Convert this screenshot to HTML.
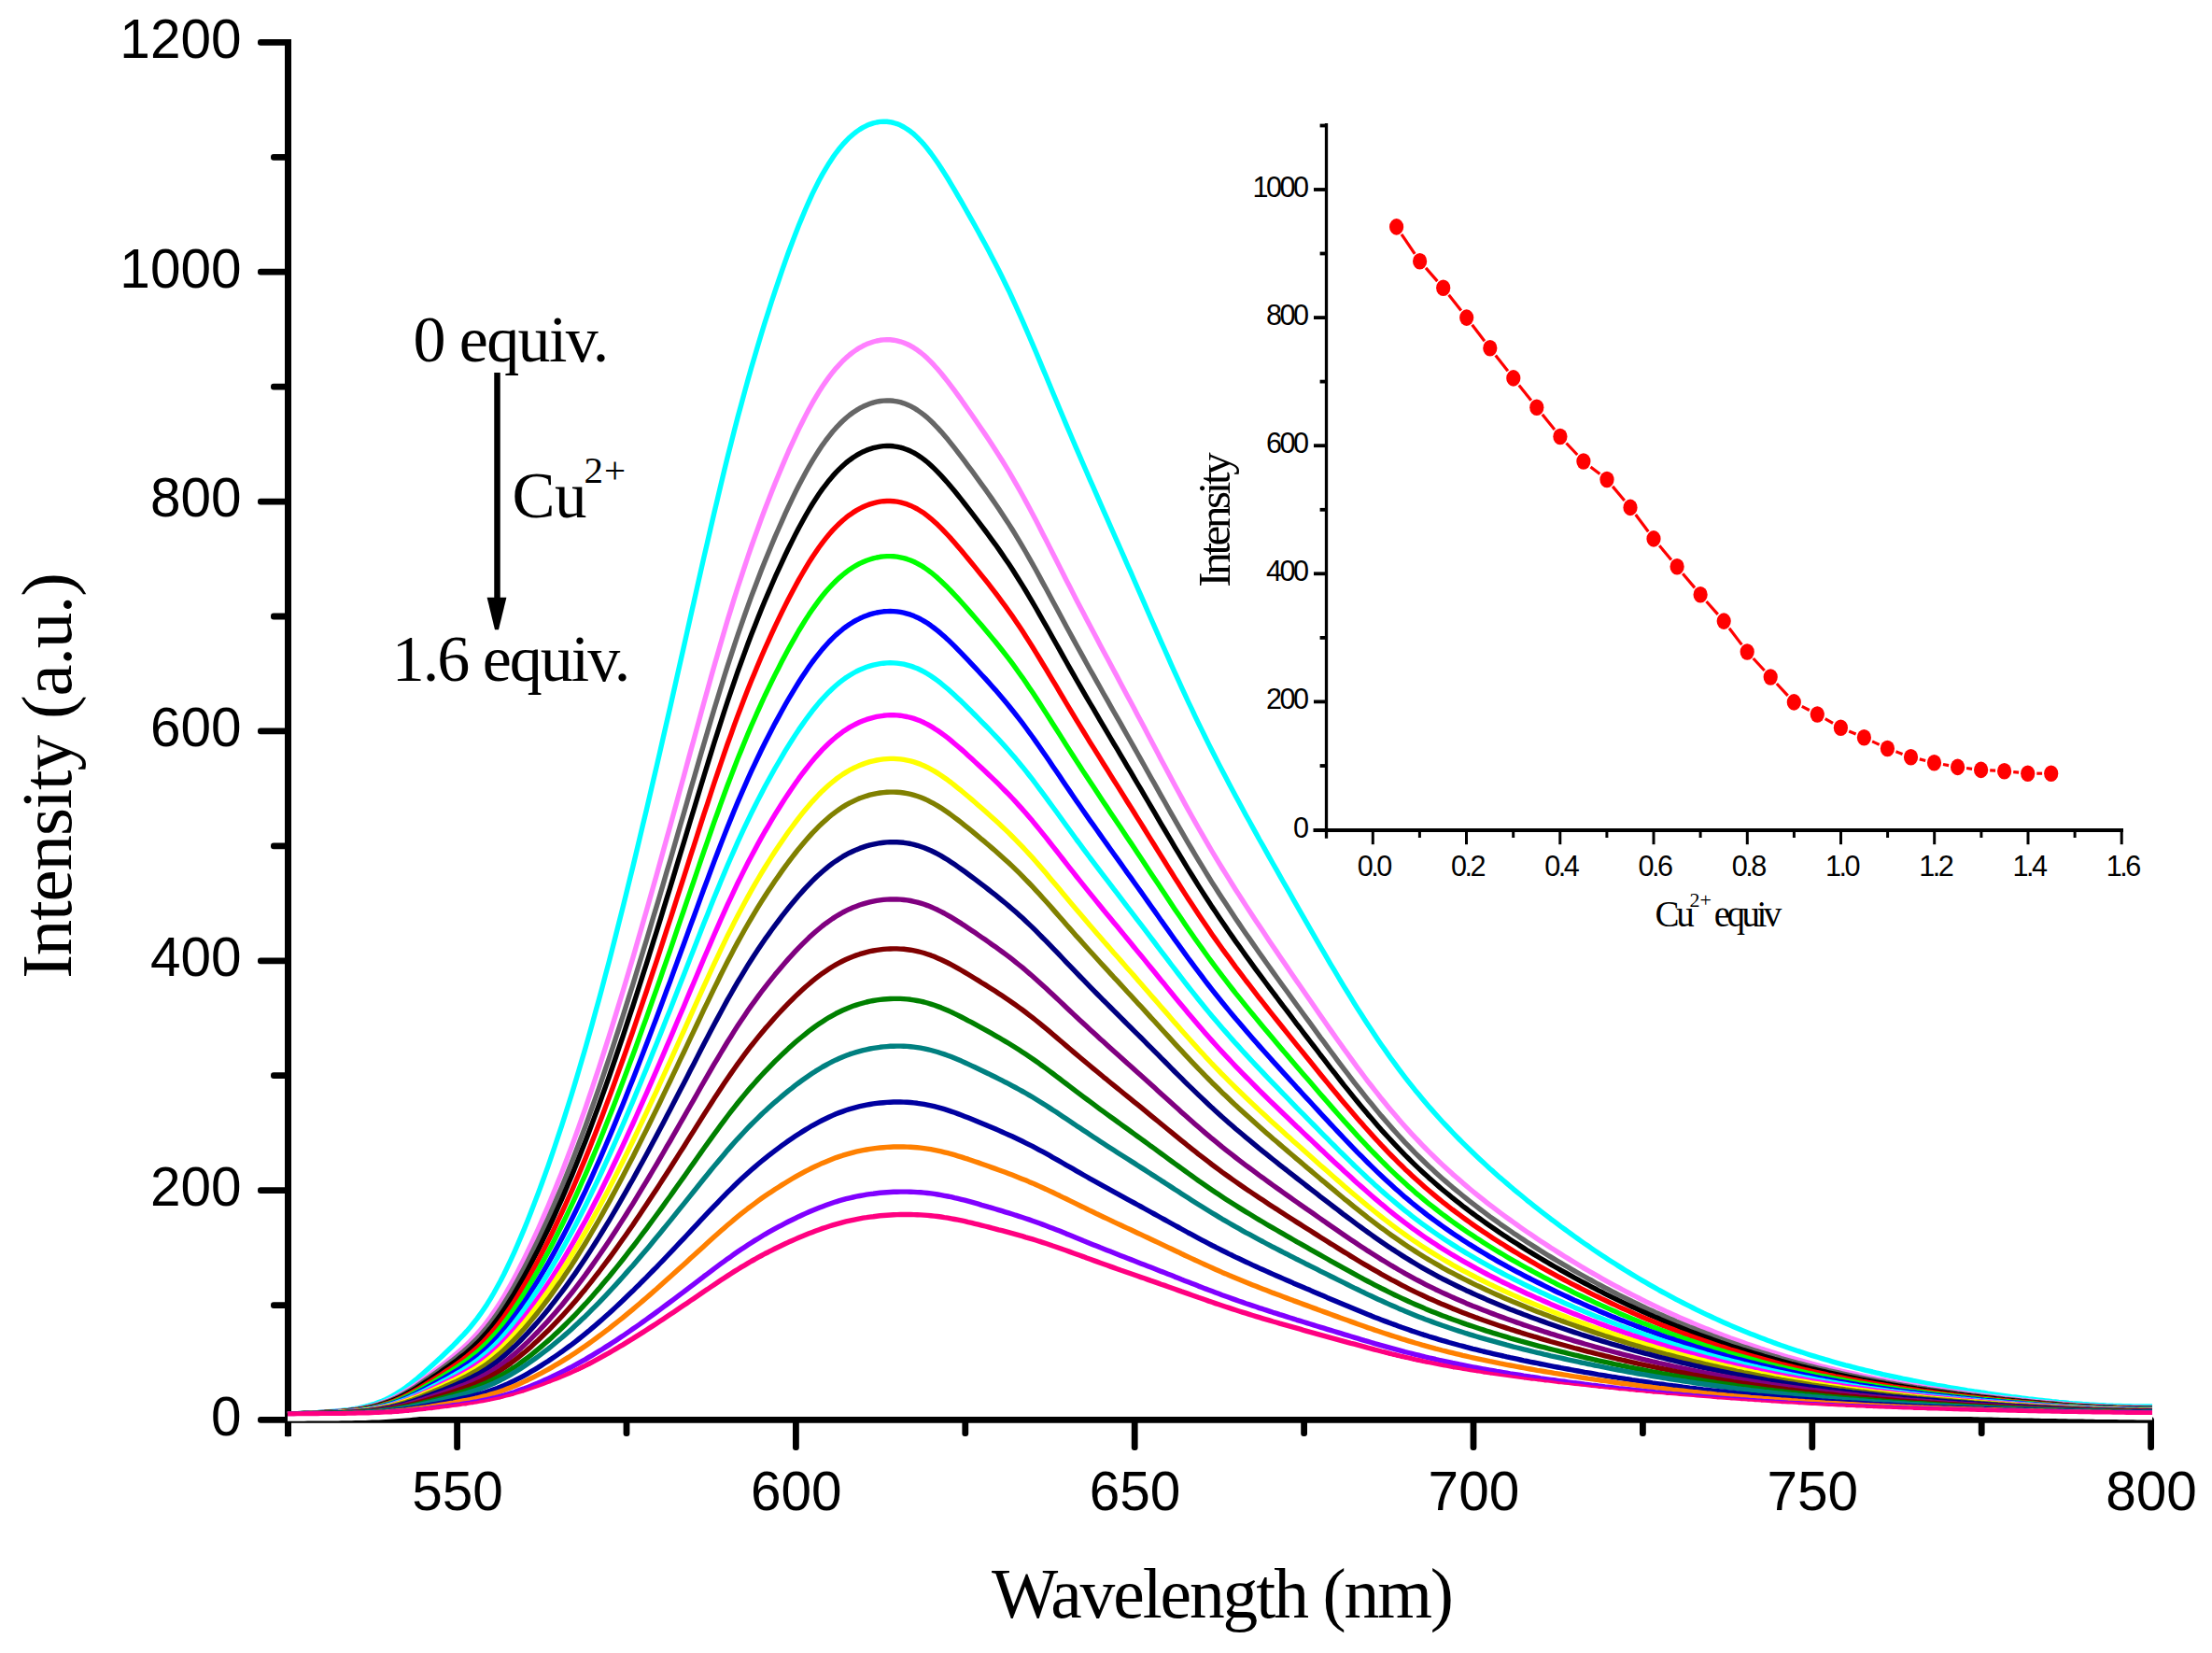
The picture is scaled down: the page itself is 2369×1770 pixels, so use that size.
<!DOCTYPE html>
<html><head><meta charset="utf-8"><title>Fluorescence titration</title>
<style>html,body{margin:0;padding:0;background:#fff}svg{display:block}</style></head>
<body><svg width="2369" height="1770" viewBox="0 0 2369 1770">
<rect width="2369" height="1770" fill="#fff"/>
<g stroke="#000" stroke-width="7" stroke-linecap="butt" fill="none">
<line x1="308.5" y1="42" x2="308.5" y2="1538"/>
<rect x="276" y="1516.9" width="2030.6" height="6.8" rx="3" fill="#000" stroke="none"/>
<rect x="305" y="1500" width="6.9" height="38.2" rx="2" fill="#000" stroke="none"/>
<rect x="290" y="1394.2" width="18" height="6.8" rx="3" fill="#000" stroke="none"/>
<rect x="276" y="1271.2" width="32" height="6.8" rx="3" fill="#000" stroke="none"/>
<rect x="290" y="1148.3" width="18" height="6.8" rx="3" fill="#000" stroke="none"/>
<rect x="276" y="1025.4" width="32" height="6.8" rx="3" fill="#000" stroke="none"/>
<rect x="290" y="902.5" width="18" height="6.8" rx="3" fill="#000" stroke="none"/>
<rect x="276" y="779.5" width="32" height="6.8" rx="3" fill="#000" stroke="none"/>
<rect x="290" y="656.6" width="18" height="6.8" rx="3" fill="#000" stroke="none"/>
<rect x="276" y="533.7" width="32" height="6.8" rx="3" fill="#000" stroke="none"/>
<rect x="290" y="410.7" width="18" height="6.8" rx="3" fill="#000" stroke="none"/>
<rect x="276" y="287.8" width="32" height="6.8" rx="3" fill="#000" stroke="none"/>
<rect x="290" y="164.9" width="18" height="6.8" rx="3" fill="#000" stroke="none"/>
<rect x="276" y="41.9" width="32" height="6.8" rx="3" fill="#000" stroke="none"/>
<rect x="486.2" y="1518" width="6.8" height="35" rx="3" fill="#000" stroke="none"/>
<rect x="667.6" y="1518" width="6.8" height="20" rx="3" fill="#000" stroke="none"/>
<rect x="849.0" y="1518" width="6.8" height="35" rx="3" fill="#000" stroke="none"/>
<rect x="1030.4" y="1518" width="6.8" height="20" rx="3" fill="#000" stroke="none"/>
<rect x="1211.8" y="1518" width="6.8" height="35" rx="3" fill="#000" stroke="none"/>
<rect x="1393.2" y="1518" width="6.8" height="20" rx="3" fill="#000" stroke="none"/>
<rect x="1574.6" y="1518" width="6.8" height="35" rx="3" fill="#000" stroke="none"/>
<rect x="1756.0" y="1518" width="6.8" height="20" rx="3" fill="#000" stroke="none"/>
<rect x="1937.4" y="1518" width="6.8" height="35" rx="3" fill="#000" stroke="none"/>
<rect x="2118.8" y="1518" width="6.8" height="20" rx="3" fill="#000" stroke="none"/>
<rect x="2300.2" y="1518" width="6.8" height="35" rx="3" fill="#000" stroke="none"/>
</g>
<g fill="none" stroke-width="5.4" stroke-linejoin="round" stroke-linecap="butt">
<polyline stroke="#00FFFF" points="308,1514.3 311.2,1514.1 314.9,1513.9 318.5,1513.6 322.1,1513.4 325.7,1513.2 329.4,1513.0 333.0,1512.8 336.6,1512.6 340.3,1512.4 343.9,1512.1 347.5,1511.9 351.1,1511.7 354.8,1511.4 358.4,1511.1 362.0,1510.8 365.6,1510.4 369.3,1510.0 372.9,1509.6 376.5,1509.1 380.2,1508.5 383.8,1507.8 387.4,1507.0 391.0,1506.2 394.7,1505.2 398.3,1504.1 401.9,1503.0 405.6,1501.6 409.2,1500.2 412.8,1498.6 416.4,1496.8 420.1,1494.9 423.7,1492.9 427.3,1490.6 431.0,1488.2 434.6,1485.7 438.2,1483.0 441.8,1480.1 445.5,1477.2 449.1,1474.1 452.7,1471.0 456.3,1467.8 460.0,1464.5 463.6,1461.2 467.2,1457.9 470.9,1454.6 474.5,1451.2 478.1,1447.7 481.7,1444.2 485.4,1440.7 489.0,1437.0 492.6,1433.2 496.3,1429.4 499.9,1425.4 503.5,1421.2 507.1,1416.8 510.8,1412.1 514.4,1407.2 518.0,1402.0 521.7,1396.4 525.3,1390.6 528.9,1384.5 532.5,1378.0 536.2,1371.2 539.8,1364.2 543.4,1356.8 547.0,1349.1 550.7,1341.1 554.3,1332.9 557.9,1324.4 561.6,1315.6 565.2,1306.7 568.8,1297.5 572.4,1288.1 576.1,1278.6 579.7,1268.8 583.3,1258.8 587.0,1248.6 590.6,1238.1 594.2,1227.5 597.8,1216.7 601.5,1205.7 605.1,1194.4 608.7,1183.0 612.4,1171.3 616.0,1159.4 619.6,1147.3 623.2,1135.0 626.9,1122.5 630.5,1109.8 634.1,1096.9 637.7,1083.8 641.4,1070.5 645.0,1057.1 648.6,1043.4 652.3,1029.6 655.9,1015.6 659.5,1001.5 663.1,987.2 666.8,972.7 670.4,958.1 674.0,943.4 677.7,928.5 681.3,913.5 684.9,898.4 688.5,883.2 692.2,867.8 695.8,852.4 699.4,836.8 703.1,821.2 706.7,805.5 710.3,789.7 713.9,773.8 717.6,757.9 721.2,741.9 724.8,725.8 728.4,709.8 732.1,693.6 735.7,677.5 739.3,661.3 743.0,645.1 746.6,629.0 750.2,613.0 753.8,597.0 757.5,581.1 761.1,565.4 764.7,549.8 768.4,534.3 772.0,519.1 775.6,504.1 779.2,489.4 782.9,474.9 786.5,460.7 790.1,446.8 793.8,433.2 797.4,419.9 801.0,406.8 804.6,394.0 808.3,381.5 811.9,369.3 815.5,357.3 819.1,345.5 822.8,334.1 826.4,322.8 830.0,311.8 833.7,301.0 837.3,290.4 840.9,280.1 844.5,270.0 848.2,260.2 851.8,250.7 855.4,241.5 859.1,232.6 862.7,224.0 866.3,215.8 869.9,207.9 873.6,200.4 877.2,193.3 880.8,186.6 884.5,180.3 888.1,174.4 891.7,168.9 895.3,163.8 899.0,159.0 902.6,154.7 906.2,150.8 909.8,147.2 913.5,144.0 917.1,141.1 920.7,138.6 924.4,136.4 928.0,134.6 931.6,133.1 935.2,131.9 938.9,131.0 942.5,130.4 946.1,130.2 949.8,130.3 953.4,130.7 957.0,131.5 960.6,132.6 964.3,134.1 967.9,136.0 971.5,138.2 975.2,140.8 978.8,143.7 982.4,147.1 986.0,150.8 989.7,154.9 993.3,159.3 996.9,164.0 1000.5,169.0 1004.2,174.3 1007.8,179.7 1011.4,185.4 1015.1,191.3 1018.7,197.3 1022.3,203.4 1025.9,209.6 1029.6,215.9 1033.2,222.3 1036.8,228.6 1040.5,235.1 1044.1,241.5 1047.7,248.0 1051.3,254.6 1055.0,261.3 1058.6,268.1 1062.2,274.9 1065.9,281.9 1069.5,289.0 1073.1,296.3 1076.7,303.7 1080.4,311.2 1084.0,319.0 1087.6,326.8 1091.2,334.9 1094.9,343.1 1098.5,351.3 1102.1,359.8 1105.8,368.3 1109.4,376.8 1113.0,385.4 1116.6,394.1 1120.3,402.8 1123.9,411.5 1127.5,420.3 1131.2,429.0 1134.8,437.7 1138.4,446.3 1142.0,454.9 1145.7,463.5 1149.3,472.0 1152.9,480.4 1156.6,488.8 1160.2,497.2 1163.8,505.5 1167.4,513.9 1171.1,522.1 1174.7,530.4 1178.3,538.6 1181.9,546.9 1185.6,555.1 1189.2,563.3 1192.8,571.5 1196.5,579.8 1200.1,588.0 1203.7,596.2 1207.3,604.5 1211.0,612.7 1214.6,621.0 1218.2,629.3 1221.9,637.6 1225.5,645.9 1229.1,654.2 1232.7,662.5 1236.4,670.8 1240.0,679.1 1243.6,687.3 1247.3,695.5 1250.9,703.6 1254.5,711.8 1258.1,719.8 1261.8,727.8 1265.4,735.8 1269.0,743.6 1272.6,751.5 1276.3,759.2 1279.9,766.8 1283.5,774.4 1287.2,781.9 1290.8,789.3 1294.4,796.6 1298.0,803.8 1301.7,811.0 1305.3,818.1 1308.9,825.1 1312.6,832.1 1316.2,839.0 1319.8,845.8 1323.4,852.6 1327.1,859.3 1330.7,866.0 1334.3,872.7 1338.0,879.3 1341.6,885.9 1345.2,892.4 1348.8,899.0 1352.5,905.4 1356.1,911.9 1359.7,918.4 1363.3,924.8 1367.0,931.2 1370.6,937.6 1374.2,944.0 1377.9,950.4 1381.5,956.7 1385.1,963.1 1388.7,969.4 1392.4,975.8 1396.0,982.1 1399.6,988.4 1403.3,994.8 1406.9,1001.1 1410.5,1007.4 1414.1,1013.6 1417.8,1019.9 1421.4,1026.1 1425.0,1032.3 1428.7,1038.4 1432.3,1044.5 1435.9,1050.6 1439.5,1056.6 1443.2,1062.5 1446.8,1068.4 1450.4,1074.3 1454.0,1080.1 1457.7,1085.8 1461.3,1091.5 1464.9,1097.0 1468.6,1102.6 1472.2,1108.0 1475.8,1113.4 1479.4,1118.7 1483.1,1123.9 1486.7,1129.1 1490.3,1134.2 1494.0,1139.1 1497.6,1144.1 1501.2,1148.9 1504.8,1153.6 1508.5,1158.3 1512.1,1162.9 1515.7,1167.4 1519.4,1171.8 1523.0,1176.2 1526.6,1180.5 1530.2,1184.7 1533.9,1188.9 1537.5,1193.0 1541.1,1197.0 1544.7,1201.0 1548.4,1204.9 1552.0,1208.7 1555.6,1212.5 1559.3,1216.3 1562.9,1220.0 1566.5,1223.6 1570.1,1227.2 1573.8,1230.8 1577.4,1234.3 1581.0,1237.7 1584.7,1241.2 1588.3,1244.5 1591.9,1247.9 1595.5,1251.2 1599.2,1254.4 1602.8,1257.7 1606.4,1260.9 1610.1,1264.0 1613.7,1267.1 1617.3,1270.2 1620.9,1273.3 1624.6,1276.3 1628.2,1279.3 1631.8,1282.3 1635.4,1285.3 1639.1,1288.2 1642.7,1291.1 1646.3,1293.9 1650.0,1296.8 1653.6,1299.6 1657.2,1302.4 1660.8,1305.2 1664.5,1307.9 1668.1,1310.7 1671.7,1313.4 1675.4,1316.0 1679.0,1318.7 1682.6,1321.3 1686.2,1323.9 1689.9,1326.5 1693.5,1329.1 1697.1,1331.6 1700.8,1334.1 1704.4,1336.6 1708.0,1339.1 1711.6,1341.5 1715.3,1343.9 1718.9,1346.3 1722.5,1348.7 1726.1,1351.0 1729.8,1353.3 1733.4,1355.6 1737.0,1357.9 1740.7,1360.2 1744.3,1362.4 1747.9,1364.6 1751.5,1366.8 1755.2,1369.0 1758.8,1371.1 1762.4,1373.2 1766.1,1375.3 1769.7,1377.4 1773.3,1379.4 1776.9,1381.5 1780.6,1383.5 1784.2,1385.4 1787.8,1387.4 1791.5,1389.4 1795.1,1391.3 1798.7,1393.2 1802.3,1395.0 1806.0,1396.9 1809.6,1398.7 1813.2,1400.5 1816.8,1402.3 1820.5,1404.1 1824.1,1405.9 1827.7,1407.6 1831.4,1409.3 1835.0,1411.0 1838.6,1412.6 1842.2,1414.3 1845.9,1415.9 1849.5,1417.5 1853.1,1419.1 1856.8,1420.7 1860.4,1422.2 1864.0,1423.7 1867.6,1425.2 1871.3,1426.7 1874.9,1428.2 1878.5,1429.6 1882.2,1431.0 1885.8,1432.4 1889.4,1433.8 1893.0,1435.2 1896.7,1436.5 1900.3,1437.9 1903.9,1439.2 1907.5,1440.5 1911.2,1441.7 1914.8,1443.0 1918.4,1444.2 1922.1,1445.5 1925.7,1446.7 1929.3,1447.8 1932.9,1449.0 1936.6,1450.2 1940.2,1451.3 1943.8,1452.4 1947.5,1453.5 1951.1,1454.6 1954.7,1455.7 1958.3,1456.7 1962.0,1457.8 1965.6,1458.8 1969.2,1459.8 1972.9,1460.8 1976.5,1461.8 1980.1,1462.7 1983.7,1463.7 1987.4,1464.6 1991.0,1465.5 1994.6,1466.4 1998.2,1467.3 2001.9,1468.2 2005.5,1469.0 2009.1,1469.9 2012.8,1470.7 2016.4,1471.6 2020.0,1472.4 2023.6,1473.2 2027.3,1474.0 2030.9,1474.7 2034.5,1475.5 2038.2,1476.3 2041.8,1477.0 2045.4,1477.7 2049.0,1478.5 2052.7,1479.2 2056.3,1479.9 2059.9,1480.6 2063.6,1481.3 2067.2,1481.9 2070.8,1482.6 2074.4,1483.3 2078.1,1483.9 2081.7,1484.5 2085.3,1485.2 2088.9,1485.8 2092.6,1486.4 2096.2,1487.0 2099.8,1487.6 2103.5,1488.2 2107.1,1488.8 2110.7,1489.3 2114.3,1489.9 2118.0,1490.4 2121.6,1491.0 2125.2,1491.5 2128.9,1492.1 2132.5,1492.6 2136.1,1493.1 2139.7,1493.6 2143.4,1494.1 2147.0,1494.6 2150.6,1495.1 2154.3,1495.6 2157.9,1496.0 2161.5,1496.5 2165.1,1497.0 2168.8,1497.4 2172.4,1497.9 2176.0,1498.3 2179.6,1498.7 2183.3,1499.1 2186.9,1499.5 2190.5,1499.9 2194.2,1500.3 2197.8,1500.7 2201.4,1501.0 2205.0,1501.4 2208.7,1501.7 2212.3,1502.0 2215.9,1502.4 2219.6,1502.7 2223.2,1502.9 2226.8,1503.2 2230.4,1503.5 2234.1,1503.7 2237.7,1504.0 2241.3,1504.2 2245.0,1504.4 2248.6,1504.6 2252.2,1504.8 2255.8,1505.0 2259.5,1505.1 2263.1,1505.3 2266.7,1505.4 2270.3,1505.5 2274.0,1505.6 2277.6,1505.7 2281.2,1505.8 2284.9,1505.9 2288.5,1505.9 2292.1,1506.0 2295.7,1506.0 2299.4,1506.0 2303.0,1506.0 2305,1506.0"/>
<polyline stroke="#FF80FF" points="308,1514.2 311.2,1514.0 314.9,1513.8 318.5,1513.6 322.1,1513.5 325.7,1513.3 329.4,1513.1 333.0,1512.9 336.6,1512.8 340.3,1512.6 343.9,1512.4 347.5,1512.2 351.1,1512.0 354.8,1511.8 358.4,1511.5 362.0,1511.2 365.6,1510.9 369.3,1510.6 372.9,1510.2 376.5,1509.8 380.2,1509.3 383.8,1508.7 387.4,1508.0 391.0,1507.3 394.7,1506.4 398.3,1505.5 401.9,1504.5 405.6,1503.4 409.2,1502.1 412.8,1500.7 416.4,1499.3 420.1,1497.6 423.7,1495.9 427.3,1494.0 431.0,1492.0 434.6,1489.8 438.2,1487.6 441.8,1485.2 445.5,1482.7 449.1,1480.1 452.7,1477.5 456.3,1474.9 460.0,1472.2 463.6,1469.5 467.2,1466.7 470.9,1463.9 474.5,1461.1 478.1,1458.3 481.7,1455.3 485.4,1452.4 489.0,1449.3 492.6,1446.2 496.3,1443.0 499.9,1439.6 503.5,1436.1 507.1,1432.4 510.8,1428.4 514.4,1424.3 518.0,1419.9 521.7,1415.2 525.3,1410.3 528.9,1405.1 532.5,1399.7 536.2,1394.0 539.8,1388.1 543.4,1381.9 547.0,1375.5 550.7,1368.8 554.3,1361.9 557.9,1354.8 561.6,1347.5 565.2,1340.0 568.8,1332.4 572.4,1324.6 576.1,1316.6 579.7,1308.4 583.3,1300.1 587.0,1291.6 590.6,1282.9 594.2,1274.1 597.8,1265.1 601.5,1255.9 605.1,1246.5 608.7,1237.0 612.4,1227.3 616.0,1217.4 619.6,1207.4 623.2,1197.2 626.9,1186.8 630.5,1176.2 634.1,1165.5 637.7,1154.6 641.4,1143.6 645.0,1132.4 648.6,1121.1 652.3,1109.7 655.9,1098.1 659.5,1086.4 663.1,1074.5 666.8,1062.5 670.4,1050.5 674.0,1038.3 677.7,1026.0 681.3,1013.6 684.9,1001.1 688.5,988.5 692.2,975.8 695.8,963.0 699.4,950.2 703.1,937.3 706.7,924.3 710.3,911.3 713.9,898.2 717.6,885.1 721.2,871.9 724.8,858.7 728.4,845.4 732.1,832.1 735.7,818.8 739.3,805.5 743.0,792.2 746.6,778.9 750.2,765.7 753.8,752.6 757.5,739.5 761.1,726.5 764.7,713.7 768.4,701.0 772.0,688.5 775.6,676.2 779.2,664.0 782.9,652.1 786.5,640.4 790.1,629.0 793.8,617.8 797.4,606.8 801.0,596.0 804.6,585.5 808.3,575.2 811.9,565.1 815.5,555.2 819.1,545.5 822.8,536.1 826.4,526.8 830.0,517.7 833.7,508.8 837.3,500.1 840.9,491.6 844.5,483.2 848.2,475.1 851.8,467.3 855.4,459.6 859.1,452.2 862.7,445.1 866.3,438.2 869.9,431.7 873.6,425.4 877.2,419.4 880.8,413.7 884.5,408.4 888.1,403.4 891.7,398.7 895.3,394.3 899.0,390.3 902.6,386.5 906.2,383.1 909.8,380.0 913.5,377.1 917.1,374.6 920.7,372.3 924.4,370.3 928.0,368.6 931.6,367.2 935.2,366.0 938.9,365.0 942.5,364.3 946.1,363.9 949.8,363.7 953.4,363.8 957.0,364.2 960.6,364.9 964.3,365.8 967.9,367.0 971.5,368.5 975.2,370.3 978.8,372.4 982.4,374.8 986.0,377.5 989.7,380.5 993.3,383.8 996.9,387.4 1000.5,391.2 1004.2,395.3 1007.8,399.5 1011.4,404.0 1015.1,408.6 1018.7,413.3 1022.3,418.2 1025.9,423.2 1029.6,428.2 1033.2,433.4 1036.8,438.5 1040.5,443.7 1044.1,449.0 1047.7,454.2 1051.3,459.5 1055.0,464.9 1058.6,470.3 1062.2,475.8 1065.9,481.4 1069.5,487.1 1073.1,492.8 1076.7,498.7 1080.4,504.7 1084.0,510.8 1087.6,517.1 1091.2,523.4 1094.9,530.0 1098.5,536.6 1102.1,543.3 1105.8,550.2 1109.4,557.1 1113.0,564.1 1116.6,571.2 1120.3,578.3 1123.9,585.4 1127.5,592.5 1131.2,599.7 1134.8,606.9 1138.4,614.0 1142.0,621.2 1145.7,628.3 1149.3,635.4 1152.9,642.4 1156.6,649.4 1160.2,656.3 1163.8,663.2 1167.4,670.1 1171.1,677.0 1174.7,683.8 1178.3,690.7 1181.9,697.5 1185.6,704.3 1189.2,711.0 1192.8,717.8 1196.5,724.6 1200.1,731.4 1203.7,738.2 1207.3,745.0 1211.0,751.8 1214.6,758.6 1218.2,765.4 1221.9,772.2 1225.5,779.1 1229.1,785.9 1232.7,792.8 1236.4,799.7 1240.0,806.5 1243.6,813.4 1247.3,820.2 1250.9,827.0 1254.5,833.8 1258.1,840.6 1261.8,847.3 1265.4,853.9 1269.0,860.6 1272.6,867.1 1276.3,873.7 1279.9,880.1 1283.5,886.5 1287.2,892.9 1290.8,899.2 1294.4,905.4 1298.0,911.5 1301.7,917.6 1305.3,923.6 1308.9,929.5 1312.6,935.4 1316.2,941.2 1319.8,947.0 1323.4,952.7 1327.1,958.4 1330.7,964.0 1334.3,969.6 1338.0,975.2 1341.6,980.7 1345.2,986.2 1348.8,991.6 1352.5,997.1 1356.1,1002.5 1359.7,1007.9 1363.3,1013.3 1367.0,1018.6 1370.6,1023.9 1374.2,1029.3 1377.9,1034.6 1381.5,1039.9 1385.1,1045.2 1388.7,1050.5 1392.4,1055.7 1396.0,1061.0 1399.6,1066.3 1403.3,1071.5 1406.9,1076.8 1410.5,1082.0 1414.1,1087.3 1417.8,1092.5 1421.4,1097.7 1425.0,1102.9 1428.7,1108.1 1432.3,1113.2 1435.9,1118.3 1439.5,1123.4 1443.2,1128.4 1446.8,1133.4 1450.4,1138.4 1454.0,1143.3 1457.7,1148.2 1461.3,1153.0 1464.9,1157.8 1468.6,1162.5 1472.2,1167.1 1475.8,1171.7 1479.4,1176.3 1483.1,1180.8 1486.7,1185.2 1490.3,1189.5 1494.0,1193.8 1497.6,1198.1 1501.2,1202.2 1504.8,1206.3 1508.5,1210.4 1512.1,1214.3 1515.7,1218.2 1519.4,1222.0 1523.0,1225.8 1526.6,1229.5 1530.2,1233.1 1533.9,1236.7 1537.5,1240.2 1541.1,1243.7 1544.7,1247.1 1548.4,1250.5 1552.0,1253.8 1555.6,1257.1 1559.3,1260.3 1562.9,1263.4 1566.5,1266.6 1570.1,1269.6 1573.8,1272.7 1577.4,1275.7 1581.0,1278.6 1584.7,1281.6 1588.3,1284.4 1591.9,1287.3 1595.5,1290.1 1599.2,1292.9 1602.8,1295.6 1606.4,1298.4 1610.1,1301.1 1613.7,1303.7 1617.3,1306.3 1620.9,1308.9 1624.6,1311.5 1628.2,1314.1 1631.8,1316.6 1635.4,1319.1 1639.1,1321.6 1642.7,1324.0 1646.3,1326.5 1650.0,1328.9 1653.6,1331.3 1657.2,1333.6 1660.8,1336.0 1664.5,1338.3 1668.1,1340.6 1671.7,1342.9 1675.4,1345.2 1679.0,1347.4 1682.6,1349.6 1686.2,1351.8 1689.9,1354.0 1693.5,1356.2 1697.1,1358.4 1700.8,1360.5 1704.4,1362.6 1708.0,1364.7 1711.6,1366.7 1715.3,1368.8 1718.9,1370.8 1722.5,1372.8 1726.1,1374.8 1729.8,1376.8 1733.4,1378.7 1737.0,1380.7 1740.7,1382.6 1744.3,1384.5 1747.9,1386.4 1751.5,1388.2 1755.2,1390.0 1758.8,1391.9 1762.4,1393.7 1766.1,1395.4 1769.7,1397.2 1773.3,1398.9 1776.9,1400.7 1780.6,1402.4 1784.2,1404.1 1787.8,1405.7 1791.5,1407.4 1795.1,1409.0 1798.7,1410.6 1802.3,1412.2 1806.0,1413.8 1809.6,1415.3 1813.2,1416.9 1816.8,1418.4 1820.5,1419.9 1824.1,1421.4 1827.7,1422.9 1831.4,1424.3 1835.0,1425.8 1838.6,1427.2 1842.2,1428.6 1845.9,1430.0 1849.5,1431.3 1853.1,1432.7 1856.8,1434.0 1860.4,1435.3 1864.0,1436.6 1867.6,1437.9 1871.3,1439.2 1874.9,1440.4 1878.5,1441.6 1882.2,1442.9 1885.8,1444.1 1889.4,1445.2 1893.0,1446.4 1896.7,1447.6 1900.3,1448.7 1903.9,1449.8 1907.5,1450.9 1911.2,1452.0 1914.8,1453.1 1918.4,1454.1 1922.1,1455.2 1925.7,1456.2 1929.3,1457.2 1932.9,1458.2 1936.6,1459.2 1940.2,1460.2 1943.8,1461.1 1947.5,1462.1 1951.1,1463.0 1954.7,1463.9 1958.3,1464.8 1962.0,1465.7 1965.6,1466.6 1969.2,1467.4 1972.9,1468.3 1976.5,1469.1 1980.1,1469.9 1983.7,1470.7 1987.4,1471.5 1991.0,1472.3 1994.6,1473.1 1998.2,1473.8 2001.9,1474.6 2005.5,1475.3 2009.1,1476.1 2012.8,1476.8 2016.4,1477.5 2020.0,1478.2 2023.6,1478.9 2027.3,1479.5 2030.9,1480.2 2034.5,1480.9 2038.2,1481.5 2041.8,1482.1 2045.4,1482.8 2049.0,1483.4 2052.7,1484.0 2056.3,1484.6 2059.9,1485.2 2063.6,1485.8 2067.2,1486.3 2070.8,1486.9 2074.4,1487.5 2078.1,1488.0 2081.7,1488.5 2085.3,1489.1 2088.9,1489.6 2092.6,1490.1 2096.2,1490.6 2099.8,1491.1 2103.5,1491.6 2107.1,1492.1 2110.7,1492.6 2114.3,1493.1 2118.0,1493.6 2121.6,1494.0 2125.2,1494.5 2128.9,1494.9 2132.5,1495.4 2136.1,1495.8 2139.7,1496.3 2143.4,1496.7 2147.0,1497.1 2150.6,1497.5 2154.3,1497.9 2157.9,1498.3 2161.5,1498.7 2165.1,1499.1 2168.8,1499.5 2172.4,1499.9 2176.0,1500.3 2179.6,1500.6 2183.3,1501.0 2186.9,1501.3 2190.5,1501.7 2194.2,1502.0 2197.8,1502.3 2201.4,1502.7 2205.0,1503.0 2208.7,1503.3 2212.3,1503.6 2215.9,1503.8 2219.6,1504.1 2223.2,1504.4 2226.8,1504.6 2230.4,1504.9 2234.1,1505.1 2237.7,1505.3 2241.3,1505.5 2245.0,1505.7 2248.6,1505.9 2252.2,1506.1 2255.8,1506.2 2259.5,1506.4 2263.1,1506.5 2266.7,1506.7 2270.3,1506.8 2274.0,1506.9 2277.6,1507.0 2281.2,1507.1 2284.9,1507.2 2288.5,1507.3 2292.1,1507.3 2295.7,1507.4 2299.4,1507.4 2303.0,1507.4 2305,1507.4"/>
<polyline stroke="#666666" points="308,1514.2 311.2,1514.0 314.9,1513.8 318.5,1513.7 322.1,1513.5 325.7,1513.3 329.4,1513.2 333.0,1513.0 336.6,1512.9 340.3,1512.7 343.9,1512.5 347.5,1512.3 351.1,1512.1 354.8,1511.9 358.4,1511.7 362.0,1511.4 365.6,1511.1 369.3,1510.8 372.9,1510.5 376.5,1510.0 380.2,1509.6 383.8,1509.0 387.4,1508.4 391.0,1507.7 394.7,1506.9 398.3,1506.1 401.9,1505.1 405.6,1504.1 409.2,1502.9 412.8,1501.6 416.4,1500.2 420.1,1498.7 423.7,1497.1 427.3,1495.3 431.0,1493.4 434.6,1491.4 438.2,1489.2 441.8,1487.0 445.5,1484.7 449.1,1482.3 452.7,1479.8 456.3,1477.3 460.0,1474.8 463.6,1472.2 467.2,1469.6 470.9,1467.0 474.5,1464.4 478.1,1461.7 481.7,1459.0 485.4,1456.2 489.0,1453.3 492.6,1450.4 496.3,1447.3 499.9,1444.1 503.5,1440.8 507.1,1437.3 510.8,1433.7 514.4,1429.8 518.0,1425.6 521.7,1421.2 525.3,1416.6 528.9,1411.8 532.5,1406.7 536.2,1401.3 539.8,1395.7 543.4,1389.9 547.0,1383.9 550.7,1377.6 554.3,1371.1 557.9,1364.4 561.6,1357.5 565.2,1350.5 568.8,1343.3 572.4,1335.9 576.1,1328.4 579.7,1320.7 583.3,1312.9 587.0,1304.9 590.6,1296.7 594.2,1288.4 597.8,1279.9 601.5,1271.2 605.1,1262.4 608.7,1253.4 612.4,1244.3 616.0,1235.0 619.6,1225.5 623.2,1215.9 626.9,1206.1 630.5,1196.1 634.1,1186.0 637.7,1175.8 641.4,1165.4 645.0,1154.9 648.6,1144.2 652.3,1133.4 655.9,1122.5 659.5,1111.4 663.1,1100.3 666.8,1089.0 670.4,1077.6 674.0,1066.1 677.7,1054.5 681.3,1042.8 684.9,1031.0 688.5,1019.2 692.2,1007.2 695.8,995.2 699.4,983.1 703.1,970.9 706.7,958.7 710.3,946.4 713.9,934.0 717.6,921.7 721.2,909.2 724.8,896.7 728.4,884.2 732.1,871.7 735.7,859.2 739.3,846.6 743.0,834.1 746.6,821.5 750.2,809.1 753.8,796.7 757.5,784.3 761.1,772.1 764.7,760.0 768.4,748.0 772.0,736.2 775.6,724.5 779.2,713.1 782.9,701.8 786.5,690.8 790.1,680.0 793.8,669.4 797.4,659.0 801.0,648.9 804.6,638.9 808.3,629.2 811.9,619.7 815.5,610.3 819.1,601.2 822.8,592.3 826.4,583.5 830.0,574.9 833.7,566.5 837.3,558.3 840.9,550.2 844.5,542.4 848.2,534.7 851.8,527.2 855.4,520.0 859.1,513.0 862.7,506.3 866.3,499.8 869.9,493.6 873.6,487.6 877.2,482.0 880.8,476.6 884.5,471.5 888.1,466.8 891.7,462.3 895.3,458.2 899.0,454.3 902.6,450.8 906.2,447.5 909.8,444.5 913.5,441.8 917.1,439.4 920.7,437.2 924.4,435.3 928.0,433.7 931.6,432.3 935.2,431.1 938.9,430.2 942.5,429.5 946.1,429.1 949.8,428.9 953.4,429.0 957.0,429.3 960.6,429.9 964.3,430.7 967.9,431.8 971.5,433.2 975.2,434.9 978.8,436.8 982.4,439.1 986.0,441.6 989.7,444.4 993.3,447.4 996.9,450.8 1000.5,454.3 1004.2,458.1 1007.8,462.1 1011.4,466.3 1015.1,470.6 1018.7,475.1 1022.3,479.6 1025.9,484.3 1029.6,489.1 1033.2,493.9 1036.8,498.8 1040.5,503.7 1044.1,508.6 1047.7,513.6 1051.3,518.6 1055.0,523.6 1058.6,528.7 1062.2,533.9 1065.9,539.2 1069.5,544.5 1073.1,549.9 1076.7,555.4 1080.4,561.1 1084.0,566.8 1087.6,572.7 1091.2,578.7 1094.9,584.8 1098.5,591.0 1102.1,597.4 1105.8,603.8 1109.4,610.3 1113.0,616.9 1116.6,623.6 1120.3,630.3 1123.9,637.0 1127.5,643.7 1131.2,650.5 1134.8,657.3 1138.4,664.0 1142.0,670.7 1145.7,677.5 1149.3,684.1 1152.9,690.8 1156.6,697.4 1160.2,703.9 1163.8,710.5 1167.4,717.0 1171.1,723.4 1174.7,729.9 1178.3,736.3 1181.9,742.7 1185.6,749.2 1189.2,755.6 1192.8,762.0 1196.5,768.4 1200.1,774.7 1203.7,781.1 1207.3,787.5 1211.0,794.0 1214.6,800.4 1218.2,806.8 1221.9,813.3 1225.5,819.7 1229.1,826.2 1232.7,832.7 1236.4,839.1 1240.0,845.6 1243.6,852.1 1247.3,858.5 1250.9,865.0 1254.5,871.4 1258.1,877.7 1261.8,884.1 1265.4,890.4 1269.0,896.6 1272.6,902.8 1276.3,909.0 1279.9,915.1 1283.5,921.2 1287.2,927.2 1290.8,933.1 1294.4,939.0 1298.0,944.8 1301.7,950.5 1305.3,956.2 1308.9,961.8 1312.6,967.3 1316.2,972.8 1319.8,978.3 1323.4,983.7 1327.1,989.1 1330.7,994.4 1334.3,999.7 1338.0,1004.9 1341.6,1010.1 1345.2,1015.3 1348.8,1020.5 1352.5,1025.6 1356.1,1030.7 1359.7,1035.8 1363.3,1040.9 1367.0,1046.0 1370.6,1051.0 1374.2,1056.0 1377.9,1061.0 1381.5,1066.0 1385.1,1071.0 1388.7,1076.0 1392.4,1081.0 1396.0,1086.0 1399.6,1090.9 1403.3,1095.9 1406.9,1100.9 1410.5,1105.8 1414.1,1110.8 1417.8,1115.7 1421.4,1120.6 1425.0,1125.5 1428.7,1130.4 1432.3,1135.3 1435.9,1140.1 1439.5,1144.9 1443.2,1149.7 1446.8,1154.4 1450.4,1159.1 1454.0,1163.7 1457.7,1168.3 1461.3,1172.9 1464.9,1177.4 1468.6,1181.8 1472.2,1186.2 1475.8,1190.6 1479.4,1194.9 1483.1,1199.1 1486.7,1203.3 1490.3,1207.4 1494.0,1211.5 1497.6,1215.5 1501.2,1219.4 1504.8,1223.3 1508.5,1227.1 1512.1,1230.9 1515.7,1234.6 1519.4,1238.2 1523.0,1241.7 1526.6,1245.2 1530.2,1248.7 1533.9,1252.1 1537.5,1255.4 1541.1,1258.7 1544.7,1261.9 1548.4,1265.1 1552.0,1268.2 1555.6,1271.3 1559.3,1274.3 1562.9,1277.3 1566.5,1280.3 1570.1,1283.2 1573.8,1286.1 1577.4,1288.9 1581.0,1291.7 1584.7,1294.5 1588.3,1297.2 1591.9,1299.9 1595.5,1302.6 1599.2,1305.2 1602.8,1307.8 1606.4,1310.4 1610.1,1312.9 1613.7,1315.4 1617.3,1317.9 1620.9,1320.4 1624.6,1322.8 1628.2,1325.2 1631.8,1327.6 1635.4,1330.0 1639.1,1332.3 1642.7,1334.6 1646.3,1336.9 1650.0,1339.2 1653.6,1341.5 1657.2,1343.7 1660.8,1345.9 1664.5,1348.1 1668.1,1350.3 1671.7,1352.4 1675.4,1354.6 1679.0,1356.7 1682.6,1358.8 1686.2,1360.9 1689.9,1363.0 1693.5,1365.0 1697.1,1367.0 1700.8,1369.1 1704.4,1371.0 1708.0,1373.0 1711.6,1375.0 1715.3,1376.9 1718.9,1378.8 1722.5,1380.7 1726.1,1382.6 1729.8,1384.5 1733.4,1386.3 1737.0,1388.1 1740.7,1389.9 1744.3,1391.7 1747.9,1393.5 1751.5,1395.2 1755.2,1397.0 1758.8,1398.7 1762.4,1400.4 1766.1,1402.1 1769.7,1403.7 1773.3,1405.4 1776.9,1407.0 1780.6,1408.6 1784.2,1410.2 1787.8,1411.8 1791.5,1413.3 1795.1,1414.9 1798.7,1416.4 1802.3,1417.9 1806.0,1419.4 1809.6,1420.9 1813.2,1422.3 1816.8,1423.8 1820.5,1425.2 1824.1,1426.6 1827.7,1428.0 1831.4,1429.4 1835.0,1430.7 1838.6,1432.0 1842.2,1433.4 1845.9,1434.7 1849.5,1436.0 1853.1,1437.2 1856.8,1438.5 1860.4,1439.7 1864.0,1441.0 1867.6,1442.2 1871.3,1443.4 1874.9,1444.5 1878.5,1445.7 1882.2,1446.9 1885.8,1448.0 1889.4,1449.1 1893.0,1450.2 1896.7,1451.3 1900.3,1452.4 1903.9,1453.4 1907.5,1454.5 1911.2,1455.5 1914.8,1456.5 1918.4,1457.5 1922.1,1458.5 1925.7,1459.5 1929.3,1460.4 1932.9,1461.3 1936.6,1462.3 1940.2,1463.2 1943.8,1464.1 1947.5,1465.0 1951.1,1465.9 1954.7,1466.7 1958.3,1467.6 1962.0,1468.4 1965.6,1469.2 1969.2,1470.0 1972.9,1470.8 1976.5,1471.6 1980.1,1472.4 1983.7,1473.2 1987.4,1473.9 1991.0,1474.7 1994.6,1475.4 1998.2,1476.1 2001.9,1476.8 2005.5,1477.5 2009.1,1478.2 2012.8,1478.9 2016.4,1479.5 2020.0,1480.2 2023.6,1480.8 2027.3,1481.5 2030.9,1482.1 2034.5,1482.7 2038.2,1483.3 2041.8,1483.9 2045.4,1484.5 2049.0,1485.1 2052.7,1485.7 2056.3,1486.2 2059.9,1486.8 2063.6,1487.3 2067.2,1487.9 2070.8,1488.4 2074.4,1488.9 2078.1,1489.5 2081.7,1490.0 2085.3,1490.5 2088.9,1491.0 2092.6,1491.5 2096.2,1492.0 2099.8,1492.4 2103.5,1492.9 2107.1,1493.4 2110.7,1493.8 2114.3,1494.3 2118.0,1494.7 2121.6,1495.2 2125.2,1495.6 2128.9,1496.0 2132.5,1496.4 2136.1,1496.8 2139.7,1497.3 2143.4,1497.7 2147.0,1498.1 2150.6,1498.4 2154.3,1498.8 2157.9,1499.2 2161.5,1499.6 2165.1,1500.0 2168.8,1500.3 2172.4,1500.7 2176.0,1501.0 2179.6,1501.4 2183.3,1501.7 2186.9,1502.0 2190.5,1502.4 2194.2,1502.7 2197.8,1503.0 2201.4,1503.3 2205.0,1503.6 2208.7,1503.9 2212.3,1504.1 2215.9,1504.4 2219.6,1504.7 2223.2,1504.9 2226.8,1505.1 2230.4,1505.4 2234.1,1505.6 2237.7,1505.8 2241.3,1506.0 2245.0,1506.2 2248.6,1506.4 2252.2,1506.5 2255.8,1506.7 2259.5,1506.8 2263.1,1507.0 2266.7,1507.1 2270.3,1507.2 2274.0,1507.3 2277.6,1507.4 2281.2,1507.5 2284.9,1507.6 2288.5,1507.7 2292.1,1507.7 2295.7,1507.8 2299.4,1507.8 2303.0,1507.8 2305,1507.8"/>
<polyline stroke="#000000" points="308,1514.3 311.2,1514.1 314.9,1513.9 318.5,1513.7 322.1,1513.6 325.7,1513.4 329.4,1513.3 333.0,1513.1 336.6,1513.0 340.3,1512.8 343.9,1512.6 347.5,1512.5 351.1,1512.3 354.8,1512.1 358.4,1511.9 362.0,1511.6 365.6,1511.4 369.3,1511.1 372.9,1510.7 376.5,1510.3 380.2,1509.9 383.8,1509.4 387.4,1508.8 391.0,1508.2 394.7,1507.5 398.3,1506.7 401.9,1505.8 405.6,1504.8 409.2,1503.7 412.8,1502.5 416.4,1501.2 420.1,1499.8 423.7,1498.3 427.3,1496.6 431.0,1494.8 434.6,1492.9 438.2,1490.9 441.8,1488.8 445.5,1486.6 449.1,1484.3 452.7,1482.0 456.3,1479.6 460.0,1477.2 463.6,1474.8 467.2,1472.4 470.9,1469.9 474.5,1467.3 478.1,1464.8 481.7,1462.2 485.4,1459.5 489.0,1456.8 492.6,1454.0 496.3,1451.2 499.9,1448.2 503.5,1445.0 507.1,1441.8 510.8,1438.3 514.4,1434.6 518.0,1430.7 521.7,1426.6 525.3,1422.3 528.9,1417.7 532.5,1412.9 536.2,1407.8 539.8,1402.5 543.4,1397.0 547.0,1391.3 550.7,1385.4 554.3,1379.2 557.9,1372.9 561.6,1366.3 565.2,1359.7 568.8,1352.8 572.4,1345.8 576.1,1338.7 579.7,1331.4 583.3,1323.9 587.0,1316.3 590.6,1308.5 594.2,1300.6 597.8,1292.5 601.5,1284.3 605.1,1275.9 608.7,1267.3 612.4,1258.6 616.0,1249.8 619.6,1240.7 623.2,1231.6 626.9,1222.2 630.5,1212.8 634.1,1203.1 637.7,1193.4 641.4,1183.5 645.0,1173.4 648.6,1163.3 652.3,1153.0 655.9,1142.5 659.5,1132.0 663.1,1121.4 666.8,1110.6 670.4,1099.7 674.0,1088.7 677.7,1077.7 681.3,1066.5 684.9,1055.2 688.5,1043.9 692.2,1032.5 695.8,1021.0 699.4,1009.4 703.1,997.8 706.7,986.1 710.3,974.4 713.9,962.6 717.6,950.7 721.2,938.9 724.8,926.9 728.4,915.0 732.1,903.0 735.7,891.0 739.3,879.0 743.0,867.0 746.6,855.0 750.2,843.0 753.8,831.2 757.5,819.3 761.1,807.6 764.7,796.0 768.4,784.5 772.0,773.2 775.6,762.0 779.2,751.0 782.9,740.2 786.5,729.6 790.1,719.2 793.8,709.0 797.4,699.1 801.0,689.3 804.6,679.7 808.3,670.4 811.9,661.2 815.5,652.3 819.1,643.5 822.8,634.9 826.4,626.5 830.0,618.2 833.7,610.2 837.3,602.3 840.9,594.5 844.5,587.0 848.2,579.6 851.8,572.4 855.4,565.5 859.1,558.8 862.7,552.3 866.3,546.0 869.9,540.0 873.6,534.3 877.2,528.8 880.8,523.6 884.5,518.8 888.1,514.2 891.7,509.9 895.3,505.9 899.0,502.1 902.6,498.7 906.2,495.5 909.8,492.7 913.5,490.0 917.1,487.7 920.7,485.6 924.4,483.7 928.0,482.1 931.6,480.8 935.2,479.7 938.9,478.8 942.5,478.1 946.1,477.6 949.8,477.5 953.4,477.5 957.0,477.8 960.6,478.3 964.3,479.1 967.9,480.2 971.5,481.5 975.2,483.1 978.8,484.9 982.4,487.0 986.0,489.4 989.7,492.1 993.3,495.0 996.9,498.2 1000.5,501.6 1004.2,505.3 1007.8,509.1 1011.4,513.1 1015.1,517.2 1018.7,521.5 1022.3,525.8 1025.9,530.3 1029.6,534.9 1033.2,539.5 1036.8,544.2 1040.5,548.9 1044.1,553.6 1047.7,558.3 1051.3,563.1 1055.0,568.0 1058.6,572.9 1062.2,577.8 1065.9,582.8 1069.5,587.9 1073.1,593.1 1076.7,598.4 1080.4,603.8 1084.0,609.3 1087.6,615.0 1091.2,620.7 1094.9,626.6 1098.5,632.5 1102.1,638.6 1105.8,644.8 1109.4,651.0 1113.0,657.3 1116.6,663.7 1120.3,670.1 1123.9,676.5 1127.5,683.0 1131.2,689.5 1134.8,695.9 1138.4,702.4 1142.0,708.8 1145.7,715.3 1149.3,721.6 1152.9,728.0 1156.6,734.3 1160.2,740.6 1163.8,746.8 1167.4,753.0 1171.1,759.2 1174.7,765.4 1178.3,771.6 1181.9,777.7 1185.6,783.8 1189.2,790.0 1192.8,796.1 1196.5,802.2 1200.1,808.3 1203.7,814.4 1207.3,820.6 1211.0,826.7 1214.6,832.8 1218.2,839.0 1221.9,845.2 1225.5,851.3 1229.1,857.5 1232.7,863.7 1236.4,869.9 1240.0,876.1 1243.6,882.3 1247.3,888.5 1250.9,894.6 1254.5,900.7 1258.1,906.8 1261.8,912.9 1265.4,918.9 1269.0,924.9 1272.6,930.8 1276.3,936.7 1279.9,942.5 1283.5,948.3 1287.2,954.1 1290.8,959.7 1294.4,965.3 1298.0,970.9 1301.7,976.3 1305.3,981.8 1308.9,987.1 1312.6,992.4 1316.2,997.7 1319.8,1002.9 1323.4,1008.1 1327.1,1013.2 1330.7,1018.3 1334.3,1023.3 1338.0,1028.3 1341.6,1033.3 1345.2,1038.3 1348.8,1043.2 1352.5,1048.1 1356.1,1053.0 1359.7,1057.9 1363.3,1062.7 1367.0,1067.5 1370.6,1072.4 1374.2,1077.2 1377.9,1081.9 1381.5,1086.7 1385.1,1091.5 1388.7,1096.3 1392.4,1101.0 1396.0,1105.8 1399.6,1110.5 1403.3,1115.3 1406.9,1120.0 1410.5,1124.7 1414.1,1129.5 1417.8,1134.2 1421.4,1138.9 1425.0,1143.6 1428.7,1148.2 1432.3,1152.9 1435.9,1157.5 1439.5,1162.1 1443.2,1166.6 1446.8,1171.1 1450.4,1175.6 1454.0,1180.0 1457.7,1184.4 1461.3,1188.8 1464.9,1193.1 1468.6,1197.3 1472.2,1201.5 1475.8,1205.7 1479.4,1209.8 1483.1,1213.8 1486.7,1217.8 1490.3,1221.7 1494.0,1225.6 1497.6,1229.4 1501.2,1233.2 1504.8,1236.9 1508.5,1240.5 1512.1,1244.1 1515.7,1247.6 1519.4,1251.1 1523.0,1254.5 1526.6,1257.8 1530.2,1261.1 1533.9,1264.3 1537.5,1267.5 1541.1,1270.6 1544.7,1273.7 1548.4,1276.8 1552.0,1279.7 1555.6,1282.7 1559.3,1285.6 1562.9,1288.4 1566.5,1291.3 1570.1,1294.0 1573.8,1296.8 1577.4,1299.5 1581.0,1302.2 1584.7,1304.8 1588.3,1307.4 1591.9,1310.0 1595.5,1312.5 1599.2,1315.0 1602.8,1317.5 1606.4,1320.0 1610.1,1322.4 1613.7,1324.8 1617.3,1327.2 1620.9,1329.5 1624.6,1331.8 1628.2,1334.1 1631.8,1336.4 1635.4,1338.7 1639.1,1340.9 1642.7,1343.1 1646.3,1345.3 1650.0,1347.5 1653.6,1349.6 1657.2,1351.8 1660.8,1353.9 1664.5,1356.0 1668.1,1358.0 1671.7,1360.1 1675.4,1362.1 1679.0,1364.2 1682.6,1366.2 1686.2,1368.2 1689.9,1370.1 1693.5,1372.1 1697.1,1374.0 1700.8,1375.9 1704.4,1377.8 1708.0,1379.7 1711.6,1381.6 1715.3,1383.4 1718.9,1385.3 1722.5,1387.1 1726.1,1388.9 1729.8,1390.6 1733.4,1392.4 1737.0,1394.1 1740.7,1395.9 1744.3,1397.6 1747.9,1399.3 1751.5,1400.9 1755.2,1402.6 1758.8,1404.2 1762.4,1405.8 1766.1,1407.4 1769.7,1409.0 1773.3,1410.6 1776.9,1412.1 1780.6,1413.7 1784.2,1415.2 1787.8,1416.7 1791.5,1418.2 1795.1,1419.7 1798.7,1421.1 1802.3,1422.5 1806.0,1424.0 1809.6,1425.4 1813.2,1426.8 1816.8,1428.1 1820.5,1429.5 1824.1,1430.8 1827.7,1432.1 1831.4,1433.4 1835.0,1434.7 1838.6,1436.0 1842.2,1437.3 1845.9,1438.5 1849.5,1439.7 1853.1,1441.0 1856.8,1442.2 1860.4,1443.3 1864.0,1444.5 1867.6,1445.7 1871.3,1446.8 1874.9,1447.9 1878.5,1449.0 1882.2,1450.1 1885.8,1451.2 1889.4,1452.3 1893.0,1453.3 1896.7,1454.3 1900.3,1455.4 1903.9,1456.4 1907.5,1457.4 1911.2,1458.3 1914.8,1459.3 1918.4,1460.3 1922.1,1461.2 1925.7,1462.1 1929.3,1463.0 1932.9,1463.9 1936.6,1464.8 1940.2,1465.7 1943.8,1466.5 1947.5,1467.4 1951.1,1468.2 1954.7,1469.0 1958.3,1469.8 1962.0,1470.6 1965.6,1471.4 1969.2,1472.2 1972.9,1473.0 1976.5,1473.7 1980.1,1474.5 1983.7,1475.2 1987.4,1475.9 1991.0,1476.6 1994.6,1477.3 1998.2,1478.0 2001.9,1478.6 2005.5,1479.3 2009.1,1480.0 2012.8,1480.6 2016.4,1481.2 2020.0,1481.9 2023.6,1482.5 2027.3,1483.1 2030.9,1483.7 2034.5,1484.3 2038.2,1484.8 2041.8,1485.4 2045.4,1486.0 2049.0,1486.5 2052.7,1487.1 2056.3,1487.6 2059.9,1488.1 2063.6,1488.7 2067.2,1489.2 2070.8,1489.7 2074.4,1490.2 2078.1,1490.7 2081.7,1491.2 2085.3,1491.7 2088.9,1492.1 2092.6,1492.6 2096.2,1493.1 2099.8,1493.5 2103.5,1494.0 2107.1,1494.4 2110.7,1494.8 2114.3,1495.3 2118.0,1495.7 2121.6,1496.1 2125.2,1496.5 2128.9,1496.9 2132.5,1497.3 2136.1,1497.7 2139.7,1498.1 2143.4,1498.5 2147.0,1498.9 2150.6,1499.2 2154.3,1499.6 2157.9,1500.0 2161.5,1500.3 2165.1,1500.7 2168.8,1501.0 2172.4,1501.3 2176.0,1501.7 2179.6,1502.0 2183.3,1502.3 2186.9,1502.6 2190.5,1503.0 2194.2,1503.3 2197.8,1503.5 2201.4,1503.8 2205.0,1504.1 2208.7,1504.4 2212.3,1504.6 2215.9,1504.9 2219.6,1505.1 2223.2,1505.4 2226.8,1505.6 2230.4,1505.8 2234.1,1506.0 2237.7,1506.2 2241.3,1506.4 2245.0,1506.6 2248.6,1506.7 2252.2,1506.9 2255.8,1507.1 2259.5,1507.2 2263.1,1507.3 2266.7,1507.5 2270.3,1507.6 2274.0,1507.7 2277.6,1507.8 2281.2,1507.8 2284.9,1507.9 2288.5,1508.0 2292.1,1508.0 2295.7,1508.1 2299.4,1508.1 2303.0,1508.1 2305,1508.1"/>
<polyline stroke="#FF0000" points="308,1514.3 311.2,1514.1 314.9,1513.9 318.5,1513.8 322.1,1513.6 325.7,1513.5 329.4,1513.3 333.0,1513.2 336.6,1513.0 340.3,1512.9 343.9,1512.7 347.5,1512.6 351.1,1512.4 354.8,1512.2 358.4,1512.0 362.0,1511.8 365.6,1511.6 369.3,1511.3 372.9,1511.0 376.5,1510.6 380.2,1510.2 383.8,1509.8 387.4,1509.2 391.0,1508.7 394.7,1508.0 398.3,1507.3 401.9,1506.4 405.6,1505.5 409.2,1504.5 412.8,1503.4 416.4,1502.2 420.1,1500.9 423.7,1499.5 427.3,1497.9 431.0,1496.3 434.6,1494.5 438.2,1492.6 441.8,1490.7 445.5,1488.6 449.1,1486.5 452.7,1484.3 456.3,1482.1 460.0,1479.8 463.6,1477.5 467.2,1475.2 470.9,1472.9 474.5,1470.5 478.1,1468.1 481.7,1465.7 485.4,1463.2 489.0,1460.7 492.6,1458.1 496.3,1455.4 499.9,1452.6 503.5,1449.6 507.1,1446.6 510.8,1443.4 514.4,1439.9 518.0,1436.3 521.7,1432.4 525.3,1428.4 528.9,1424.1 532.5,1419.6 536.2,1414.9 539.8,1410.0 543.4,1404.8 547.0,1399.4 550.7,1393.9 554.3,1388.1 557.9,1382.2 561.6,1376.0 565.2,1369.8 568.8,1363.3 572.4,1356.8 576.1,1350.0 579.7,1343.2 583.3,1336.2 587.0,1329.0 590.6,1321.7 594.2,1314.3 597.8,1306.7 601.5,1298.9 605.1,1291.0 608.7,1283.0 612.4,1274.8 616.0,1266.5 619.6,1258.0 623.2,1249.4 626.9,1240.6 630.5,1231.7 634.1,1222.6 637.7,1213.5 641.4,1204.1 645.0,1194.7 648.6,1185.1 652.3,1175.4 655.9,1165.6 659.5,1155.7 663.1,1145.7 666.8,1135.5 670.4,1125.3 674.0,1115.0 677.7,1104.6 681.3,1094.0 684.9,1083.4 688.5,1072.8 692.2,1062.0 695.8,1051.2 699.4,1040.3 703.1,1029.3 706.7,1018.3 710.3,1007.3 713.9,996.1 717.6,985.0 721.2,973.8 724.8,962.5 728.4,951.3 732.1,940.0 735.7,928.7 739.3,917.3 743.0,906.0 746.6,894.7 750.2,883.4 753.8,872.2 757.5,861.1 761.1,850.0 764.7,839.0 768.4,828.2 772.0,817.5 775.6,806.9 779.2,796.5 782.9,786.3 786.5,776.2 790.1,766.4 793.8,756.8 797.4,747.3 801.0,738.1 804.6,729.1 808.3,720.2 811.9,711.5 815.5,703.0 819.1,694.7 822.8,686.6 826.4,678.7 830.0,670.9 833.7,663.2 837.3,655.7 840.9,648.4 844.5,641.2 848.2,634.2 851.8,627.5 855.4,620.9 859.1,614.5 862.7,608.3 866.3,602.4 869.9,596.7 873.6,591.2 877.2,586.0 880.8,581.1 884.5,576.4 888.1,572.0 891.7,567.9 895.3,564.1 899.0,560.5 902.6,557.2 906.2,554.2 909.8,551.4 913.5,548.9 917.1,546.6 920.7,544.6 924.4,542.8 928.0,541.2 931.6,539.9 935.2,538.8 938.9,537.9 942.5,537.2 946.1,536.7 949.8,536.5 953.4,536.5 957.0,536.7 960.6,537.1 964.3,537.8 967.9,538.8 971.5,539.9 975.2,541.4 978.8,543.1 982.4,545.0 986.0,547.2 989.7,549.6 993.3,552.4 996.9,555.3 1000.5,558.5 1004.2,561.8 1007.8,565.4 1011.4,569.1 1015.1,573.0 1018.7,576.9 1022.3,581.1 1025.9,585.3 1029.6,589.5 1033.2,593.9 1036.8,598.3 1040.5,602.7 1044.1,607.1 1047.7,611.6 1051.3,616.1 1055.0,620.6 1058.6,625.2 1062.2,629.9 1065.9,634.6 1069.5,639.4 1073.1,644.3 1076.7,649.2 1080.4,654.3 1084.0,659.4 1087.6,664.7 1091.2,670.1 1094.9,675.6 1098.5,681.2 1102.1,686.9 1105.8,692.7 1109.4,698.6 1113.0,704.5 1116.6,710.5 1120.3,716.5 1123.9,722.6 1127.5,728.6 1131.2,734.7 1134.8,740.8 1138.4,746.9 1142.0,753.0 1145.7,759.1 1149.3,765.1 1152.9,771.1 1156.6,777.1 1160.2,783.0 1163.8,788.9 1167.4,794.8 1171.1,800.6 1174.7,806.4 1178.3,812.2 1181.9,818.0 1185.6,823.8 1189.2,829.6 1192.8,835.4 1196.5,841.1 1200.1,846.9 1203.7,852.7 1207.3,858.5 1211.0,864.2 1214.6,870.0 1218.2,875.8 1221.9,881.6 1225.5,887.5 1229.1,893.3 1232.7,899.1 1236.4,905.0 1240.0,910.8 1243.6,916.7 1247.3,922.5 1250.9,928.3 1254.5,934.0 1258.1,939.8 1261.8,945.5 1265.4,951.2 1269.0,956.9 1272.6,962.5 1276.3,968.1 1279.9,973.6 1283.5,979.0 1287.2,984.5 1290.8,989.8 1294.4,995.1 1298.0,1000.4 1301.7,1005.6 1305.3,1010.7 1308.9,1015.8 1312.6,1020.8 1316.2,1025.7 1319.8,1030.7 1323.4,1035.6 1327.1,1040.4 1330.7,1045.2 1334.3,1050.0 1338.0,1054.7 1341.6,1059.4 1345.2,1064.1 1348.8,1068.8 1352.5,1073.4 1356.1,1078.0 1359.7,1082.6 1363.3,1087.2 1367.0,1091.8 1370.6,1096.3 1374.2,1100.8 1377.9,1105.4 1381.5,1109.9 1385.1,1114.4 1388.7,1118.9 1392.4,1123.4 1396.0,1127.8 1399.6,1132.3 1403.3,1136.8 1406.9,1141.3 1410.5,1145.7 1414.1,1150.2 1417.8,1154.7 1421.4,1159.1 1425.0,1163.5 1428.7,1167.9 1432.3,1172.3 1435.9,1176.7 1439.5,1181.0 1443.2,1185.3 1446.8,1189.6 1450.4,1193.8 1454.0,1198.0 1457.7,1202.1 1461.3,1206.3 1464.9,1210.3 1468.6,1214.4 1472.2,1218.3 1475.8,1222.3 1479.4,1226.2 1483.1,1230.0 1486.7,1233.8 1490.3,1237.5 1494.0,1241.2 1497.6,1244.8 1501.2,1248.3 1504.8,1251.9 1508.5,1255.3 1512.1,1258.7 1515.7,1262.0 1519.4,1265.3 1523.0,1268.5 1526.6,1271.7 1530.2,1274.8 1533.9,1277.9 1537.5,1280.9 1541.1,1283.8 1544.7,1286.8 1548.4,1289.6 1552.0,1292.5 1555.6,1295.3 1559.3,1298.0 1562.9,1300.7 1566.5,1303.4 1570.1,1306.0 1573.8,1308.6 1577.4,1311.2 1581.0,1313.7 1584.7,1316.2 1588.3,1318.7 1591.9,1321.1 1595.5,1323.5 1599.2,1325.9 1602.8,1328.2 1606.4,1330.6 1610.1,1332.8 1613.7,1335.1 1617.3,1337.4 1620.9,1339.6 1624.6,1341.8 1628.2,1344.0 1631.8,1346.1 1635.4,1348.2 1639.1,1350.4 1642.7,1352.4 1646.3,1354.5 1650.0,1356.6 1653.6,1358.6 1657.2,1360.6 1660.8,1362.6 1664.5,1364.6 1668.1,1366.6 1671.7,1368.5 1675.4,1370.5 1679.0,1372.4 1682.6,1374.3 1686.2,1376.1 1689.9,1378.0 1693.5,1379.9 1697.1,1381.7 1700.8,1383.5 1704.4,1385.3 1708.0,1387.1 1711.6,1388.8 1715.3,1390.6 1718.9,1392.3 1722.5,1394.0 1726.1,1395.7 1729.8,1397.4 1733.4,1399.1 1737.0,1400.7 1740.7,1402.3 1744.3,1403.9 1747.9,1405.5 1751.5,1407.1 1755.2,1408.7 1758.8,1410.2 1762.4,1411.8 1766.1,1413.3 1769.7,1414.8 1773.3,1416.2 1776.9,1417.7 1780.6,1419.2 1784.2,1420.6 1787.8,1422.0 1791.5,1423.4 1795.1,1424.8 1798.7,1426.2 1802.3,1427.5 1806.0,1428.9 1809.6,1430.2 1813.2,1431.5 1816.8,1432.8 1820.5,1434.1 1824.1,1435.4 1827.7,1436.6 1831.4,1437.9 1835.0,1439.1 1838.6,1440.3 1842.2,1441.5 1845.9,1442.6 1849.5,1443.8 1853.1,1445.0 1856.8,1446.1 1860.4,1447.2 1864.0,1448.3 1867.6,1449.4 1871.3,1450.5 1874.9,1451.5 1878.5,1452.6 1882.2,1453.6 1885.8,1454.6 1889.4,1455.6 1893.0,1456.6 1896.7,1457.6 1900.3,1458.6 1903.9,1459.5 1907.5,1460.5 1911.2,1461.4 1914.8,1462.3 1918.4,1463.2 1922.1,1464.1 1925.7,1465.0 1929.3,1465.8 1932.9,1466.7 1936.6,1467.5 1940.2,1468.3 1943.8,1469.1 1947.5,1469.9 1951.1,1470.7 1954.7,1471.5 1958.3,1472.3 1962.0,1473.0 1965.6,1473.8 1969.2,1474.5 1972.9,1475.2 1976.5,1475.9 1980.1,1476.6 1983.7,1477.3 1987.4,1478.0 1991.0,1478.6 1994.6,1479.3 1998.2,1479.9 2001.9,1480.6 2005.5,1481.2 2009.1,1481.8 2012.8,1482.4 2016.4,1483.0 2020.0,1483.6 2023.6,1484.2 2027.3,1484.8 2030.9,1485.3 2034.5,1485.9 2038.2,1486.4 2041.8,1487.0 2045.4,1487.5 2049.0,1488.0 2052.7,1488.5 2056.3,1489.1 2059.9,1489.6 2063.6,1490.0 2067.2,1490.5 2070.8,1491.0 2074.4,1491.5 2078.1,1492.0 2081.7,1492.4 2085.3,1492.9 2088.9,1493.3 2092.6,1493.8 2096.2,1494.2 2099.8,1494.6 2103.5,1495.0 2107.1,1495.5 2110.7,1495.9 2114.3,1496.3 2118.0,1496.7 2121.6,1497.1 2125.2,1497.5 2128.9,1497.8 2132.5,1498.2 2136.1,1498.6 2139.7,1498.9 2143.4,1499.3 2147.0,1499.7 2150.6,1500.0 2154.3,1500.4 2157.9,1500.7 2161.5,1501.0 2165.1,1501.4 2168.8,1501.7 2172.4,1502.0 2176.0,1502.3 2179.6,1502.6 2183.3,1503.0 2186.9,1503.2 2190.5,1503.5 2194.2,1503.8 2197.8,1504.1 2201.4,1504.4 2205.0,1504.6 2208.7,1504.9 2212.3,1505.1 2215.9,1505.4 2219.6,1505.6 2223.2,1505.8 2226.8,1506.0 2230.4,1506.2 2234.1,1506.4 2237.7,1506.6 2241.3,1506.8 2245.0,1507.0 2248.6,1507.1 2252.2,1507.3 2255.8,1507.4 2259.5,1507.6 2263.1,1507.7 2266.7,1507.8 2270.3,1507.9 2274.0,1508.0 2277.6,1508.1 2281.2,1508.2 2284.9,1508.3 2288.5,1508.3 2292.1,1508.4 2295.7,1508.4 2299.4,1508.5 2303.0,1508.5 2305,1508.5"/>
<polyline stroke="#00FF00" points="308,1514.3 311.2,1514.1 314.9,1514.0 318.5,1513.8 322.1,1513.7 325.7,1513.5 329.4,1513.4 333.0,1513.3 336.6,1513.1 340.3,1513.0 343.9,1512.8 347.5,1512.7 351.1,1512.5 354.8,1512.4 358.4,1512.2 362.0,1512.0 365.6,1511.7 369.3,1511.5 372.9,1511.2 376.5,1510.9 380.2,1510.5 383.8,1510.1 387.4,1509.6 391.0,1509.0 394.7,1508.4 398.3,1507.7 401.9,1506.9 405.6,1506.1 409.2,1505.2 412.8,1504.1 416.4,1503.0 420.1,1501.8 423.7,1500.4 427.3,1499.0 431.0,1497.5 434.6,1495.8 438.2,1494.1 441.8,1492.2 445.5,1490.3 449.1,1488.3 452.7,1486.3 456.3,1484.2 460.0,1482.1 463.6,1480.0 467.2,1477.8 470.9,1475.6 474.5,1473.4 478.1,1471.1 481.7,1468.9 485.4,1466.5 489.0,1464.2 492.6,1461.7 496.3,1459.2 499.9,1456.6 503.5,1453.8 507.1,1451.0 510.8,1447.9 514.4,1444.7 518.0,1441.3 521.7,1437.7 525.3,1433.9 528.9,1429.9 532.5,1425.7 536.2,1421.3 539.8,1416.7 543.4,1411.8 547.0,1406.8 550.7,1401.6 554.3,1396.2 557.9,1390.6 561.6,1384.9 565.2,1379.0 568.8,1373.0 572.4,1366.8 576.1,1360.5 579.7,1354.1 583.3,1347.5 587.0,1340.8 590.6,1333.9 594.2,1326.9 597.8,1319.8 601.5,1312.5 605.1,1305.1 608.7,1297.6 612.4,1289.9 616.0,1282.1 619.6,1274.1 623.2,1266.0 626.9,1257.8 630.5,1249.4 634.1,1240.9 637.7,1232.3 641.4,1223.6 645.0,1214.7 648.6,1205.7 652.3,1196.6 655.9,1187.4 659.5,1178.1 663.1,1168.7 666.8,1159.1 670.4,1149.5 674.0,1139.8 677.7,1130.0 681.3,1120.2 684.9,1110.2 688.5,1100.2 692.2,1090.1 695.8,1079.9 699.4,1069.7 703.1,1059.4 706.7,1049.1 710.3,1038.7 713.9,1028.3 717.6,1017.8 721.2,1007.3 724.8,996.7 728.4,986.1 732.1,975.5 735.7,964.9 739.3,954.3 743.0,943.6 746.6,933.0 750.2,922.4 753.8,911.9 757.5,901.4 761.1,891.0 764.7,880.7 768.4,870.5 772.0,860.4 775.6,850.5 779.2,840.7 782.9,831.1 786.5,821.7 790.1,812.4 793.8,803.4 797.4,794.5 801.0,785.8 804.6,777.3 808.3,769.0 811.9,760.8 815.5,752.9 819.1,745.0 822.8,737.4 826.4,729.9 830.0,722.6 833.7,715.4 837.3,708.3 840.9,701.4 844.5,694.7 848.2,688.1 851.8,681.8 855.4,675.5 859.1,669.5 862.7,663.7 866.3,658.1 869.9,652.8 873.6,647.6 877.2,642.7 880.8,638.0 884.5,633.6 888.1,629.5 891.7,625.6 895.3,622.0 899.0,618.6 902.6,615.5 906.2,612.6 909.8,609.9 913.5,607.5 917.1,605.4 920.7,603.4 924.4,601.7 928.0,600.2 931.6,599.0 935.2,597.9 938.9,597.0 942.5,596.3 946.1,595.9 949.8,595.6 953.4,595.6 957.0,595.8 960.6,596.1 964.3,596.8 967.9,597.6 971.5,598.7 975.2,600.0 978.8,601.5 982.4,603.3 986.0,605.3 989.7,607.6 993.3,610.1 996.9,612.8 1000.5,615.8 1004.2,618.9 1007.8,622.2 1011.4,625.7 1015.1,629.3 1018.7,633.0 1022.3,636.8 1025.9,640.7 1029.6,644.8 1033.2,648.8 1036.8,652.9 1040.5,657.1 1044.1,661.2 1047.7,665.4 1051.3,669.6 1055.0,673.9 1058.6,678.2 1062.2,682.6 1065.9,687.0 1069.5,691.5 1073.1,696.0 1076.7,700.7 1080.4,705.4 1084.0,710.2 1087.6,715.1 1091.2,720.2 1094.9,725.3 1098.5,730.5 1102.1,735.9 1105.8,741.3 1109.4,746.8 1113.0,752.3 1116.6,757.9 1120.3,763.6 1123.9,769.3 1127.5,775.0 1131.2,780.7 1134.8,786.4 1138.4,792.2 1142.0,797.9 1145.7,803.6 1149.3,809.2 1152.9,814.9 1156.6,820.5 1160.2,826.1 1163.8,831.6 1167.4,837.1 1171.1,842.6 1174.7,848.1 1178.3,853.6 1181.9,859.0 1185.6,864.4 1189.2,869.9 1192.8,875.3 1196.5,880.7 1200.1,886.1 1203.7,891.5 1207.3,897.0 1211.0,902.4 1214.6,907.8 1218.2,913.3 1221.9,918.7 1225.5,924.2 1229.1,929.7 1232.7,935.2 1236.4,940.7 1240.0,946.1 1243.6,951.6 1247.3,957.1 1250.9,962.5 1254.5,968.0 1258.1,973.4 1261.8,978.8 1265.4,984.1 1269.0,989.4 1272.6,994.7 1276.3,1000.0 1279.9,1005.2 1283.5,1010.3 1287.2,1015.4 1290.8,1020.5 1294.4,1025.5 1298.0,1030.4 1301.7,1035.3 1305.3,1040.1 1308.9,1044.9 1312.6,1049.6 1316.2,1054.3 1319.8,1059.0 1323.4,1063.6 1327.1,1068.1 1330.7,1072.6 1334.3,1077.1 1338.0,1081.6 1341.6,1086.0 1345.2,1090.4 1348.8,1094.8 1352.5,1099.2 1356.1,1103.5 1359.7,1107.8 1363.3,1112.1 1367.0,1116.4 1370.6,1120.7 1374.2,1125.0 1377.9,1129.2 1381.5,1133.5 1385.1,1137.7 1388.7,1141.9 1392.4,1146.2 1396.0,1150.4 1399.6,1154.6 1403.3,1158.8 1406.9,1163.0 1410.5,1167.2 1414.1,1171.4 1417.8,1175.6 1421.4,1179.8 1425.0,1183.9 1428.7,1188.1 1432.3,1192.2 1435.9,1196.3 1439.5,1200.4 1443.2,1204.4 1446.8,1208.4 1450.4,1212.4 1454.0,1216.4 1457.7,1220.3 1461.3,1224.1 1464.9,1228.0 1468.6,1231.8 1472.2,1235.5 1475.8,1239.2 1479.4,1242.9 1483.1,1246.5 1486.7,1250.1 1490.3,1253.6 1494.0,1257.1 1497.6,1260.5 1501.2,1263.8 1504.8,1267.1 1508.5,1270.4 1512.1,1273.6 1515.7,1276.8 1519.4,1279.8 1523.0,1282.9 1526.6,1285.9 1530.2,1288.8 1533.9,1291.7 1537.5,1294.5 1541.1,1297.3 1544.7,1300.1 1548.4,1302.8 1552.0,1305.5 1555.6,1308.1 1559.3,1310.7 1562.9,1313.2 1566.5,1315.8 1570.1,1318.2 1573.8,1320.7 1577.4,1323.1 1581.0,1325.5 1584.7,1327.8 1588.3,1330.2 1591.9,1332.5 1595.5,1334.7 1599.2,1337.0 1602.8,1339.2 1606.4,1341.4 1610.1,1343.5 1613.7,1345.7 1617.3,1347.8 1620.9,1349.9 1624.6,1351.9 1628.2,1354.0 1631.8,1356.0 1635.4,1358.0 1639.1,1360.0 1642.7,1362.0 1646.3,1363.9 1650.0,1365.9 1653.6,1367.8 1657.2,1369.7 1660.8,1371.6 1664.5,1373.4 1668.1,1375.3 1671.7,1377.1 1675.4,1378.9 1679.0,1380.7 1682.6,1382.5 1686.2,1384.3 1689.9,1386.1 1693.5,1387.8 1697.1,1389.5 1700.8,1391.2 1704.4,1392.9 1708.0,1394.6 1711.6,1396.2 1715.3,1397.9 1718.9,1399.5 1722.5,1401.1 1726.1,1402.7 1729.8,1404.3 1733.4,1405.9 1737.0,1407.4 1740.7,1408.9 1744.3,1410.5 1747.9,1412.0 1751.5,1413.4 1755.2,1414.9 1758.8,1416.4 1762.4,1417.8 1766.1,1419.2 1769.7,1420.7 1773.3,1422.0 1776.9,1423.4 1780.6,1424.8 1784.2,1426.1 1787.8,1427.5 1791.5,1428.8 1795.1,1430.1 1798.7,1431.4 1802.3,1432.7 1806.0,1433.9 1809.6,1435.2 1813.2,1436.4 1816.8,1437.6 1820.5,1438.8 1824.1,1440.0 1827.7,1441.2 1831.4,1442.4 1835.0,1443.5 1838.6,1444.7 1842.2,1445.8 1845.9,1446.9 1849.5,1448.0 1853.1,1449.1 1856.8,1450.1 1860.4,1451.2 1864.0,1452.2 1867.6,1453.2 1871.3,1454.2 1874.9,1455.2 1878.5,1456.2 1882.2,1457.2 1885.8,1458.2 1889.4,1459.1 1893.0,1460.0 1896.7,1461.0 1900.3,1461.9 1903.9,1462.8 1907.5,1463.6 1911.2,1464.5 1914.8,1465.4 1918.4,1466.2 1922.1,1467.1 1925.7,1467.9 1929.3,1468.7 1932.9,1469.5 1936.6,1470.3 1940.2,1471.0 1943.8,1471.8 1947.5,1472.6 1951.1,1473.3 1954.7,1474.0 1958.3,1474.7 1962.0,1475.5 1965.6,1476.2 1969.2,1476.8 1972.9,1477.5 1976.5,1478.2 1980.1,1478.8 1983.7,1479.5 1987.4,1480.1 1991.0,1480.8 1994.6,1481.4 1998.2,1482.0 2001.9,1482.6 2005.5,1483.2 2009.1,1483.7 2012.8,1484.3 2016.4,1484.9 2020.0,1485.4 2023.6,1486.0 2027.3,1486.5 2030.9,1487.0 2034.5,1487.6 2038.2,1488.1 2041.8,1488.6 2045.4,1489.1 2049.0,1489.6 2052.7,1490.1 2056.3,1490.5 2059.9,1491.0 2063.6,1491.5 2067.2,1491.9 2070.8,1492.4 2074.4,1492.8 2078.1,1493.3 2081.7,1493.7 2085.3,1494.1 2088.9,1494.5 2092.6,1495.0 2096.2,1495.4 2099.8,1495.8 2103.5,1496.2 2107.1,1496.6 2110.7,1496.9 2114.3,1497.3 2118.0,1497.7 2121.6,1498.1 2125.2,1498.4 2128.9,1498.8 2132.5,1499.1 2136.1,1499.5 2139.7,1499.8 2143.4,1500.2 2147.0,1500.5 2150.6,1500.8 2154.3,1501.2 2157.9,1501.5 2161.5,1501.8 2165.1,1502.1 2168.8,1502.4 2172.4,1502.7 2176.0,1503.0 2179.6,1503.3 2183.3,1503.6 2186.9,1503.9 2190.5,1504.2 2194.2,1504.4 2197.8,1504.7 2201.4,1504.9 2205.0,1505.2 2208.7,1505.4 2212.3,1505.7 2215.9,1505.9 2219.6,1506.1 2223.2,1506.3 2226.8,1506.5 2230.4,1506.7 2234.1,1506.9 2237.7,1507.1 2241.3,1507.2 2245.0,1507.4 2248.6,1507.6 2252.2,1507.7 2255.8,1507.8 2259.5,1508.0 2263.1,1508.1 2266.7,1508.2 2270.3,1508.3 2274.0,1508.4 2277.6,1508.5 2281.2,1508.6 2284.9,1508.6 2288.5,1508.7 2292.1,1508.8 2295.7,1508.8 2299.4,1508.8 2303.0,1508.9 2305,1508.9"/>
<polyline stroke="#0000FF" points="308,1514.2 311.2,1514.1 314.9,1514.0 318.5,1513.8 322.1,1513.7 325.7,1513.6 329.4,1513.4 333.0,1513.3 336.6,1513.2 340.3,1513.1 343.9,1512.9 347.5,1512.8 351.1,1512.7 354.8,1512.5 358.4,1512.3 362.0,1512.1 365.6,1511.9 369.3,1511.7 372.9,1511.4 376.5,1511.1 380.2,1510.8 383.8,1510.4 387.4,1509.9 391.0,1509.4 394.7,1508.8 398.3,1508.2 401.9,1507.5 405.6,1506.7 409.2,1505.9 412.8,1504.9 416.4,1503.9 420.1,1502.7 423.7,1501.5 427.3,1500.2 431.0,1498.7 434.6,1497.2 438.2,1495.6 441.8,1493.9 445.5,1492.1 449.1,1490.2 452.7,1488.3 456.3,1486.4 460.0,1484.4 463.6,1482.4 467.2,1480.4 470.9,1478.4 474.5,1476.3 478.1,1474.2 481.7,1472.1 485.4,1469.9 489.0,1467.7 492.6,1465.5 496.3,1463.1 499.9,1460.7 503.5,1458.1 507.1,1455.5 510.8,1452.7 514.4,1449.7 518.0,1446.5 521.7,1443.2 525.3,1439.6 528.9,1435.9 532.5,1432.0 536.2,1427.9 539.8,1423.6 543.4,1419.1 547.0,1414.4 550.7,1409.5 554.3,1404.5 557.9,1399.3 561.6,1394.0 565.2,1388.5 568.8,1382.8 572.4,1377.1 576.1,1371.2 579.7,1365.2 583.3,1359.1 587.0,1352.8 590.6,1346.4 594.2,1339.9 597.8,1333.2 601.5,1326.4 605.1,1319.5 608.7,1312.5 612.4,1305.3 616.0,1298.0 619.6,1290.6 623.2,1283.0 626.9,1275.3 630.5,1267.5 634.1,1259.6 637.7,1251.5 641.4,1243.3 645.0,1235.1 648.6,1226.7 652.3,1218.2 655.9,1209.6 659.5,1200.9 663.1,1192.1 666.8,1183.2 670.4,1174.2 674.0,1165.1 677.7,1156.0 681.3,1146.7 684.9,1137.4 688.5,1128.1 692.2,1118.6 695.8,1109.1 699.4,1099.6 703.1,1090.0 706.7,1080.3 710.3,1070.6 713.9,1060.8 717.6,1051.1 721.2,1041.2 724.8,1031.4 728.4,1021.5 732.1,1011.5 735.7,1001.6 739.3,991.7 743.0,981.7 746.6,971.8 750.2,961.9 753.8,952.0 757.5,942.2 761.1,932.5 764.7,922.9 768.4,913.3 772.0,903.9 775.6,894.6 779.2,885.4 782.9,876.4 786.5,867.5 790.1,858.9 793.8,850.4 797.4,842.1 801.0,833.9 804.6,825.9 808.3,818.1 811.9,810.5 815.5,803.0 819.1,795.7 822.8,788.5 826.4,781.5 830.0,774.6 833.7,767.9 837.3,761.3 840.9,754.8 844.5,748.5 848.2,742.3 851.8,736.3 855.4,730.5 859.1,724.8 862.7,719.4 866.3,714.1 869.9,709.0 873.6,704.2 877.2,699.6 880.8,695.1 884.5,691.0 888.1,687.0 891.7,683.4 895.3,679.9 899.0,676.7 902.6,673.7 906.2,671.0 909.8,668.5 913.5,666.2 917.1,664.1 920.7,662.3 924.4,660.6 928.0,659.2 931.6,657.9 935.2,656.9 938.9,656.0 942.5,655.3 946.1,654.8 949.8,654.6 953.4,654.5 957.0,654.6 960.6,654.9 964.3,655.4 967.9,656.1 971.5,657.1 975.2,658.2 978.8,659.6 982.4,661.2 986.0,663.0 989.7,665.1 993.3,667.3 996.9,669.8 1000.5,672.5 1004.2,675.4 1007.8,678.4 1011.4,681.6 1015.1,684.9 1018.7,688.4 1022.3,691.9 1025.9,695.6 1029.6,699.3 1033.2,703.1 1036.8,706.9 1040.5,710.8 1044.1,714.6 1047.7,718.5 1051.3,722.5 1055.0,726.4 1058.6,730.4 1062.2,734.5 1065.9,738.6 1069.5,742.8 1073.1,747.0 1076.7,751.3 1080.4,755.7 1084.0,760.2 1087.6,764.7 1091.2,769.4 1094.9,774.2 1098.5,779.0 1102.1,784.0 1105.8,789.0 1109.4,794.1 1113.0,799.3 1116.6,804.5 1120.3,809.8 1123.9,815.1 1127.5,820.4 1131.2,825.7 1134.8,831.1 1138.4,836.5 1142.0,841.8 1145.7,847.1 1149.3,852.4 1152.9,857.7 1156.6,863.0 1160.2,868.2 1163.8,873.4 1167.4,878.6 1171.1,883.7 1174.7,888.8 1178.3,893.9 1181.9,899.0 1185.6,904.1 1189.2,909.2 1192.8,914.3 1196.5,919.4 1200.1,924.4 1203.7,929.5 1207.3,934.6 1211.0,939.6 1214.6,944.7 1218.2,949.8 1221.9,954.9 1225.5,960.0 1229.1,965.1 1232.7,970.3 1236.4,975.4 1240.0,980.5 1243.6,985.7 1247.3,990.8 1250.9,995.9 1254.5,1001.0 1258.1,1006.1 1261.8,1011.1 1265.4,1016.1 1269.0,1021.1 1272.6,1026.1 1276.3,1031.0 1279.9,1035.9 1283.5,1040.7 1287.2,1045.5 1290.8,1050.3 1294.4,1055.0 1298.0,1059.6 1301.7,1064.2 1305.3,1068.7 1308.9,1073.2 1312.6,1077.7 1316.2,1082.1 1319.8,1086.4 1323.4,1090.8 1327.1,1095.0 1330.7,1099.3 1334.3,1103.5 1338.0,1107.7 1341.6,1111.9 1345.2,1116.0 1348.8,1120.1 1352.5,1124.2 1356.1,1128.3 1359.7,1132.3 1363.3,1136.4 1367.0,1140.4 1370.6,1144.4 1374.2,1148.4 1377.9,1152.4 1381.5,1156.3 1385.1,1160.3 1388.7,1164.3 1392.4,1168.2 1396.0,1172.2 1399.6,1176.1 1403.3,1180.0 1406.9,1184.0 1410.5,1187.9 1414.1,1191.9 1417.8,1195.8 1421.4,1199.7 1425.0,1203.6 1428.7,1207.5 1432.3,1211.4 1435.9,1215.2 1439.5,1219.0 1443.2,1222.8 1446.8,1226.6 1450.4,1230.3 1454.0,1234.1 1457.7,1237.7 1461.3,1241.4 1464.9,1245.0 1468.6,1248.6 1472.2,1252.1 1475.8,1255.6 1479.4,1259.0 1483.1,1262.4 1486.7,1265.8 1490.3,1269.1 1494.0,1272.4 1497.6,1275.6 1501.2,1278.7 1504.8,1281.9 1508.5,1284.9 1512.1,1288.0 1515.7,1290.9 1519.4,1293.8 1523.0,1296.7 1526.6,1299.5 1530.2,1302.3 1533.9,1305.0 1537.5,1307.7 1541.1,1310.3 1544.7,1312.9 1548.4,1315.5 1552.0,1318.0 1555.6,1320.5 1559.3,1322.9 1562.9,1325.3 1566.5,1327.7 1570.1,1330.0 1573.8,1332.4 1577.4,1334.6 1581.0,1336.9 1584.7,1339.1 1588.3,1341.3 1591.9,1343.4 1595.5,1345.6 1599.2,1347.7 1602.8,1349.8 1606.4,1351.8 1610.1,1353.8 1613.7,1355.9 1617.3,1357.8 1620.9,1359.8 1624.6,1361.8 1628.2,1363.7 1631.8,1365.6 1635.4,1367.5 1639.1,1369.3 1642.7,1371.2 1646.3,1373.0 1650.0,1374.8 1653.6,1376.6 1657.2,1378.4 1660.8,1380.2 1664.5,1382.0 1668.1,1383.7 1671.7,1385.4 1675.4,1387.1 1679.0,1388.8 1682.6,1390.5 1686.2,1392.2 1689.9,1393.8 1693.5,1395.4 1697.1,1397.1 1700.8,1398.7 1704.4,1400.2 1708.0,1401.8 1711.6,1403.4 1715.3,1404.9 1718.9,1406.4 1722.5,1408.0 1726.1,1409.5 1729.8,1410.9 1733.4,1412.4 1737.0,1413.9 1740.7,1415.3 1744.3,1416.7 1747.9,1418.1 1751.5,1419.5 1755.2,1420.9 1758.8,1422.3 1762.4,1423.6 1766.1,1425.0 1769.7,1426.3 1773.3,1427.6 1776.9,1428.9 1780.6,1430.2 1784.2,1431.5 1787.8,1432.7 1791.5,1433.9 1795.1,1435.2 1798.7,1436.4 1802.3,1437.6 1806.0,1438.8 1809.6,1439.9 1813.2,1441.1 1816.8,1442.3 1820.5,1443.4 1824.1,1444.5 1827.7,1445.6 1831.4,1446.7 1835.0,1447.8 1838.6,1448.8 1842.2,1449.9 1845.9,1450.9 1849.5,1452.0 1853.1,1453.0 1856.8,1454.0 1860.4,1455.0 1864.0,1455.9 1867.6,1456.9 1871.3,1457.9 1874.9,1458.8 1878.5,1459.7 1882.2,1460.6 1885.8,1461.5 1889.4,1462.4 1893.0,1463.3 1896.7,1464.2 1900.3,1465.0 1903.9,1465.9 1907.5,1466.7 1911.2,1467.5 1914.8,1468.3 1918.4,1469.1 1922.1,1469.9 1925.7,1470.7 1929.3,1471.4 1932.9,1472.2 1936.6,1472.9 1940.2,1473.6 1943.8,1474.4 1947.5,1475.1 1951.1,1475.8 1954.7,1476.4 1958.3,1477.1 1962.0,1477.8 1965.6,1478.4 1969.2,1479.1 1972.9,1479.7 1976.5,1480.3 1980.1,1481.0 1983.7,1481.6 1987.4,1482.2 1991.0,1482.8 1994.6,1483.3 1998.2,1483.9 2001.9,1484.5 2005.5,1485.0 2009.1,1485.6 2012.8,1486.1 2016.4,1486.6 2020.0,1487.1 2023.6,1487.7 2027.3,1488.2 2030.9,1488.7 2034.5,1489.2 2038.2,1489.6 2041.8,1490.1 2045.4,1490.6 2049.0,1491.0 2052.7,1491.5 2056.3,1491.9 2059.9,1492.4 2063.6,1492.8 2067.2,1493.3 2070.8,1493.7 2074.4,1494.1 2078.1,1494.5 2081.7,1494.9 2085.3,1495.3 2088.9,1495.7 2092.6,1496.1 2096.2,1496.5 2099.8,1496.9 2103.5,1497.2 2107.1,1497.6 2110.7,1498.0 2114.3,1498.3 2118.0,1498.7 2121.6,1499.0 2125.2,1499.4 2128.9,1499.7 2132.5,1500.0 2136.1,1500.3 2139.7,1500.7 2143.4,1501.0 2147.0,1501.3 2150.6,1501.6 2154.3,1501.9 2157.9,1502.2 2161.5,1502.5 2165.1,1502.8 2168.8,1503.1 2172.4,1503.4 2176.0,1503.7 2179.6,1503.9 2183.3,1504.2 2186.9,1504.5 2190.5,1504.7 2194.2,1505.0 2197.8,1505.2 2201.4,1505.5 2205.0,1505.7 2208.7,1505.9 2212.3,1506.1 2215.9,1506.4 2219.6,1506.6 2223.2,1506.8 2226.8,1506.9 2230.4,1507.1 2234.1,1507.3 2237.7,1507.5 2241.3,1507.6 2245.0,1507.8 2248.6,1507.9 2252.2,1508.1 2255.8,1508.2 2259.5,1508.3 2263.1,1508.5 2266.7,1508.6 2270.3,1508.7 2274.0,1508.8 2277.6,1508.8 2281.2,1508.9 2284.9,1509.0 2288.5,1509.0 2292.1,1509.1 2295.7,1509.1 2299.4,1509.2 2303.0,1509.2 2305,1509.2"/>
<polyline stroke="#00FFFF" points="308,1514.2 311.2,1514.1 314.9,1514.0 318.5,1513.9 322.1,1513.7 325.7,1513.6 329.4,1513.5 333.0,1513.4 336.6,1513.3 340.3,1513.1 343.9,1513.0 347.5,1512.9 351.1,1512.8 354.8,1512.6 358.4,1512.4 362.0,1512.3 365.6,1512.1 369.3,1511.9 372.9,1511.6 376.5,1511.3 380.2,1511.0 383.8,1510.6 387.4,1510.2 391.0,1509.8 394.7,1509.2 398.3,1508.6 401.9,1508.0 405.6,1507.2 409.2,1506.4 412.8,1505.6 416.4,1504.6 420.1,1503.5 423.7,1502.4 427.3,1501.1 431.0,1499.8 434.6,1498.4 438.2,1496.9 441.8,1495.3 445.5,1493.6 449.1,1491.9 452.7,1490.1 456.3,1488.3 460.0,1486.5 463.6,1484.6 467.2,1482.8 470.9,1480.9 474.5,1479.0 478.1,1477.0 481.7,1475.0 485.4,1473.0 489.0,1470.9 492.6,1468.8 496.3,1466.6 499.9,1464.3 503.5,1462.0 507.1,1459.5 510.8,1456.9 514.4,1454.1 518.0,1451.1 521.7,1448.0 525.3,1444.7 528.9,1441.3 532.5,1437.6 536.2,1433.8 539.8,1429.7 543.4,1425.6 547.0,1421.2 550.7,1416.6 554.3,1411.9 557.9,1407.1 561.6,1402.1 565.2,1396.9 568.8,1391.7 572.4,1386.3 576.1,1380.8 579.7,1375.2 583.3,1369.5 587.0,1363.6 590.6,1357.6 594.2,1351.5 597.8,1345.3 601.5,1339.0 605.1,1332.5 608.7,1325.9 612.4,1319.2 616.0,1312.4 619.6,1305.4 623.2,1298.4 626.9,1291.2 630.5,1283.9 634.1,1276.4 637.7,1268.9 641.4,1261.3 645.0,1253.5 648.6,1245.7 652.3,1237.7 655.9,1229.7 659.5,1221.5 663.1,1213.3 666.8,1205.0 670.4,1196.6 674.0,1188.1 677.7,1179.6 681.3,1170.9 684.9,1162.2 688.5,1153.5 692.2,1144.6 695.8,1135.8 699.4,1126.8 703.1,1117.8 706.7,1108.8 710.3,1099.7 713.9,1090.6 717.6,1081.4 721.2,1072.2 724.8,1063.0 728.4,1053.8 732.1,1044.5 735.7,1035.2 739.3,1025.9 743.0,1016.6 746.6,1007.3 750.2,998.1 753.8,988.8 757.5,979.7 761.1,970.6 764.7,961.5 768.4,952.6 772.0,943.8 775.6,935.1 779.2,926.5 782.9,918.0 786.5,909.8 790.1,901.7 793.8,893.7 797.4,885.9 801.0,878.3 804.6,870.8 808.3,863.5 811.9,856.4 815.5,849.4 819.1,842.5 822.8,835.8 826.4,829.2 830.0,822.8 833.7,816.5 837.3,810.3 840.9,804.2 844.5,798.3 848.2,792.5 851.8,786.9 855.4,781.4 859.1,776.1 862.7,771.0 866.3,766.1 869.9,761.3 873.6,756.8 877.2,752.4 880.8,748.3 884.5,744.4 888.1,740.7 891.7,737.2 895.3,734.0 899.0,730.9 902.6,728.1 906.2,725.5 909.8,723.2 913.5,721.0 917.1,719.0 920.7,717.3 924.4,715.7 928.0,714.3 931.6,713.1 935.2,712.1 938.9,711.3 942.5,710.7 946.1,710.2 949.8,709.9 953.4,709.8 957.0,709.9 960.6,710.1 964.3,710.6 967.9,711.2 971.5,712.1 975.2,713.1 978.8,714.4 982.4,715.8 986.0,717.5 989.7,719.4 993.3,721.5 996.9,723.8 1000.5,726.3 1004.2,728.9 1007.8,731.7 1011.4,734.7 1015.1,737.8 1018.7,741.0 1022.3,744.3 1025.9,747.7 1029.6,751.1 1033.2,754.7 1036.8,758.2 1040.5,761.8 1044.1,765.5 1047.7,769.1 1051.3,772.8 1055.0,776.5 1058.6,780.2 1062.2,784.0 1065.9,787.8 1069.5,791.7 1073.1,795.6 1076.7,799.6 1080.4,803.7 1084.0,807.9 1087.6,812.1 1091.2,816.5 1094.9,820.9 1098.5,825.4 1102.1,830.0 1105.8,834.7 1109.4,839.5 1113.0,844.3 1116.6,849.2 1120.3,854.1 1123.9,859.1 1127.5,864.0 1131.2,869.0 1134.8,874.0 1138.4,879.0 1142.0,884.0 1145.7,889.0 1149.3,894.0 1152.9,899.0 1156.6,903.9 1160.2,908.8 1163.8,913.6 1167.4,918.5 1171.1,923.3 1174.7,928.1 1178.3,932.9 1181.9,937.6 1185.6,942.4 1189.2,947.1 1192.8,951.9 1196.5,956.6 1200.1,961.4 1203.7,966.1 1207.3,970.9 1211.0,975.6 1214.6,980.3 1218.2,985.1 1221.9,989.9 1225.5,994.7 1229.1,999.4 1232.7,1004.2 1236.4,1009.0 1240.0,1013.8 1243.6,1018.6 1247.3,1023.4 1250.9,1028.2 1254.5,1033.0 1258.1,1037.7 1261.8,1042.5 1265.4,1047.2 1269.0,1051.9 1272.6,1056.5 1276.3,1061.1 1279.9,1065.7 1283.5,1070.2 1287.2,1074.7 1290.8,1079.2 1294.4,1083.6 1298.0,1088.0 1301.7,1092.3 1305.3,1096.5 1308.9,1100.7 1312.6,1104.9 1316.2,1109.0 1319.8,1113.1 1323.4,1117.2 1327.1,1121.2 1330.7,1125.2 1334.3,1129.1 1338.0,1133.1 1341.6,1137.0 1345.2,1140.8 1348.8,1144.7 1352.5,1148.5 1356.1,1152.3 1359.7,1156.1 1363.3,1159.9 1367.0,1163.7 1370.6,1167.4 1374.2,1171.2 1377.9,1174.9 1381.5,1178.6 1385.1,1182.3 1388.7,1186.1 1392.4,1189.8 1396.0,1193.4 1399.6,1197.1 1403.3,1200.8 1406.9,1204.5 1410.5,1208.2 1414.1,1211.9 1417.8,1215.6 1421.4,1219.2 1425.0,1222.9 1428.7,1226.5 1432.3,1230.1 1435.9,1233.8 1439.5,1237.3 1443.2,1240.9 1446.8,1244.4 1450.4,1248.0 1454.0,1251.4 1457.7,1254.9 1461.3,1258.3 1464.9,1261.7 1468.6,1265.0 1472.2,1268.4 1475.8,1271.6 1479.4,1274.9 1483.1,1278.1 1486.7,1281.2 1490.3,1284.3 1494.0,1287.4 1497.6,1290.4 1501.2,1293.4 1504.8,1296.3 1508.5,1299.2 1512.1,1302.1 1515.7,1304.8 1519.4,1307.6 1523.0,1310.3 1526.6,1312.9 1530.2,1315.5 1533.9,1318.1 1537.5,1320.6 1541.1,1323.1 1544.7,1325.5 1548.4,1327.9 1552.0,1330.3 1555.6,1332.6 1559.3,1334.9 1562.9,1337.2 1566.5,1339.4 1570.1,1341.6 1573.8,1343.8 1577.4,1345.9 1581.0,1348.0 1584.7,1350.1 1588.3,1352.2 1591.9,1354.2 1595.5,1356.2 1599.2,1358.2 1602.8,1360.1 1606.4,1362.0 1610.1,1364.0 1613.7,1365.8 1617.3,1367.7 1620.9,1369.5 1624.6,1371.4 1628.2,1373.2 1631.8,1375.0 1635.4,1376.7 1639.1,1378.5 1642.7,1380.2 1646.3,1381.9 1650.0,1383.7 1653.6,1385.3 1657.2,1387.0 1660.8,1388.7 1664.5,1390.3 1668.1,1391.9 1671.7,1393.6 1675.4,1395.2 1679.0,1396.7 1682.6,1398.3 1686.2,1399.9 1689.9,1401.4 1693.5,1402.9 1697.1,1404.5 1700.8,1406.0 1704.4,1407.5 1708.0,1408.9 1711.6,1410.4 1715.3,1411.8 1718.9,1413.3 1722.5,1414.7 1726.1,1416.1 1729.8,1417.5 1733.4,1418.9 1737.0,1420.2 1740.7,1421.6 1744.3,1422.9 1747.9,1424.2 1751.5,1425.5 1755.2,1426.8 1758.8,1428.1 1762.4,1429.4 1766.1,1430.6 1769.7,1431.9 1773.3,1433.1 1776.9,1434.3 1780.6,1435.5 1784.2,1436.7 1787.8,1437.9 1791.5,1439.0 1795.1,1440.2 1798.7,1441.3 1802.3,1442.5 1806.0,1443.6 1809.6,1444.7 1813.2,1445.7 1816.8,1446.8 1820.5,1447.9 1824.1,1448.9 1827.7,1450.0 1831.4,1451.0 1835.0,1452.0 1838.6,1453.0 1842.2,1454.0 1845.9,1455.0 1849.5,1455.9 1853.1,1456.9 1856.8,1457.8 1860.4,1458.7 1864.0,1459.7 1867.6,1460.6 1871.3,1461.4 1874.9,1462.3 1878.5,1463.2 1882.2,1464.0 1885.8,1464.9 1889.4,1465.7 1893.0,1466.5 1896.7,1467.3 1900.3,1468.1 1903.9,1468.9 1907.5,1469.7 1911.2,1470.5 1914.8,1471.2 1918.4,1472.0 1922.1,1472.7 1925.7,1473.4 1929.3,1474.1 1932.9,1474.8 1936.6,1475.5 1940.2,1476.2 1943.8,1476.9 1947.5,1477.6 1951.1,1478.2 1954.7,1478.9 1958.3,1479.5 1962.0,1480.1 1965.6,1480.7 1969.2,1481.3 1972.9,1481.9 1976.5,1482.5 1980.1,1483.1 1983.7,1483.7 1987.4,1484.2 1991.0,1484.8 1994.6,1485.3 1998.2,1485.8 2001.9,1486.4 2005.5,1486.9 2009.1,1487.4 2012.8,1487.9 2016.4,1488.4 2020.0,1488.9 2023.6,1489.4 2027.3,1489.8 2030.9,1490.3 2034.5,1490.8 2038.2,1491.2 2041.8,1491.6 2045.4,1492.1 2049.0,1492.5 2052.7,1492.9 2056.3,1493.4 2059.9,1493.8 2063.6,1494.2 2067.2,1494.6 2070.8,1495.0 2074.4,1495.4 2078.1,1495.8 2081.7,1496.1 2085.3,1496.5 2088.9,1496.9 2092.6,1497.2 2096.2,1497.6 2099.8,1498.0 2103.5,1498.3 2107.1,1498.6 2110.7,1499.0 2114.3,1499.3 2118.0,1499.6 2121.6,1500.0 2125.2,1500.3 2128.9,1500.6 2132.5,1500.9 2136.1,1501.2 2139.7,1501.5 2143.4,1501.8 2147.0,1502.1 2150.6,1502.4 2154.3,1502.7 2157.9,1503.0 2161.5,1503.2 2165.1,1503.5 2168.8,1503.8 2172.4,1504.0 2176.0,1504.3 2179.6,1504.6 2183.3,1504.8 2186.9,1505.1 2190.5,1505.3 2194.2,1505.5 2197.8,1505.8 2201.4,1506.0 2205.0,1506.2 2208.7,1506.4 2212.3,1506.6 2215.9,1506.8 2219.6,1507.0 2223.2,1507.2 2226.8,1507.4 2230.4,1507.6 2234.1,1507.7 2237.7,1507.9 2241.3,1508.0 2245.0,1508.2 2248.6,1508.3 2252.2,1508.5 2255.8,1508.6 2259.5,1508.7 2263.1,1508.8 2266.7,1508.9 2270.3,1509.0 2274.0,1509.1 2277.6,1509.2 2281.2,1509.3 2284.9,1509.3 2288.5,1509.4 2292.1,1509.4 2295.7,1509.5 2299.4,1509.5 2303.0,1509.5 2305,1509.5"/>
<polyline stroke="#FF00FF" points="308,1514.2 311.2,1514.1 314.9,1514.0 318.5,1513.9 322.1,1513.8 325.7,1513.6 329.4,1513.5 333.0,1513.4 336.6,1513.3 340.3,1513.2 343.9,1513.1 347.5,1513.0 351.1,1512.9 354.8,1512.7 358.4,1512.6 362.0,1512.4 365.6,1512.2 369.3,1512.0 372.9,1511.8 376.5,1511.5 380.2,1511.2 383.8,1510.9 387.4,1510.5 391.0,1510.1 394.7,1509.6 398.3,1509.0 401.9,1508.4 405.6,1507.7 409.2,1507.0 412.8,1506.2 416.4,1505.3 420.1,1504.3 423.7,1503.2 427.3,1502.1 431.0,1500.9 434.6,1499.5 438.2,1498.2 441.8,1496.7 445.5,1495.1 449.1,1493.5 452.7,1491.9 456.3,1490.2 460.0,1488.5 463.6,1486.8 467.2,1485.1 470.9,1483.3 474.5,1481.5 478.1,1479.7 481.7,1477.9 485.4,1476.0 489.0,1474.1 492.6,1472.1 496.3,1470.1 499.9,1468.0 503.5,1465.8 507.1,1463.5 510.8,1461.1 514.4,1458.5 518.0,1455.7 521.7,1452.8 525.3,1449.8 528.9,1446.6 532.5,1443.2 536.2,1439.6 539.8,1435.9 543.4,1432.0 547.0,1427.9 550.7,1423.7 554.3,1419.3 557.9,1414.8 561.6,1410.2 565.2,1405.4 568.8,1400.5 572.4,1395.5 576.1,1390.4 579.7,1385.2 583.3,1379.9 587.0,1374.4 590.6,1368.9 594.2,1363.2 597.8,1357.4 601.5,1351.6 605.1,1345.5 608.7,1339.4 612.4,1333.2 616.0,1326.9 619.6,1320.4 623.2,1313.8 626.9,1307.2 630.5,1300.4 634.1,1293.5 637.7,1286.5 641.4,1279.4 645.0,1272.2 648.6,1264.9 652.3,1257.5 655.9,1250.0 659.5,1242.5 663.1,1234.8 666.8,1227.1 670.4,1219.3 674.0,1211.4 677.7,1203.5 681.3,1195.5 684.9,1187.4 688.5,1179.3 692.2,1171.1 695.8,1162.9 699.4,1154.6 703.1,1146.2 706.7,1137.8 710.3,1129.4 713.9,1120.9 717.6,1112.4 721.2,1103.9 724.8,1095.3 728.4,1086.8 732.1,1078.2 735.7,1069.5 739.3,1060.9 743.0,1052.3 746.6,1043.7 750.2,1035.1 753.8,1026.5 757.5,1018.0 761.1,1009.6 764.7,1001.2 768.4,992.9 772.0,984.7 775.6,976.6 779.2,968.6 782.9,960.8 786.5,953.1 790.1,945.5 793.8,938.1 797.4,930.9 801.0,923.8 804.6,916.9 808.3,910.1 811.9,903.4 815.5,896.9 819.1,890.5 822.8,884.3 826.4,878.2 830.0,872.2 833.7,866.3 837.3,860.5 840.9,854.9 844.5,849.4 848.2,844.0 851.8,838.8 855.4,833.7 859.1,828.7 862.7,824.0 866.3,819.4 869.9,814.9 873.6,810.6 877.2,806.6 880.8,802.7 884.5,799.0 888.1,795.5 891.7,792.2 895.3,789.2 899.0,786.3 902.6,783.6 906.2,781.2 909.8,778.9 913.5,776.8 917.1,775.0 920.7,773.3 924.4,771.8 928.0,770.4 931.6,769.3 935.2,768.3 938.9,767.4 942.5,766.8 946.1,766.3 949.8,765.9 953.4,765.7 957.0,765.7 960.6,765.9 964.3,766.2 967.9,766.8 971.5,767.5 975.2,768.4 978.8,769.4 982.4,770.7 986.0,772.1 989.7,773.8 993.3,775.6 996.9,777.7 1000.5,779.9 1004.2,782.3 1007.8,784.8 1011.4,787.4 1015.1,790.2 1018.7,793.1 1022.3,796.2 1025.9,799.2 1029.6,802.4 1033.2,805.6 1036.8,808.9 1040.5,812.2 1044.1,815.6 1047.7,818.9 1051.3,822.3 1055.0,825.7 1058.6,829.2 1062.2,832.6 1065.9,836.1 1069.5,839.7 1073.1,843.3 1076.7,847.0 1080.4,850.7 1084.0,854.5 1087.6,858.4 1091.2,862.4 1094.9,866.4 1098.5,870.6 1102.1,874.8 1105.8,879.1 1109.4,883.5 1113.0,887.9 1116.6,892.4 1120.3,896.9 1123.9,901.5 1127.5,906.1 1131.2,910.7 1134.8,915.3 1138.4,920.0 1142.0,924.6 1145.7,929.3 1149.3,933.9 1152.9,938.5 1156.6,943.1 1160.2,947.6 1163.8,952.1 1167.4,956.6 1171.1,961.1 1174.7,965.6 1178.3,970.0 1181.9,974.5 1185.6,978.9 1189.2,983.3 1192.8,987.7 1196.5,992.1 1200.1,996.5 1203.7,1000.9 1207.3,1005.3 1211.0,1009.7 1214.6,1014.2 1218.2,1018.6 1221.9,1023.0 1225.5,1027.4 1229.1,1031.9 1232.7,1036.3 1236.4,1040.8 1240.0,1045.2 1243.6,1049.7 1247.3,1054.1 1250.9,1058.6 1254.5,1063.0 1258.1,1067.5 1261.8,1071.9 1265.4,1076.3 1269.0,1080.6 1272.6,1085.0 1276.3,1089.3 1279.9,1093.6 1283.5,1097.8 1287.2,1102.0 1290.8,1106.2 1294.4,1110.3 1298.0,1114.4 1301.7,1118.5 1305.3,1122.5 1308.9,1126.4 1312.6,1130.3 1316.2,1134.2 1319.8,1138.0 1323.4,1141.8 1327.1,1145.6 1330.7,1149.3 1334.3,1153.0 1338.0,1156.7 1341.6,1160.4 1345.2,1164.0 1348.8,1167.6 1352.5,1171.2 1356.1,1174.7 1359.7,1178.3 1363.3,1181.8 1367.0,1185.3 1370.6,1188.8 1374.2,1192.3 1377.9,1195.8 1381.5,1199.3 1385.1,1202.7 1388.7,1206.2 1392.4,1209.6 1396.0,1213.1 1399.6,1216.5 1403.3,1219.9 1406.9,1223.4 1410.5,1226.8 1414.1,1230.2 1417.8,1233.6 1421.4,1237.1 1425.0,1240.5 1428.7,1243.9 1432.3,1247.3 1435.9,1250.6 1439.5,1254.0 1443.2,1257.3 1446.8,1260.6 1450.4,1263.9 1454.0,1267.2 1457.7,1270.4 1461.3,1273.6 1464.9,1276.8 1468.6,1280.0 1472.2,1283.1 1475.8,1286.1 1479.4,1289.2 1483.1,1292.2 1486.7,1295.2 1490.3,1298.1 1494.0,1301.0 1497.6,1303.8 1501.2,1306.6 1504.8,1309.4 1508.5,1312.1 1512.1,1314.8 1515.7,1317.4 1519.4,1320.0 1523.0,1322.6 1526.6,1325.1 1530.2,1327.5 1533.9,1330.0 1537.5,1332.3 1541.1,1334.7 1544.7,1337.0 1548.4,1339.3 1552.0,1341.5 1555.6,1343.7 1559.3,1345.8 1562.9,1348.0 1566.5,1350.1 1570.1,1352.1 1573.8,1354.2 1577.4,1356.2 1581.0,1358.2 1584.7,1360.1 1588.3,1362.1 1591.9,1364.0 1595.5,1365.9 1599.2,1367.7 1602.8,1369.5 1606.4,1371.4 1610.1,1373.2 1613.7,1374.9 1617.3,1376.7 1620.9,1378.4 1624.6,1380.1 1628.2,1381.8 1631.8,1383.5 1635.4,1385.2 1639.1,1386.8 1642.7,1388.4 1646.3,1390.1 1650.0,1391.6 1653.6,1393.2 1657.2,1394.8 1660.8,1396.4 1664.5,1397.9 1668.1,1399.4 1671.7,1400.9 1675.4,1402.4 1679.0,1403.9 1682.6,1405.4 1686.2,1406.9 1689.9,1408.3 1693.5,1409.7 1697.1,1411.2 1700.8,1412.6 1704.4,1414.0 1708.0,1415.3 1711.6,1416.7 1715.3,1418.1 1718.9,1419.4 1722.5,1420.7 1726.1,1422.1 1729.8,1423.4 1733.4,1424.6 1737.0,1425.9 1740.7,1427.2 1744.3,1428.4 1747.9,1429.7 1751.5,1430.9 1755.2,1432.1 1758.8,1433.3 1762.4,1434.5 1766.1,1435.7 1769.7,1436.9 1773.3,1438.0 1776.9,1439.1 1780.6,1440.3 1784.2,1441.4 1787.8,1442.5 1791.5,1443.6 1795.1,1444.7 1798.7,1445.7 1802.3,1446.8 1806.0,1447.8 1809.6,1448.9 1813.2,1449.9 1816.8,1450.9 1820.5,1451.9 1824.1,1452.9 1827.7,1453.8 1831.4,1454.8 1835.0,1455.7 1838.6,1456.7 1842.2,1457.6 1845.9,1458.5 1849.5,1459.4 1853.1,1460.3 1856.8,1461.2 1860.4,1462.1 1864.0,1462.9 1867.6,1463.8 1871.3,1464.6 1874.9,1465.4 1878.5,1466.2 1882.2,1467.0 1885.8,1467.8 1889.4,1468.6 1893.0,1469.4 1896.7,1470.1 1900.3,1470.9 1903.9,1471.6 1907.5,1472.4 1911.2,1473.1 1914.8,1473.8 1918.4,1474.5 1922.1,1475.2 1925.7,1475.9 1929.3,1476.5 1932.9,1477.2 1936.6,1477.8 1940.2,1478.5 1943.8,1479.1 1947.5,1479.7 1951.1,1480.3 1954.7,1480.9 1958.3,1481.5 1962.0,1482.1 1965.6,1482.7 1969.2,1483.3 1972.9,1483.8 1976.5,1484.4 1980.1,1484.9 1983.7,1485.5 1987.4,1486.0 1991.0,1486.5 1994.6,1487.0 1998.2,1487.5 2001.9,1488.0 2005.5,1488.5 2009.1,1489.0 2012.8,1489.4 2016.4,1489.9 2020.0,1490.4 2023.6,1490.8 2027.3,1491.3 2030.9,1491.7 2034.5,1492.1 2038.2,1492.5 2041.8,1493.0 2045.4,1493.4 2049.0,1493.8 2052.7,1494.2 2056.3,1494.6 2059.9,1495.0 2063.6,1495.3 2067.2,1495.7 2070.8,1496.1 2074.4,1496.5 2078.1,1496.8 2081.7,1497.2 2085.3,1497.5 2088.9,1497.9 2092.6,1498.2 2096.2,1498.5 2099.8,1498.9 2103.5,1499.2 2107.1,1499.5 2110.7,1499.8 2114.3,1500.2 2118.0,1500.5 2121.6,1500.8 2125.2,1501.1 2128.9,1501.4 2132.5,1501.7 2136.1,1501.9 2139.7,1502.2 2143.4,1502.5 2147.0,1502.8 2150.6,1503.0 2154.3,1503.3 2157.9,1503.6 2161.5,1503.8 2165.1,1504.1 2168.8,1504.3 2172.4,1504.6 2176.0,1504.8 2179.6,1505.1 2183.3,1505.3 2186.9,1505.5 2190.5,1505.8 2194.2,1506.0 2197.8,1506.2 2201.4,1506.4 2205.0,1506.6 2208.7,1506.8 2212.3,1507.0 2215.9,1507.2 2219.6,1507.4 2223.2,1507.6 2226.8,1507.8 2230.4,1507.9 2234.1,1508.1 2237.7,1508.2 2241.3,1508.4 2245.0,1508.5 2248.6,1508.7 2252.2,1508.8 2255.8,1508.9 2259.5,1509.0 2263.1,1509.1 2266.7,1509.2 2270.3,1509.3 2274.0,1509.4 2277.6,1509.5 2281.2,1509.6 2284.9,1509.6 2288.5,1509.7 2292.1,1509.7 2295.7,1509.8 2299.4,1509.8 2303.0,1509.9 2305,1509.9"/>
<polyline stroke="#FFFF00" points="308,1514.2 311.2,1514.1 314.9,1514.0 318.5,1513.9 322.1,1513.8 325.7,1513.7 329.4,1513.6 333.0,1513.5 336.6,1513.4 340.3,1513.3 343.9,1513.1 347.5,1513.0 351.1,1512.9 354.8,1512.8 358.4,1512.6 362.0,1512.5 365.6,1512.3 369.3,1512.1 372.9,1511.9 376.5,1511.7 380.2,1511.4 383.8,1511.1 387.4,1510.7 391.0,1510.3 394.7,1509.8 398.3,1509.3 401.9,1508.7 405.6,1508.1 409.2,1507.4 412.8,1506.6 416.4,1505.7 420.1,1504.8 423.7,1503.8 427.3,1502.7 431.0,1501.6 434.6,1500.3 438.2,1499.0 441.8,1497.6 445.5,1496.2 449.1,1494.7 452.7,1493.1 456.3,1491.6 460.0,1490.0 463.6,1488.4 467.2,1486.7 470.9,1485.1 474.5,1483.4 478.1,1481.7 481.7,1480.0 485.4,1478.3 489.0,1476.5 492.6,1474.6 496.3,1472.7 499.9,1470.7 503.5,1468.6 507.1,1466.5 510.8,1464.2 514.4,1461.7 518.0,1459.2 521.7,1456.4 525.3,1453.5 528.9,1450.5 532.5,1447.3 536.2,1443.9 539.8,1440.4 543.4,1436.7 547.0,1432.9 550.7,1428.9 554.3,1424.8 557.9,1420.6 561.6,1416.2 565.2,1411.7 568.8,1407.1 572.4,1402.4 576.1,1397.6 579.7,1392.7 583.3,1387.7 587.0,1382.6 590.6,1377.4 594.2,1372.1 597.8,1366.6 601.5,1361.1 605.1,1355.4 608.7,1349.7 612.4,1343.8 616.0,1337.9 619.6,1331.8 623.2,1325.6 626.9,1319.4 630.5,1313.0 634.1,1306.5 637.7,1299.9 641.4,1293.3 645.0,1286.5 648.6,1279.7 652.3,1272.7 655.9,1265.7 659.5,1258.6 663.1,1251.4 666.8,1244.2 670.4,1236.9 674.0,1229.5 677.7,1222.0 681.3,1214.5 684.9,1206.9 688.5,1199.3 692.2,1191.6 695.8,1183.9 699.4,1176.1 703.1,1168.3 706.7,1160.4 710.3,1152.5 713.9,1144.6 717.6,1136.6 721.2,1128.6 724.8,1120.6 728.4,1112.5 732.1,1104.5 735.7,1096.4 739.3,1088.3 743.0,1080.2 746.6,1072.2 750.2,1064.1 753.8,1056.1 757.5,1048.1 761.1,1040.2 764.7,1032.4 768.4,1024.6 772.0,1016.9 775.6,1009.4 779.2,1001.9 782.9,994.6 786.5,987.4 790.1,980.4 793.8,973.5 797.4,966.7 801.0,960.1 804.6,953.6 808.3,947.2 811.9,941.0 815.5,934.9 819.1,929.0 822.8,923.1 826.4,917.4 830.0,911.8 833.7,906.3 837.3,900.9 840.9,895.7 844.5,890.5 848.2,885.5 851.8,880.6 855.4,875.9 859.1,871.2 862.7,866.8 866.3,862.5 869.9,858.3 873.6,854.3 877.2,850.5 880.8,846.9 884.5,843.5 888.1,840.2 891.7,837.2 895.3,834.3 899.0,831.6 902.6,829.1 906.2,826.9 909.8,824.7 913.5,822.8 917.1,821.1 920.7,819.5 924.4,818.1 928.0,816.8 931.6,815.7 935.2,814.8 938.9,814.0 942.5,813.4 946.1,812.9 949.8,812.6 953.4,812.4 957.0,812.4 960.6,812.6 964.3,812.9 967.9,813.4 971.5,814.1 975.2,814.9 978.8,815.9 982.4,817.1 986.0,818.4 989.7,820.0 993.3,821.7 996.9,823.6 1000.5,825.6 1004.2,827.9 1007.8,830.2 1011.4,832.7 1015.1,835.3 1018.7,838.0 1022.3,840.9 1025.9,843.8 1029.6,846.7 1033.2,849.7 1036.8,852.8 1040.5,855.9 1044.1,859.0 1047.7,862.2 1051.3,865.3 1055.0,868.5 1058.6,871.7 1062.2,875.0 1065.9,878.3 1069.5,881.6 1073.1,885.0 1076.7,888.4 1080.4,891.9 1084.0,895.5 1087.6,899.1 1091.2,902.8 1094.9,906.6 1098.5,910.5 1102.1,914.4 1105.8,918.4 1109.4,922.5 1113.0,926.6 1116.6,930.8 1120.3,935.1 1123.9,939.4 1127.5,943.7 1131.2,948.0 1134.8,952.3 1138.4,956.7 1142.0,961.0 1145.7,965.4 1149.3,969.7 1152.9,974.0 1156.6,978.3 1160.2,982.6 1163.8,986.8 1167.4,991.0 1171.1,995.2 1174.7,999.4 1178.3,1003.6 1181.9,1007.8 1185.6,1011.9 1189.2,1016.0 1192.8,1020.2 1196.5,1024.3 1200.1,1028.4 1203.7,1032.6 1207.3,1036.7 1211.0,1040.8 1214.6,1044.9 1218.2,1049.1 1221.9,1053.2 1225.5,1057.4 1229.1,1061.5 1232.7,1065.7 1236.4,1069.9 1240.0,1074.0 1243.6,1078.2 1247.3,1082.4 1250.9,1086.6 1254.5,1090.7 1258.1,1094.9 1261.8,1099.0 1265.4,1103.2 1269.0,1107.3 1272.6,1111.3 1276.3,1115.4 1279.9,1119.4 1283.5,1123.4 1287.2,1127.3 1290.8,1131.3 1294.4,1135.1 1298.0,1139.0 1301.7,1142.8 1305.3,1146.5 1308.9,1150.3 1312.6,1153.9 1316.2,1157.6 1319.8,1161.2 1323.4,1164.7 1327.1,1168.3 1330.7,1171.8 1334.3,1175.2 1338.0,1178.7 1341.6,1182.1 1345.2,1185.5 1348.8,1188.9 1352.5,1192.3 1356.1,1195.6 1359.7,1198.9 1363.3,1202.2 1367.0,1205.5 1370.6,1208.8 1374.2,1212.1 1377.9,1215.4 1381.5,1218.6 1385.1,1221.9 1388.7,1225.1 1392.4,1228.3 1396.0,1231.6 1399.6,1234.8 1403.3,1238.0 1406.9,1241.2 1410.5,1244.4 1414.1,1247.7 1417.8,1250.9 1421.4,1254.1 1425.0,1257.3 1428.7,1260.5 1432.3,1263.6 1435.9,1266.8 1439.5,1270.0 1443.2,1273.1 1446.8,1276.2 1450.4,1279.3 1454.0,1282.3 1457.7,1285.4 1461.3,1288.4 1464.9,1291.4 1468.6,1294.3 1472.2,1297.3 1475.8,1300.2 1479.4,1303.0 1483.1,1305.8 1486.7,1308.6 1490.3,1311.4 1494.0,1314.1 1497.6,1316.8 1501.2,1319.4 1504.8,1322.0 1508.5,1324.6 1512.1,1327.1 1515.7,1329.6 1519.4,1332.0 1523.0,1334.4 1526.6,1336.8 1530.2,1339.1 1533.9,1341.4 1537.5,1343.6 1541.1,1345.8 1544.7,1348.0 1548.4,1350.1 1552.0,1352.2 1555.6,1354.3 1559.3,1356.3 1562.9,1358.3 1566.5,1360.3 1570.1,1362.2 1573.8,1364.1 1577.4,1366.0 1581.0,1367.9 1584.7,1369.7 1588.3,1371.5 1591.9,1373.3 1595.5,1375.1 1599.2,1376.8 1602.8,1378.6 1606.4,1380.3 1610.1,1382.0 1613.7,1383.6 1617.3,1385.3 1620.9,1386.9 1624.6,1388.5 1628.2,1390.1 1631.8,1391.7 1635.4,1393.2 1639.1,1394.8 1642.7,1396.3 1646.3,1397.8 1650.0,1399.3 1653.6,1400.8 1657.2,1402.3 1660.8,1403.7 1664.5,1405.2 1668.1,1406.6 1671.7,1408.0 1675.4,1409.4 1679.0,1410.8 1682.6,1412.2 1686.2,1413.6 1689.9,1414.9 1693.5,1416.3 1697.1,1417.6 1700.8,1418.9 1704.4,1420.3 1708.0,1421.6 1711.6,1422.8 1715.3,1424.1 1718.9,1425.4 1722.5,1426.6 1726.1,1427.9 1729.8,1429.1 1733.4,1430.3 1737.0,1431.5 1740.7,1432.7 1744.3,1433.8 1747.9,1435.0 1751.5,1436.2 1755.2,1437.3 1758.8,1438.4 1762.4,1439.5 1766.1,1440.6 1769.7,1441.7 1773.3,1442.8 1776.9,1443.9 1780.6,1444.9 1784.2,1446.0 1787.8,1447.0 1791.5,1448.0 1795.1,1449.1 1798.7,1450.1 1802.3,1451.0 1806.0,1452.0 1809.6,1453.0 1813.2,1453.9 1816.8,1454.9 1820.5,1455.8 1824.1,1456.7 1827.7,1457.7 1831.4,1458.6 1835.0,1459.4 1838.6,1460.3 1842.2,1461.2 1845.9,1462.0 1849.5,1462.9 1853.1,1463.7 1856.8,1464.6 1860.4,1465.4 1864.0,1466.2 1867.6,1467.0 1871.3,1467.8 1874.9,1468.5 1878.5,1469.3 1882.2,1470.0 1885.8,1470.8 1889.4,1471.5 1893.0,1472.2 1896.7,1472.9 1900.3,1473.7 1903.9,1474.3 1907.5,1475.0 1911.2,1475.7 1914.8,1476.4 1918.4,1477.0 1922.1,1477.7 1925.7,1478.3 1929.3,1478.9 1932.9,1479.5 1936.6,1480.2 1940.2,1480.8 1943.8,1481.3 1947.5,1481.9 1951.1,1482.5 1954.7,1483.1 1958.3,1483.6 1962.0,1484.2 1965.6,1484.7 1969.2,1485.2 1972.9,1485.8 1976.5,1486.3 1980.1,1486.8 1983.7,1487.3 1987.4,1487.8 1991.0,1488.3 1994.6,1488.7 1998.2,1489.2 2001.9,1489.7 2005.5,1490.1 2009.1,1490.6 2012.8,1491.0 2016.4,1491.5 2020.0,1491.9 2023.6,1492.3 2027.3,1492.7 2030.9,1493.1 2034.5,1493.5 2038.2,1493.9 2041.8,1494.3 2045.4,1494.7 2049.0,1495.1 2052.7,1495.5 2056.3,1495.8 2059.9,1496.2 2063.6,1496.6 2067.2,1496.9 2070.8,1497.3 2074.4,1497.6 2078.1,1497.9 2081.7,1498.3 2085.3,1498.6 2088.9,1498.9 2092.6,1499.2 2096.2,1499.5 2099.8,1499.9 2103.5,1500.2 2107.1,1500.5 2110.7,1500.8 2114.3,1501.0 2118.0,1501.3 2121.6,1501.6 2125.2,1501.9 2128.9,1502.2 2132.5,1502.4 2136.1,1502.7 2139.7,1503.0 2143.4,1503.2 2147.0,1503.5 2150.6,1503.8 2154.3,1504.0 2157.9,1504.2 2161.5,1504.5 2165.1,1504.7 2168.8,1505.0 2172.4,1505.2 2176.0,1505.4 2179.6,1505.7 2183.3,1505.9 2186.9,1506.1 2190.5,1506.3 2194.2,1506.5 2197.8,1506.7 2201.4,1506.9 2205.0,1507.1 2208.7,1507.3 2212.3,1507.5 2215.9,1507.7 2219.6,1507.8 2223.2,1508.0 2226.8,1508.2 2230.4,1508.3 2234.1,1508.5 2237.7,1508.6 2241.3,1508.7 2245.0,1508.9 2248.6,1509.0 2252.2,1509.1 2255.8,1509.2 2259.5,1509.3 2263.1,1509.4 2266.7,1509.5 2270.3,1509.6 2274.0,1509.7 2277.6,1509.8 2281.2,1509.9 2284.9,1509.9 2288.5,1510.0 2292.1,1510.0 2295.7,1510.1 2299.4,1510.1 2303.0,1510.1 2305,1510.1"/>
<polyline stroke="#808000" points="308,1514.2 311.2,1514.1 314.9,1514.0 318.5,1513.9 322.1,1513.8 325.7,1513.7 329.4,1513.6 333.0,1513.5 336.6,1513.4 340.3,1513.3 343.9,1513.2 347.5,1513.1 351.1,1513.0 354.8,1512.9 358.4,1512.8 362.0,1512.6 365.6,1512.5 369.3,1512.3 372.9,1512.1 376.5,1511.9 380.2,1511.6 383.8,1511.3 387.4,1511.0 391.0,1510.6 394.7,1510.2 398.3,1509.7 401.9,1509.2 405.6,1508.6 409.2,1508.0 412.8,1507.2 416.4,1506.5 420.1,1505.6 423.7,1504.7 427.3,1503.7 431.0,1502.6 434.6,1501.5 438.2,1500.2 441.8,1499.0 445.5,1497.6 449.1,1496.2 452.7,1494.8 456.3,1493.3 460.0,1491.8 463.6,1490.3 467.2,1488.7 470.9,1487.2 474.5,1485.6 478.1,1484.0 481.7,1482.4 485.4,1480.7 489.0,1479.1 492.6,1477.3 496.3,1475.5 499.9,1473.7 503.5,1471.7 507.1,1469.7 510.8,1467.6 514.4,1465.3 518.0,1462.9 521.7,1460.4 525.3,1457.7 528.9,1454.8 532.5,1451.8 536.2,1448.7 539.8,1445.4 543.4,1442.0 547.0,1438.4 550.7,1434.7 554.3,1430.8 557.9,1426.8 561.6,1422.7 565.2,1418.5 568.8,1414.1 572.4,1409.7 576.1,1405.2 579.7,1400.6 583.3,1395.8 587.0,1391.0 590.6,1386.1 594.2,1381.0 597.8,1375.9 601.5,1370.7 605.1,1365.3 608.7,1359.9 612.4,1354.4 616.0,1348.7 619.6,1343.0 623.2,1337.1 626.9,1331.2 630.5,1325.2 634.1,1319.0 637.7,1312.8 641.4,1306.5 645.0,1300.1 648.6,1293.6 652.3,1287.1 655.9,1280.4 659.5,1273.7 663.1,1266.9 666.8,1260.0 670.4,1253.1 674.0,1246.0 677.7,1239.0 681.3,1231.8 684.9,1224.6 688.5,1217.4 692.2,1210.1 695.8,1202.8 699.4,1195.4 703.1,1187.9 706.7,1180.5 710.3,1172.9 713.9,1165.4 717.6,1157.8 721.2,1150.2 724.8,1142.6 728.4,1134.9 732.1,1127.3 735.7,1119.6 739.3,1111.9 743.0,1104.2 746.6,1096.5 750.2,1088.8 753.8,1081.2 757.5,1073.6 761.1,1066.1 764.7,1058.6 768.4,1051.2 772.0,1043.8 775.6,1036.6 779.2,1029.5 782.9,1022.5 786.5,1015.6 790.1,1008.9 793.8,1002.3 797.4,995.8 801.0,989.5 804.6,983.3 808.3,977.2 811.9,971.2 815.5,965.4 819.1,959.7 822.8,954.1 826.4,948.7 830.0,943.3 833.7,938.1 837.3,932.9 840.9,927.9 844.5,923.0 848.2,918.2 851.8,913.5 855.4,908.9 859.1,904.5 862.7,900.2 866.3,896.1 869.9,892.1 873.6,888.3 877.2,884.7 880.8,881.2 884.5,877.9 888.1,874.8 891.7,871.8 895.3,869.1 899.0,866.5 902.6,864.1 906.2,861.9 909.8,859.9 913.5,858.1 917.1,856.4 920.7,854.8 924.4,853.5 928.0,852.3 931.6,851.2 935.2,850.4 938.9,849.6 942.5,849.0 946.1,848.6 949.8,848.3 953.4,848.1 957.0,848.1 960.6,848.2 964.3,848.5 967.9,849.0 971.5,849.6 975.2,850.4 978.8,851.4 982.4,852.5 986.0,853.8 989.7,855.3 993.3,856.9 996.9,858.8 1000.5,860.7 1004.2,862.9 1007.8,865.1 1011.4,867.5 1015.1,870.0 1018.7,872.6 1022.3,875.3 1025.9,878.0 1029.6,880.9 1033.2,883.8 1036.8,886.7 1040.5,889.6 1044.1,892.6 1047.7,895.6 1051.3,898.7 1055.0,901.7 1058.6,904.8 1062.2,907.9 1065.9,911.0 1069.5,914.2 1073.1,917.4 1076.7,920.7 1080.4,924.0 1084.0,927.4 1087.6,930.9 1091.2,934.4 1094.9,938.1 1098.5,941.8 1102.1,945.5 1105.8,949.4 1109.4,953.3 1113.0,957.2 1116.6,961.2 1120.3,965.3 1123.9,969.3 1127.5,973.4 1131.2,977.6 1134.8,981.7 1138.4,985.8 1142.0,990.0 1145.7,994.1 1149.3,998.2 1152.9,1002.4 1156.6,1006.4 1160.2,1010.5 1163.8,1014.5 1167.4,1018.5 1171.1,1022.5 1174.7,1026.5 1178.3,1030.5 1181.9,1034.4 1185.6,1038.4 1189.2,1042.3 1192.8,1046.3 1196.5,1050.2 1200.1,1054.1 1203.7,1058.0 1207.3,1062.0 1211.0,1065.9 1214.6,1069.8 1218.2,1073.8 1221.9,1077.7 1225.5,1081.6 1229.1,1085.6 1232.7,1089.6 1236.4,1093.5 1240.0,1097.5 1243.6,1101.5 1247.3,1105.5 1250.9,1109.4 1254.5,1113.4 1258.1,1117.3 1261.8,1121.3 1265.4,1125.2 1269.0,1129.1 1272.6,1132.9 1276.3,1136.8 1279.9,1140.6 1283.5,1144.4 1287.2,1148.1 1290.8,1151.9 1294.4,1155.5 1298.0,1159.2 1301.7,1162.8 1305.3,1166.3 1308.9,1169.9 1312.6,1173.3 1316.2,1176.8 1319.8,1180.2 1323.4,1183.6 1327.1,1186.9 1330.7,1190.2 1334.3,1193.5 1338.0,1196.8 1341.6,1200.1 1345.2,1203.3 1348.8,1206.5 1352.5,1209.7 1356.1,1212.9 1359.7,1216.0 1363.3,1219.2 1367.0,1222.3 1370.6,1225.4 1374.2,1228.5 1377.9,1231.6 1381.5,1234.7 1385.1,1237.8 1388.7,1240.9 1392.4,1243.9 1396.0,1247.0 1399.6,1250.1 1403.3,1253.1 1406.9,1256.2 1410.5,1259.2 1414.1,1262.3 1417.8,1265.3 1421.4,1268.4 1425.0,1271.4 1428.7,1274.4 1432.3,1277.5 1435.9,1280.5 1439.5,1283.5 1443.2,1286.4 1446.8,1289.4 1450.4,1292.3 1454.0,1295.2 1457.7,1298.1 1461.3,1300.9 1464.9,1303.8 1468.6,1306.6 1472.2,1309.3 1475.8,1312.1 1479.4,1314.8 1483.1,1317.4 1486.7,1320.1 1490.3,1322.7 1494.0,1325.3 1497.6,1327.8 1501.2,1330.3 1504.8,1332.8 1508.5,1335.2 1512.1,1337.6 1515.7,1339.9 1519.4,1342.2 1523.0,1344.5 1526.6,1346.7 1530.2,1348.9 1533.9,1351.0 1537.5,1353.1 1541.1,1355.2 1544.7,1357.3 1548.4,1359.3 1552.0,1361.3 1555.6,1363.2 1559.3,1365.1 1562.9,1367.0 1566.5,1368.9 1570.1,1370.7 1573.8,1372.5 1577.4,1374.3 1581.0,1376.1 1584.7,1377.8 1588.3,1379.5 1591.9,1381.2 1595.5,1382.9 1599.2,1384.6 1602.8,1386.2 1606.4,1387.8 1610.1,1389.4 1613.7,1391.0 1617.3,1392.5 1620.9,1394.1 1624.6,1395.6 1628.2,1397.1 1631.8,1398.6 1635.4,1400.1 1639.1,1401.5 1642.7,1403.0 1646.3,1404.4 1650.0,1405.8 1653.6,1407.2 1657.2,1408.6 1660.8,1410.0 1664.5,1411.4 1668.1,1412.7 1671.7,1414.1 1675.4,1415.4 1679.0,1416.7 1682.6,1418.0 1686.2,1419.3 1689.9,1420.6 1693.5,1421.9 1697.1,1423.1 1700.8,1424.4 1704.4,1425.6 1708.0,1426.9 1711.6,1428.1 1715.3,1429.3 1718.9,1430.5 1722.5,1431.6 1726.1,1432.8 1729.8,1434.0 1733.4,1435.1 1737.0,1436.2 1740.7,1437.4 1744.3,1438.5 1747.9,1439.6 1751.5,1440.7 1755.2,1441.7 1758.8,1442.8 1762.4,1443.9 1766.1,1444.9 1769.7,1445.9 1773.3,1447.0 1776.9,1448.0 1780.6,1449.0 1784.2,1450.0 1787.8,1450.9 1791.5,1451.9 1795.1,1452.9 1798.7,1453.8 1802.3,1454.7 1806.0,1455.7 1809.6,1456.6 1813.2,1457.5 1816.8,1458.4 1820.5,1459.2 1824.1,1460.1 1827.7,1461.0 1831.4,1461.8 1835.0,1462.7 1838.6,1463.5 1842.2,1464.3 1845.9,1465.1 1849.5,1465.9 1853.1,1466.7 1856.8,1467.5 1860.4,1468.3 1864.0,1469.0 1867.6,1469.8 1871.3,1470.5 1874.9,1471.2 1878.5,1471.9 1882.2,1472.7 1885.8,1473.4 1889.4,1474.0 1893.0,1474.7 1896.7,1475.4 1900.3,1476.1 1903.9,1476.7 1907.5,1477.4 1911.2,1478.0 1914.8,1478.6 1918.4,1479.2 1922.1,1479.8 1925.7,1480.4 1929.3,1481.0 1932.9,1481.6 1936.6,1482.2 1940.2,1482.8 1943.8,1483.3 1947.5,1483.9 1951.1,1484.4 1954.7,1484.9 1958.3,1485.5 1962.0,1486.0 1965.6,1486.5 1969.2,1487.0 1972.9,1487.5 1976.5,1488.0 1980.1,1488.4 1983.7,1488.9 1987.4,1489.4 1991.0,1489.8 1994.6,1490.3 1998.2,1490.7 2001.9,1491.2 2005.5,1491.6 2009.1,1492.0 2012.8,1492.4 2016.4,1492.8 2020.0,1493.2 2023.6,1493.6 2027.3,1494.0 2030.9,1494.4 2034.5,1494.8 2038.2,1495.2 2041.8,1495.5 2045.4,1495.9 2049.0,1496.2 2052.7,1496.6 2056.3,1496.9 2059.9,1497.3 2063.6,1497.6 2067.2,1498.0 2070.8,1498.3 2074.4,1498.6 2078.1,1498.9 2081.7,1499.2 2085.3,1499.5 2088.9,1499.8 2092.6,1500.1 2096.2,1500.4 2099.8,1500.7 2103.5,1501.0 2107.1,1501.3 2110.7,1501.6 2114.3,1501.9 2118.0,1502.1 2121.6,1502.4 2125.2,1502.7 2128.9,1502.9 2132.5,1503.2 2136.1,1503.4 2139.7,1503.7 2143.4,1503.9 2147.0,1504.2 2150.6,1504.4 2154.3,1504.6 2157.9,1504.9 2161.5,1505.1 2165.1,1505.3 2168.8,1505.5 2172.4,1505.8 2176.0,1506.0 2179.6,1506.2 2183.3,1506.4 2186.9,1506.6 2190.5,1506.8 2194.2,1507.0 2197.8,1507.2 2201.4,1507.4 2205.0,1507.6 2208.7,1507.7 2212.3,1507.9 2215.9,1508.1 2219.6,1508.2 2223.2,1508.4 2226.8,1508.5 2230.4,1508.7 2234.1,1508.8 2237.7,1509.0 2241.3,1509.1 2245.0,1509.2 2248.6,1509.3 2252.2,1509.4 2255.8,1509.5 2259.5,1509.6 2263.1,1509.7 2266.7,1509.8 2270.3,1509.9 2274.0,1510.0 2277.6,1510.1 2281.2,1510.1 2284.9,1510.2 2288.5,1510.2 2292.1,1510.3 2295.7,1510.3 2299.4,1510.3 2303.0,1510.4 2305,1510.4"/>
<polyline stroke="#000080" points="308,1514.2 311.2,1514.1 314.9,1514.0 318.5,1514.0 322.1,1513.9 325.7,1513.8 329.4,1513.7 333.0,1513.6 336.6,1513.5 340.3,1513.4 343.9,1513.3 347.5,1513.2 351.1,1513.1 354.8,1513.0 358.4,1512.9 362.0,1512.8 365.6,1512.6 369.3,1512.5 372.9,1512.3 376.5,1512.1 380.2,1511.9 383.8,1511.6 387.4,1511.3 391.0,1511.0 394.7,1510.6 398.3,1510.2 401.9,1509.7 405.6,1509.2 409.2,1508.6 412.8,1508.0 416.4,1507.3 420.1,1506.5 423.7,1505.7 427.3,1504.8 431.0,1503.8 434.6,1502.8 438.2,1501.7 441.8,1500.5 445.5,1499.3 449.1,1498.0 452.7,1496.7 456.3,1495.4 460.0,1494.0 463.6,1492.6 467.2,1491.2 470.9,1489.8 474.5,1488.4 478.1,1486.9 481.7,1485.5 485.4,1484.0 489.0,1482.4 492.6,1480.8 496.3,1479.2 499.9,1477.5 503.5,1475.8 507.1,1473.9 510.8,1472.0 514.4,1470.0 518.0,1467.8 521.7,1465.5 525.3,1463.0 528.9,1460.5 532.5,1457.8 536.2,1454.9 539.8,1451.9 543.4,1448.8 547.0,1445.5 550.7,1442.1 554.3,1438.6 557.9,1435.0 561.6,1431.2 565.2,1427.4 568.8,1423.4 572.4,1419.4 576.1,1415.2 579.7,1411.0 583.3,1406.7 587.0,1402.3 590.6,1397.7 594.2,1393.1 597.8,1388.4 601.5,1383.7 605.1,1378.8 608.7,1373.8 612.4,1368.7 616.0,1363.6 619.6,1358.3 623.2,1353.0 626.9,1347.5 630.5,1342.0 634.1,1336.4 637.7,1330.7 641.4,1324.9 645.0,1319.0 648.6,1313.1 652.3,1307.1 655.9,1301.0 659.5,1294.8 663.1,1288.6 666.8,1282.2 670.4,1275.9 674.0,1269.4 677.7,1263.0 681.3,1256.4 684.9,1249.8 688.5,1243.2 692.2,1236.5 695.8,1229.7 699.4,1222.9 703.1,1216.1 706.7,1209.3 710.3,1202.4 713.9,1195.4 717.6,1188.5 721.2,1181.5 724.8,1174.5 728.4,1167.5 732.1,1160.4 735.7,1153.4 739.3,1146.3 743.0,1139.2 746.6,1132.1 750.2,1125.1 753.8,1118.1 757.5,1111.1 761.1,1104.1 764.7,1097.2 768.4,1090.4 772.0,1083.7 775.6,1077.0 779.2,1070.4 782.9,1064.0 786.5,1057.6 790.1,1051.4 793.8,1045.3 797.4,1039.3 801.0,1033.4 804.6,1027.7 808.3,1022.1 811.9,1016.6 815.5,1011.2 819.1,1005.9 822.8,1000.8 826.4,995.7 830.0,990.8 833.7,986.0 837.3,981.2 840.9,976.6 844.5,972.0 848.2,967.6 851.8,963.2 855.4,959.0 859.1,954.9 862.7,950.9 866.3,947.1 869.9,943.4 873.6,939.8 877.2,936.4 880.8,933.2 884.5,930.1 888.1,927.2 891.7,924.4 895.3,921.9 899.0,919.5 902.6,917.2 906.2,915.1 909.8,913.2 913.5,911.5 917.1,909.9 920.7,908.4 924.4,907.1 928.0,905.9 931.6,904.9 935.2,904.1 938.9,903.3 942.5,902.7 946.1,902.3 949.8,901.9 953.4,901.7 957.0,901.7 960.6,901.8 964.3,902.0 967.9,902.3 971.5,902.9 975.2,903.5 978.8,904.4 982.4,905.3 986.0,906.5 989.7,907.7 993.3,909.2 996.9,910.8 1000.5,912.5 1004.2,914.4 1007.8,916.4 1011.4,918.6 1015.1,920.8 1018.7,923.2 1022.3,925.6 1025.9,928.1 1029.6,930.7 1033.2,933.3 1036.8,936.0 1040.5,938.7 1044.1,941.4 1047.7,944.2 1051.3,946.9 1055.0,949.7 1058.6,952.5 1062.2,955.3 1065.9,958.2 1069.5,961.1 1073.1,964.1 1076.7,967.0 1080.4,970.1 1084.0,973.2 1087.6,976.3 1091.2,979.6 1094.9,982.8 1098.5,986.2 1102.1,989.6 1105.8,993.1 1109.4,996.7 1113.0,1000.3 1116.6,1004.0 1120.3,1007.6 1123.9,1011.4 1127.5,1015.1 1131.2,1018.9 1134.8,1022.7 1138.4,1026.5 1142.0,1030.3 1145.7,1034.1 1149.3,1037.9 1152.9,1041.7 1156.6,1045.5 1160.2,1049.2 1163.8,1052.9 1167.4,1056.6 1171.1,1060.3 1174.7,1064.0 1178.3,1067.6 1181.9,1071.3 1185.6,1074.9 1189.2,1078.5 1192.8,1082.1 1196.5,1085.7 1200.1,1089.3 1203.7,1093.0 1207.3,1096.6 1211.0,1100.2 1214.6,1103.8 1218.2,1107.4 1221.9,1111.0 1225.5,1114.6 1229.1,1118.3 1232.7,1121.9 1236.4,1125.6 1240.0,1129.2 1243.6,1132.9 1247.3,1136.5 1250.9,1140.2 1254.5,1143.8 1258.1,1147.5 1261.8,1151.1 1265.4,1154.7 1269.0,1158.3 1272.6,1161.9 1276.3,1165.4 1279.9,1168.9 1283.5,1172.4 1287.2,1175.9 1290.8,1179.3 1294.4,1182.7 1298.0,1186.1 1301.7,1189.4 1305.3,1192.7 1308.9,1196.0 1312.6,1199.2 1316.2,1202.4 1319.8,1205.5 1323.4,1208.7 1327.1,1211.8 1330.7,1214.8 1334.3,1217.9 1338.0,1220.9 1341.6,1223.9 1345.2,1226.9 1348.8,1229.8 1352.5,1232.8 1356.1,1235.7 1359.7,1238.6 1363.3,1241.5 1367.0,1244.4 1370.6,1247.3 1374.2,1250.2 1377.9,1253.0 1381.5,1255.9 1385.1,1258.7 1388.7,1261.5 1392.4,1264.4 1396.0,1267.2 1399.6,1270.0 1403.3,1272.8 1406.9,1275.6 1410.5,1278.4 1414.1,1281.3 1417.8,1284.1 1421.4,1286.9 1425.0,1289.7 1428.7,1292.5 1432.3,1295.2 1435.9,1298.0 1439.5,1300.8 1443.2,1303.5 1446.8,1306.2 1450.4,1308.9 1454.0,1311.6 1457.7,1314.3 1461.3,1316.9 1464.9,1319.5 1468.6,1322.1 1472.2,1324.7 1475.8,1327.2 1479.4,1329.7 1483.1,1332.2 1486.7,1334.7 1490.3,1337.1 1494.0,1339.4 1497.6,1341.8 1501.2,1344.1 1504.8,1346.4 1508.5,1348.6 1512.1,1350.9 1515.7,1353.0 1519.4,1355.2 1523.0,1357.3 1526.6,1359.3 1530.2,1361.4 1533.9,1363.4 1537.5,1365.3 1541.1,1367.3 1544.7,1369.2 1548.4,1371.0 1552.0,1372.9 1555.6,1374.7 1559.3,1376.5 1562.9,1378.2 1566.5,1379.9 1570.1,1381.7 1573.8,1383.3 1577.4,1385.0 1581.0,1386.6 1584.7,1388.2 1588.3,1389.8 1591.9,1391.4 1595.5,1392.9 1599.2,1394.5 1602.8,1396.0 1606.4,1397.5 1610.1,1399.0 1613.7,1400.4 1617.3,1401.9 1620.9,1403.3 1624.6,1404.7 1628.2,1406.1 1631.8,1407.5 1635.4,1408.8 1639.1,1410.2 1642.7,1411.5 1646.3,1412.8 1650.0,1414.1 1653.6,1415.4 1657.2,1416.7 1660.8,1418.0 1664.5,1419.3 1668.1,1420.5 1671.7,1421.8 1675.4,1423.0 1679.0,1424.2 1682.6,1425.4 1686.2,1426.6 1689.9,1427.8 1693.5,1429.0 1697.1,1430.1 1700.8,1431.3 1704.4,1432.4 1708.0,1433.6 1711.6,1434.7 1715.3,1435.8 1718.9,1436.9 1722.5,1438.0 1726.1,1439.1 1729.8,1440.1 1733.4,1441.2 1737.0,1442.2 1740.7,1443.3 1744.3,1444.3 1747.9,1445.3 1751.5,1446.3 1755.2,1447.3 1758.8,1448.3 1762.4,1449.3 1766.1,1450.2 1769.7,1451.2 1773.3,1452.1 1776.9,1453.1 1780.6,1454.0 1784.2,1454.9 1787.8,1455.8 1791.5,1456.7 1795.1,1457.6 1798.7,1458.5 1802.3,1459.3 1806.0,1460.2 1809.6,1461.0 1813.2,1461.8 1816.8,1462.7 1820.5,1463.5 1824.1,1464.3 1827.7,1465.1 1831.4,1465.9 1835.0,1466.6 1838.6,1467.4 1842.2,1468.2 1845.9,1468.9 1849.5,1469.6 1853.1,1470.4 1856.8,1471.1 1860.4,1471.8 1864.0,1472.5 1867.6,1473.2 1871.3,1473.9 1874.9,1474.5 1878.5,1475.2 1882.2,1475.9 1885.8,1476.5 1889.4,1477.1 1893.0,1477.8 1896.7,1478.4 1900.3,1479.0 1903.9,1479.6 1907.5,1480.2 1911.2,1480.8 1914.8,1481.4 1918.4,1481.9 1922.1,1482.5 1925.7,1483.1 1929.3,1483.6 1932.9,1484.1 1936.6,1484.7 1940.2,1485.2 1943.8,1485.7 1947.5,1486.2 1951.1,1486.7 1954.7,1487.2 1958.3,1487.7 1962.0,1488.2 1965.6,1488.6 1969.2,1489.1 1972.9,1489.5 1976.5,1490.0 1980.1,1490.4 1983.7,1490.9 1987.4,1491.3 1991.0,1491.7 1994.6,1492.1 1998.2,1492.5 2001.9,1492.9 2005.5,1493.3 2009.1,1493.7 2012.8,1494.1 2016.4,1494.5 2020.0,1494.9 2023.6,1495.2 2027.3,1495.6 2030.9,1495.9 2034.5,1496.3 2038.2,1496.6 2041.8,1497.0 2045.4,1497.3 2049.0,1497.6 2052.7,1498.0 2056.3,1498.3 2059.9,1498.6 2063.6,1498.9 2067.2,1499.2 2070.8,1499.5 2074.4,1499.8 2078.1,1500.1 2081.7,1500.4 2085.3,1500.7 2088.9,1500.9 2092.6,1501.2 2096.2,1501.5 2099.8,1501.8 2103.5,1502.0 2107.1,1502.3 2110.7,1502.5 2114.3,1502.8 2118.0,1503.0 2121.6,1503.3 2125.2,1503.5 2128.9,1503.8 2132.5,1504.0 2136.1,1504.2 2139.7,1504.5 2143.4,1504.7 2147.0,1504.9 2150.6,1505.1 2154.3,1505.4 2157.9,1505.6 2161.5,1505.8 2165.1,1506.0 2168.8,1506.2 2172.4,1506.4 2176.0,1506.6 2179.6,1506.8 2183.3,1507.0 2186.9,1507.2 2190.5,1507.3 2194.2,1507.5 2197.8,1507.7 2201.4,1507.9 2205.0,1508.0 2208.7,1508.2 2212.3,1508.4 2215.9,1508.5 2219.6,1508.7 2223.2,1508.8 2226.8,1509.0 2230.4,1509.1 2234.1,1509.2 2237.7,1509.3 2241.3,1509.5 2245.0,1509.6 2248.6,1509.7 2252.2,1509.8 2255.8,1509.9 2259.5,1510.0 2263.1,1510.1 2266.7,1510.2 2270.3,1510.2 2274.0,1510.3 2277.6,1510.4 2281.2,1510.4 2284.9,1510.5 2288.5,1510.5 2292.1,1510.6 2295.7,1510.6 2299.4,1510.7 2303.0,1510.7 2305,1510.7"/>
<polyline stroke="#800080" points="308,1514.2 311.2,1514.2 314.9,1514.1 318.5,1514.0 322.1,1513.9 325.7,1513.8 329.4,1513.7 333.0,1513.7 336.6,1513.6 340.3,1513.5 343.9,1513.4 347.5,1513.3 351.1,1513.3 354.8,1513.2 358.4,1513.1 362.0,1513.0 365.6,1512.8 369.3,1512.7 372.9,1512.5 376.5,1512.4 380.2,1512.2 383.8,1511.9 387.4,1511.7 391.0,1511.4 394.7,1511.1 398.3,1510.7 401.9,1510.3 405.6,1509.8 409.2,1509.3 412.8,1508.7 416.4,1508.1 420.1,1507.5 423.7,1506.7 427.3,1505.9 431.0,1505.1 434.6,1504.2 438.2,1503.2 441.8,1502.2 445.5,1501.1 449.1,1499.9 452.7,1498.8 456.3,1497.6 460.0,1496.4 463.6,1495.1 467.2,1493.9 470.9,1492.6 474.5,1491.4 478.1,1490.1 481.7,1488.7 485.4,1487.4 489.0,1486.0 492.6,1484.6 496.3,1483.2 499.9,1481.7 503.5,1480.1 507.1,1478.5 510.8,1476.8 514.4,1474.9 518.0,1473.0 521.7,1470.9 525.3,1468.8 528.9,1466.5 532.5,1464.1 536.2,1461.5 539.8,1458.9 543.4,1456.1 547.0,1453.1 550.7,1450.1 554.3,1447.0 557.9,1443.7 561.6,1440.3 565.2,1436.9 568.8,1433.3 572.4,1429.7 576.1,1426.0 579.7,1422.2 583.3,1418.3 587.0,1414.4 590.6,1410.3 594.2,1406.2 597.8,1402.0 601.5,1397.7 605.1,1393.3 608.7,1388.8 612.4,1384.2 616.0,1379.6 619.6,1374.9 623.2,1370.1 626.9,1365.2 630.5,1360.2 634.1,1355.2 637.7,1350.0 641.4,1344.8 645.0,1339.5 648.6,1334.2 652.3,1328.8 655.9,1323.3 659.5,1317.7 663.1,1312.1 666.8,1306.4 670.4,1300.7 674.0,1294.9 677.7,1289.1 681.3,1283.2 684.9,1277.2 688.5,1271.2 692.2,1265.2 695.8,1259.1 699.4,1253.0 703.1,1246.9 706.7,1240.7 710.3,1234.5 713.9,1228.2 717.6,1222.0 721.2,1215.7 724.8,1209.4 728.4,1203.0 732.1,1196.7 735.7,1190.3 739.3,1184.0 743.0,1177.6 746.6,1171.2 750.2,1164.8 753.8,1158.5 757.5,1152.2 761.1,1145.9 764.7,1139.7 768.4,1133.6 772.0,1127.5 775.6,1121.5 779.2,1115.5 782.9,1109.7 786.5,1103.9 790.1,1098.3 793.8,1092.8 797.4,1087.4 801.0,1082.1 804.6,1076.9 808.3,1071.9 811.9,1066.9 815.5,1062.0 819.1,1057.3 822.8,1052.6 826.4,1048.1 830.0,1043.6 833.7,1039.2 837.3,1034.9 840.9,1030.7 844.5,1026.6 848.2,1022.6 851.8,1018.7 855.4,1014.9 859.1,1011.2 862.7,1007.6 866.3,1004.1 869.9,1000.8 873.6,997.5 877.2,994.5 880.8,991.5 884.5,988.7 888.1,986.1 891.7,983.6 895.3,981.3 899.0,979.1 902.6,977.0 906.2,975.2 909.8,973.4 913.5,971.8 917.1,970.4 920.7,969.0 924.4,967.9 928.0,966.8 931.6,965.9 935.2,965.1 938.9,964.4 942.5,963.9 946.1,963.4 949.8,963.1 953.4,963.0 957.0,962.9 960.6,963.0 964.3,963.1 967.9,963.5 971.5,963.9 975.2,964.5 978.8,965.3 982.4,966.1 986.0,967.1 989.7,968.3 993.3,969.6 996.9,971.0 1000.5,972.6 1004.2,974.3 1007.8,976.1 1011.4,978.0 1015.1,980.1 1018.7,982.2 1022.3,984.4 1025.9,986.6 1029.6,988.9 1033.2,991.3 1036.8,993.7 1040.5,996.2 1044.1,998.6 1047.7,1001.1 1051.3,1003.6 1055.0,1006.1 1058.6,1008.6 1062.2,1011.2 1065.9,1013.7 1069.5,1016.4 1073.1,1019.0 1076.7,1021.7 1080.4,1024.4 1084.0,1027.2 1087.6,1030.1 1091.2,1033.0 1094.9,1035.9 1098.5,1039.0 1102.1,1042.1 1105.8,1045.2 1109.4,1048.4 1113.0,1051.7 1116.6,1055.0 1120.3,1058.3 1123.9,1061.7 1127.5,1065.0 1131.2,1068.5 1134.8,1071.9 1138.4,1075.3 1142.0,1078.7 1145.7,1082.2 1149.3,1085.6 1152.9,1089.0 1156.6,1092.4 1160.2,1095.8 1163.8,1099.1 1167.4,1102.4 1171.1,1105.8 1174.7,1109.1 1178.3,1112.4 1181.9,1115.6 1185.6,1118.9 1189.2,1122.2 1192.8,1125.4 1196.5,1128.7 1200.1,1131.9 1203.7,1135.2 1207.3,1138.5 1211.0,1141.7 1214.6,1145.0 1218.2,1148.2 1221.9,1151.5 1225.5,1154.7 1229.1,1158.0 1232.7,1161.3 1236.4,1164.6 1240.0,1167.9 1243.6,1171.2 1247.3,1174.5 1250.9,1177.8 1254.5,1181.1 1258.1,1184.3 1261.8,1187.6 1265.4,1190.9 1269.0,1194.1 1272.6,1197.3 1276.3,1200.5 1279.9,1203.7 1283.5,1206.8 1287.2,1210.0 1290.8,1213.1 1294.4,1216.1 1298.0,1219.2 1301.7,1222.2 1305.3,1225.1 1308.9,1228.1 1312.6,1231.0 1316.2,1233.8 1319.8,1236.7 1323.4,1239.5 1327.1,1242.3 1330.7,1245.1 1334.3,1247.8 1338.0,1250.5 1341.6,1253.2 1345.2,1255.9 1348.8,1258.6 1352.5,1261.2 1356.1,1263.9 1359.7,1266.5 1363.3,1269.1 1367.0,1271.7 1370.6,1274.3 1374.2,1276.9 1377.9,1279.5 1381.5,1282.0 1385.1,1284.6 1388.7,1287.1 1392.4,1289.7 1396.0,1292.2 1399.6,1294.8 1403.3,1297.3 1406.9,1299.8 1410.5,1302.4 1414.1,1304.9 1417.8,1307.4 1421.4,1310.0 1425.0,1312.5 1428.7,1315.0 1432.3,1317.5 1435.9,1320.0 1439.5,1322.5 1443.2,1325.0 1446.8,1327.4 1450.4,1329.8 1454.0,1332.3 1457.7,1334.7 1461.3,1337.0 1464.9,1339.4 1468.6,1341.7 1472.2,1344.0 1475.8,1346.3 1479.4,1348.6 1483.1,1350.8 1486.7,1353.0 1490.3,1355.2 1494.0,1357.3 1497.6,1359.5 1501.2,1361.5 1504.8,1363.6 1508.5,1365.6 1512.1,1367.6 1515.7,1369.6 1519.4,1371.5 1523.0,1373.4 1526.6,1375.3 1530.2,1377.1 1533.9,1378.9 1537.5,1380.7 1541.1,1382.4 1544.7,1384.1 1548.4,1385.8 1552.0,1387.4 1555.6,1389.1 1559.3,1390.7 1562.9,1392.3 1566.5,1393.8 1570.1,1395.4 1573.8,1396.9 1577.4,1398.4 1581.0,1399.8 1584.7,1401.3 1588.3,1402.7 1591.9,1404.1 1595.5,1405.5 1599.2,1406.9 1602.8,1408.3 1606.4,1409.6 1610.1,1410.9 1613.7,1412.2 1617.3,1413.5 1620.9,1414.8 1624.6,1416.1 1628.2,1417.3 1631.8,1418.6 1635.4,1419.8 1639.1,1421.0 1642.7,1422.2 1646.3,1423.4 1650.0,1424.6 1653.6,1425.8 1657.2,1426.9 1660.8,1428.1 1664.5,1429.2 1668.1,1430.3 1671.7,1431.4 1675.4,1432.5 1679.0,1433.6 1682.6,1434.7 1686.2,1435.8 1689.9,1436.9 1693.5,1437.9 1697.1,1439.0 1700.8,1440.0 1704.4,1441.0 1708.0,1442.1 1711.6,1443.1 1715.3,1444.1 1718.9,1445.1 1722.5,1446.0 1726.1,1447.0 1729.8,1448.0 1733.4,1448.9 1737.0,1449.9 1740.7,1450.8 1744.3,1451.7 1747.9,1452.6 1751.5,1453.5 1755.2,1454.4 1758.8,1455.3 1762.4,1456.2 1766.1,1457.0 1769.7,1457.9 1773.3,1458.7 1776.9,1459.6 1780.6,1460.4 1784.2,1461.2 1787.8,1462.0 1791.5,1462.8 1795.1,1463.6 1798.7,1464.4 1802.3,1465.2 1806.0,1465.9 1809.6,1466.7 1813.2,1467.4 1816.8,1468.2 1820.5,1468.9 1824.1,1469.6 1827.7,1470.3 1831.4,1471.0 1835.0,1471.7 1838.6,1472.4 1842.2,1473.1 1845.9,1473.8 1849.5,1474.4 1853.1,1475.1 1856.8,1475.7 1860.4,1476.4 1864.0,1477.0 1867.6,1477.6 1871.3,1478.2 1874.9,1478.8 1878.5,1479.4 1882.2,1480.0 1885.8,1480.6 1889.4,1481.1 1893.0,1481.7 1896.7,1482.3 1900.3,1482.8 1903.9,1483.3 1907.5,1483.9 1911.2,1484.4 1914.8,1484.9 1918.4,1485.4 1922.1,1485.9 1925.7,1486.4 1929.3,1486.9 1932.9,1487.4 1936.6,1487.9 1940.2,1488.3 1943.8,1488.8 1947.5,1489.2 1951.1,1489.7 1954.7,1490.1 1958.3,1490.6 1962.0,1491.0 1965.6,1491.4 1969.2,1491.8 1972.9,1492.2 1976.5,1492.6 1980.1,1493.0 1983.7,1493.4 1987.4,1493.8 1991.0,1494.2 1994.6,1494.5 1998.2,1494.9 2001.9,1495.3 2005.5,1495.6 2009.1,1496.0 2012.8,1496.3 2016.4,1496.6 2020.0,1497.0 2023.6,1497.3 2027.3,1497.6 2030.9,1497.9 2034.5,1498.2 2038.2,1498.6 2041.8,1498.9 2045.4,1499.2 2049.0,1499.4 2052.7,1499.7 2056.3,1500.0 2059.9,1500.3 2063.6,1500.6 2067.2,1500.8 2070.8,1501.1 2074.4,1501.4 2078.1,1501.6 2081.7,1501.9 2085.3,1502.2 2088.9,1502.4 2092.6,1502.6 2096.2,1502.9 2099.8,1503.1 2103.5,1503.4 2107.1,1503.6 2110.7,1503.8 2114.3,1504.0 2118.0,1504.3 2121.6,1504.5 2125.2,1504.7 2128.9,1504.9 2132.5,1505.1 2136.1,1505.3 2139.7,1505.5 2143.4,1505.7 2147.0,1505.9 2150.6,1506.1 2154.3,1506.3 2157.9,1506.5 2161.5,1506.7 2165.1,1506.9 2168.8,1507.1 2172.4,1507.2 2176.0,1507.4 2179.6,1507.6 2183.3,1507.8 2186.9,1507.9 2190.5,1508.1 2194.2,1508.3 2197.8,1508.4 2201.4,1508.6 2205.0,1508.7 2208.7,1508.9 2212.3,1509.0 2215.9,1509.1 2219.6,1509.3 2223.2,1509.4 2226.8,1509.5 2230.4,1509.6 2234.1,1509.8 2237.7,1509.9 2241.3,1510.0 2245.0,1510.1 2248.6,1510.2 2252.2,1510.3 2255.8,1510.4 2259.5,1510.4 2263.1,1510.5 2266.7,1510.6 2270.3,1510.7 2274.0,1510.7 2277.6,1510.8 2281.2,1510.8 2284.9,1510.9 2288.5,1510.9 2292.1,1511.0 2295.7,1511.0 2299.4,1511.1 2303.0,1511.1 2305,1511.1"/>
<polyline stroke="#800000" points="308,1514.2 311.2,1514.2 314.9,1514.1 318.5,1514.0 322.1,1513.9 325.7,1513.9 329.4,1513.8 333.0,1513.7 336.6,1513.6 340.3,1513.6 343.9,1513.5 347.5,1513.4 351.1,1513.4 354.8,1513.3 358.4,1513.2 362.0,1513.1 365.6,1513.0 369.3,1512.9 372.9,1512.7 376.5,1512.6 380.2,1512.4 383.8,1512.2 387.4,1512.0 391.0,1511.7 394.7,1511.4 398.3,1511.1 401.9,1510.7 405.6,1510.3 409.2,1509.9 412.8,1509.4 416.4,1508.8 420.1,1508.2 423.7,1507.6 427.3,1506.9 431.0,1506.1 434.6,1505.3 438.2,1504.5 441.8,1503.5 445.5,1502.6 449.1,1501.6 452.7,1500.5 456.3,1499.5 460.0,1498.4 463.6,1497.3 467.2,1496.2 470.9,1495.0 474.5,1493.9 478.1,1492.7 481.7,1491.5 485.4,1490.3 489.0,1489.1 492.6,1487.9 496.3,1486.6 499.9,1485.2 503.5,1483.8 507.1,1482.4 510.8,1480.8 514.4,1479.2 518.0,1477.5 521.7,1475.6 525.3,1473.7 528.9,1471.6 532.5,1469.5 536.2,1467.2 539.8,1464.8 543.4,1462.3 547.0,1459.7 550.7,1456.9 554.3,1454.1 557.9,1451.2 561.6,1448.2 565.2,1445.1 568.8,1441.9 572.4,1438.6 576.1,1435.3 579.7,1431.8 583.3,1428.3 587.0,1424.8 590.6,1421.1 594.2,1417.4 597.8,1413.6 601.5,1409.7 605.1,1405.7 608.7,1401.7 612.4,1397.6 616.0,1393.4 619.6,1389.2 623.2,1384.8 626.9,1380.4 630.5,1375.9 634.1,1371.3 637.7,1366.7 641.4,1362.0 645.0,1357.2 648.6,1352.4 652.3,1347.5 655.9,1342.6 659.5,1337.6 663.1,1332.5 666.8,1327.3 670.4,1322.2 674.0,1316.9 677.7,1311.7 681.3,1306.3 684.9,1301.0 688.5,1295.6 692.2,1290.1 695.8,1284.6 699.4,1279.1 703.1,1273.5 706.7,1267.9 710.3,1262.3 713.9,1256.7 717.6,1251.0 721.2,1245.3 724.8,1239.6 728.4,1233.9 732.1,1228.2 735.7,1222.4 739.3,1216.6 743.0,1210.9 746.6,1205.1 750.2,1199.4 753.8,1193.6 757.5,1187.9 761.1,1182.3 764.7,1176.6 768.4,1171.1 772.0,1165.5 775.6,1160.1 779.2,1154.7 782.9,1149.4 786.5,1144.2 790.1,1139.1 793.8,1134.1 797.4,1129.2 801.0,1124.4 804.6,1119.7 808.3,1115.1 811.9,1110.6 815.5,1106.2 819.1,1101.9 822.8,1097.7 826.4,1093.6 830.0,1089.5 833.7,1085.5 837.3,1081.7 840.9,1077.8 844.5,1074.1 848.2,1070.5 851.8,1066.9 855.4,1063.5 859.1,1060.1 862.7,1056.8 866.3,1053.7 869.9,1050.6 873.6,1047.7 877.2,1044.9 880.8,1042.2 884.5,1039.7 888.1,1037.3 891.7,1035.0 895.3,1032.9 899.0,1030.9 902.6,1029.0 906.2,1027.3 909.8,1025.7 913.5,1024.2 917.1,1022.9 920.7,1021.7 924.4,1020.6 928.0,1019.6 931.6,1018.7 935.2,1018.0 938.9,1017.4 942.5,1016.9 946.1,1016.4 949.8,1016.1 953.4,1016.0 957.0,1015.9 960.6,1015.9 964.3,1016.1 967.9,1016.3 971.5,1016.7 975.2,1017.2 978.8,1017.9 982.4,1018.6 986.0,1019.5 989.7,1020.5 993.3,1021.7 996.9,1022.9 1000.5,1024.3 1004.2,1025.9 1007.8,1027.5 1011.4,1029.2 1015.1,1031.0 1018.7,1032.9 1022.3,1034.9 1025.9,1036.9 1029.6,1039.0 1033.2,1041.1 1036.8,1043.3 1040.5,1045.5 1044.1,1047.7 1047.7,1049.9 1051.3,1052.2 1055.0,1054.4 1058.6,1056.7 1062.2,1059.0 1065.9,1061.3 1069.5,1063.7 1073.1,1066.1 1076.7,1068.5 1080.4,1071.0 1084.0,1073.5 1087.6,1076.0 1091.2,1078.6 1094.9,1081.3 1098.5,1084.0 1102.1,1086.8 1105.8,1089.6 1109.4,1092.5 1113.0,1095.4 1116.6,1098.4 1120.3,1101.4 1123.9,1104.4 1127.5,1107.5 1131.2,1110.6 1134.8,1113.7 1138.4,1116.8 1142.0,1119.9 1145.7,1123.0 1149.3,1126.1 1152.9,1129.1 1156.6,1132.2 1160.2,1135.3 1163.8,1138.3 1167.4,1141.3 1171.1,1144.3 1174.7,1147.3 1178.3,1150.3 1181.9,1153.3 1185.6,1156.2 1189.2,1159.2 1192.8,1162.1 1196.5,1165.1 1200.1,1168.0 1203.7,1171.0 1207.3,1173.9 1211.0,1176.9 1214.6,1179.8 1218.2,1182.7 1221.9,1185.7 1225.5,1188.6 1229.1,1191.6 1232.7,1194.6 1236.4,1197.6 1240.0,1200.5 1243.6,1203.5 1247.3,1206.5 1250.9,1209.5 1254.5,1212.4 1258.1,1215.4 1261.8,1218.4 1265.4,1221.3 1269.0,1224.2 1272.6,1227.2 1276.3,1230.1 1279.9,1232.9 1283.5,1235.8 1287.2,1238.6 1290.8,1241.4 1294.4,1244.2 1298.0,1247.0 1301.7,1249.7 1305.3,1252.4 1308.9,1255.1 1312.6,1257.7 1316.2,1260.3 1319.8,1262.9 1323.4,1265.4 1327.1,1268.0 1330.7,1270.5 1334.3,1273.0 1338.0,1275.4 1341.6,1277.9 1345.2,1280.3 1348.8,1282.7 1352.5,1285.1 1356.1,1287.5 1359.7,1289.9 1363.3,1292.3 1367.0,1294.6 1370.6,1297.0 1374.2,1299.3 1377.9,1301.7 1381.5,1304.0 1385.1,1306.3 1388.7,1308.6 1392.4,1310.9 1396.0,1313.2 1399.6,1315.5 1403.3,1317.8 1406.9,1320.1 1410.5,1322.4 1414.1,1324.7 1417.8,1327.0 1421.4,1329.3 1425.0,1331.6 1428.7,1333.8 1432.3,1336.1 1435.9,1338.4 1439.5,1340.6 1443.2,1342.8 1446.8,1345.1 1450.4,1347.3 1454.0,1349.5 1457.7,1351.7 1461.3,1353.8 1464.9,1355.9 1468.6,1358.1 1472.2,1360.2 1475.8,1362.2 1479.4,1364.3 1483.1,1366.3 1486.7,1368.3 1490.3,1370.3 1494.0,1372.2 1497.6,1374.2 1501.2,1376.1 1504.8,1377.9 1508.5,1379.8 1512.1,1381.6 1515.7,1383.4 1519.4,1385.1 1523.0,1386.8 1526.6,1388.5 1530.2,1390.2 1533.9,1391.8 1537.5,1393.4 1541.1,1395.0 1544.7,1396.6 1548.4,1398.1 1552.0,1399.6 1555.6,1401.1 1559.3,1402.5 1562.9,1404.0 1566.5,1405.4 1570.1,1406.8 1573.8,1408.2 1577.4,1409.5 1581.0,1410.9 1584.7,1412.2 1588.3,1413.5 1591.9,1414.7 1595.5,1416.0 1599.2,1417.3 1602.8,1418.5 1606.4,1419.7 1610.1,1420.9 1613.7,1422.1 1617.3,1423.3 1620.9,1424.4 1624.6,1425.6 1628.2,1426.7 1631.8,1427.9 1635.4,1429.0 1639.1,1430.1 1642.7,1431.2 1646.3,1432.2 1650.0,1433.3 1653.6,1434.4 1657.2,1435.4 1660.8,1436.5 1664.5,1437.5 1668.1,1438.5 1671.7,1439.5 1675.4,1440.5 1679.0,1441.5 1682.6,1442.5 1686.2,1443.5 1689.9,1444.4 1693.5,1445.4 1697.1,1446.3 1700.8,1447.3 1704.4,1448.2 1708.0,1449.1 1711.6,1450.0 1715.3,1450.9 1718.9,1451.8 1722.5,1452.7 1726.1,1453.6 1729.8,1454.5 1733.4,1455.3 1737.0,1456.2 1740.7,1457.0 1744.3,1457.8 1747.9,1458.7 1751.5,1459.5 1755.2,1460.3 1758.8,1461.1 1762.4,1461.9 1766.1,1462.7 1769.7,1463.4 1773.3,1464.2 1776.9,1465.0 1780.6,1465.7 1784.2,1466.4 1787.8,1467.2 1791.5,1467.9 1795.1,1468.6 1798.7,1469.3 1802.3,1470.0 1806.0,1470.7 1809.6,1471.4 1813.2,1472.1 1816.8,1472.7 1820.5,1473.4 1824.1,1474.0 1827.7,1474.7 1831.4,1475.3 1835.0,1476.0 1838.6,1476.6 1842.2,1477.2 1845.9,1477.8 1849.5,1478.4 1853.1,1479.0 1856.8,1479.6 1860.4,1480.1 1864.0,1480.7 1867.6,1481.3 1871.3,1481.8 1874.9,1482.3 1878.5,1482.9 1882.2,1483.4 1885.8,1483.9 1889.4,1484.4 1893.0,1485.0 1896.7,1485.5 1900.3,1485.9 1903.9,1486.4 1907.5,1486.9 1911.2,1487.4 1914.8,1487.9 1918.4,1488.3 1922.1,1488.8 1925.7,1489.2 1929.3,1489.7 1932.9,1490.1 1936.6,1490.5 1940.2,1490.9 1943.8,1491.3 1947.5,1491.8 1951.1,1492.2 1954.7,1492.6 1958.3,1492.9 1962.0,1493.3 1965.6,1493.7 1969.2,1494.1 1972.9,1494.4 1976.5,1494.8 1980.1,1495.2 1983.7,1495.5 1987.4,1495.8 1991.0,1496.2 1994.6,1496.5 1998.2,1496.8 2001.9,1497.2 2005.5,1497.5 2009.1,1497.8 2012.8,1498.1 2016.4,1498.4 2020.0,1498.7 2023.6,1499.0 2027.3,1499.3 2030.9,1499.6 2034.5,1499.9 2038.2,1500.1 2041.8,1500.4 2045.4,1500.7 2049.0,1500.9 2052.7,1501.2 2056.3,1501.4 2059.9,1501.7 2063.6,1501.9 2067.2,1502.2 2070.8,1502.4 2074.4,1502.7 2078.1,1502.9 2081.7,1503.1 2085.3,1503.4 2088.9,1503.6 2092.6,1503.8 2096.2,1504.0 2099.8,1504.2 2103.5,1504.5 2107.1,1504.7 2110.7,1504.9 2114.3,1505.1 2118.0,1505.3 2121.6,1505.5 2125.2,1505.7 2128.9,1505.8 2132.5,1506.0 2136.1,1506.2 2139.7,1506.4 2143.4,1506.6 2147.0,1506.8 2150.6,1506.9 2154.3,1507.1 2157.9,1507.3 2161.5,1507.4 2165.1,1507.6 2168.8,1507.8 2172.4,1507.9 2176.0,1508.1 2179.6,1508.2 2183.3,1508.4 2186.9,1508.6 2190.5,1508.7 2194.2,1508.8 2197.8,1509.0 2201.4,1509.1 2205.0,1509.3 2208.7,1509.4 2212.3,1509.5 2215.9,1509.6 2219.6,1509.8 2223.2,1509.9 2226.8,1510.0 2230.4,1510.1 2234.1,1510.2 2237.7,1510.3 2241.3,1510.4 2245.0,1510.5 2248.6,1510.6 2252.2,1510.7 2255.8,1510.7 2259.5,1510.8 2263.1,1510.9 2266.7,1511.0 2270.3,1511.0 2274.0,1511.1 2277.6,1511.1 2281.2,1511.2 2284.9,1511.2 2288.5,1511.3 2292.1,1511.3 2295.7,1511.3 2299.4,1511.4 2303.0,1511.4 2305,1511.4"/>
<polyline stroke="#008000" points="308,1514.2 311.2,1514.2 314.9,1514.1 318.5,1514.0 322.1,1514.0 325.7,1513.9 329.4,1513.8 333.0,1513.8 336.6,1513.7 340.3,1513.7 343.9,1513.6 347.5,1513.5 351.1,1513.5 354.8,1513.4 358.4,1513.3 362.0,1513.2 365.6,1513.1 369.3,1513.0 372.9,1512.9 376.5,1512.8 380.2,1512.6 383.8,1512.5 387.4,1512.3 391.0,1512.1 394.7,1511.8 398.3,1511.5 401.9,1511.2 405.6,1510.9 409.2,1510.5 412.8,1510.0 416.4,1509.6 420.1,1509.1 423.7,1508.5 427.3,1507.9 431.0,1507.2 434.6,1506.5 438.2,1505.8 441.8,1505.0 445.5,1504.2 449.1,1503.3 452.7,1502.4 456.3,1501.4 460.0,1500.5 463.6,1499.5 467.2,1498.5 470.9,1497.5 474.5,1496.5 478.1,1495.5 481.7,1494.5 485.4,1493.4 489.0,1492.3 492.6,1491.2 496.3,1490.1 499.9,1488.9 503.5,1487.7 507.1,1486.4 510.8,1485.1 514.4,1483.6 518.0,1482.1 521.7,1480.5 525.3,1478.8 528.9,1477.0 532.5,1475.1 536.2,1473.1 539.8,1471.0 543.4,1468.8 547.0,1466.5 550.7,1464.1 554.3,1461.6 557.9,1459.0 561.6,1456.3 565.2,1453.6 568.8,1450.8 572.4,1447.9 576.1,1444.9 579.7,1441.9 583.3,1438.8 587.0,1435.6 590.6,1432.4 594.2,1429.1 597.8,1425.7 601.5,1422.2 605.1,1418.7 608.7,1415.1 612.4,1411.5 616.0,1407.8 619.6,1404.0 623.2,1400.1 626.9,1396.2 630.5,1392.2 634.1,1388.2 637.7,1384.0 641.4,1379.9 645.0,1375.6 648.6,1371.3 652.3,1367.0 655.9,1362.5 659.5,1358.1 663.1,1353.6 666.8,1349.0 670.4,1344.4 674.0,1339.7 677.7,1335.0 681.3,1330.3 684.9,1325.5 688.5,1320.7 692.2,1315.8 695.8,1310.9 699.4,1306.0 703.1,1301.0 706.7,1296.1 710.3,1291.1 713.9,1286.0 717.6,1281.0 721.2,1275.9 724.8,1270.8 728.4,1265.7 732.1,1260.6 735.7,1255.5 739.3,1250.3 743.0,1245.2 746.6,1240.0 750.2,1234.9 753.8,1229.8 757.5,1224.7 761.1,1219.6 764.7,1214.6 768.4,1209.6 772.0,1204.7 775.6,1199.8 779.2,1195.0 782.9,1190.2 786.5,1185.6 790.1,1181.0 793.8,1176.5 797.4,1172.1 801.0,1167.8 804.6,1163.6 808.3,1159.5 811.9,1155.4 815.5,1151.5 819.1,1147.6 822.8,1143.8 826.4,1140.1 830.0,1136.4 833.7,1132.9 837.3,1129.4 840.9,1126.0 844.5,1122.6 848.2,1119.3 851.8,1116.1 855.4,1113.0 859.1,1110.0 862.7,1107.1 866.3,1104.2 869.9,1101.5 873.6,1098.8 877.2,1096.3 880.8,1093.9 884.5,1091.5 888.1,1089.3 891.7,1087.3 895.3,1085.3 899.0,1083.5 902.6,1081.8 906.2,1080.2 909.8,1078.7 913.5,1077.3 917.1,1076.1 920.7,1075.0 924.4,1074.0 928.0,1073.0 931.6,1072.2 935.2,1071.5 938.9,1070.9 942.5,1070.4 946.1,1070.0 949.8,1069.7 953.4,1069.5 957.0,1069.4 960.6,1069.4 964.3,1069.4 967.9,1069.6 971.5,1069.9 975.2,1070.3 978.8,1070.8 982.4,1071.5 986.0,1072.2 989.7,1073.0 993.3,1074.0 996.9,1075.1 1000.5,1076.3 1004.2,1077.6 1007.8,1078.9 1011.4,1080.4 1015.1,1082.0 1018.7,1083.6 1022.3,1085.4 1025.9,1087.1 1029.6,1089.0 1033.2,1090.8 1036.8,1092.8 1040.5,1094.7 1044.1,1096.7 1047.7,1098.6 1051.3,1100.6 1055.0,1102.6 1058.6,1104.7 1062.2,1106.7 1065.9,1108.8 1069.5,1110.8 1073.1,1113.0 1076.7,1115.1 1080.4,1117.3 1084.0,1119.5 1087.6,1121.7 1091.2,1124.0 1094.9,1126.4 1098.5,1128.8 1102.1,1131.2 1105.8,1133.7 1109.4,1136.3 1113.0,1138.8 1116.6,1141.5 1120.3,1144.1 1123.9,1146.8 1127.5,1149.5 1131.2,1152.3 1134.8,1155.0 1138.4,1157.8 1142.0,1160.5 1145.7,1163.3 1149.3,1166.1 1152.9,1168.8 1156.6,1171.6 1160.2,1174.3 1163.8,1177.0 1167.4,1179.7 1171.1,1182.4 1174.7,1185.1 1178.3,1187.8 1181.9,1190.4 1185.6,1193.1 1189.2,1195.7 1192.8,1198.3 1196.5,1201.0 1200.1,1203.6 1203.7,1206.2 1207.3,1208.8 1211.0,1211.5 1214.6,1214.1 1218.2,1216.7 1221.9,1219.4 1225.5,1222.0 1229.1,1224.6 1232.7,1227.3 1236.4,1229.9 1240.0,1232.6 1243.6,1235.2 1247.3,1237.9 1250.9,1240.6 1254.5,1243.2 1258.1,1245.9 1261.8,1248.5 1265.4,1251.2 1269.0,1253.8 1272.6,1256.4 1276.3,1259.0 1279.9,1261.6 1283.5,1264.2 1287.2,1266.7 1290.8,1269.2 1294.4,1271.7 1298.0,1274.2 1301.7,1276.7 1305.3,1279.1 1308.9,1281.5 1312.6,1283.9 1316.2,1286.2 1319.8,1288.5 1323.4,1290.8 1327.1,1293.1 1330.7,1295.4 1334.3,1297.6 1338.0,1299.8 1341.6,1302.0 1345.2,1304.2 1348.8,1306.4 1352.5,1308.5 1356.1,1310.7 1359.7,1312.8 1363.3,1314.9 1367.0,1317.0 1370.6,1319.1 1374.2,1321.2 1377.9,1323.3 1381.5,1325.4 1385.1,1327.5 1388.7,1329.6 1392.4,1331.6 1396.0,1333.7 1399.6,1335.7 1403.3,1337.8 1406.9,1339.8 1410.5,1341.9 1414.1,1343.9 1417.8,1346.0 1421.4,1348.0 1425.0,1350.1 1428.7,1352.1 1432.3,1354.2 1435.9,1356.2 1439.5,1358.2 1443.2,1360.2 1446.8,1362.2 1450.4,1364.2 1454.0,1366.2 1457.7,1368.1 1461.3,1370.1 1464.9,1372.0 1468.6,1373.9 1472.2,1375.8 1475.8,1377.6 1479.4,1379.5 1483.1,1381.3 1486.7,1383.1 1490.3,1384.9 1494.0,1386.7 1497.6,1388.4 1501.2,1390.1 1504.8,1391.8 1508.5,1393.5 1512.1,1395.1 1515.7,1396.7 1519.4,1398.3 1523.0,1399.8 1526.6,1401.4 1530.2,1402.9 1533.9,1404.4 1537.5,1405.8 1541.1,1407.2 1544.7,1408.7 1548.4,1410.0 1552.0,1411.4 1555.6,1412.7 1559.3,1414.0 1562.9,1415.3 1566.5,1416.6 1570.1,1417.9 1573.8,1419.1 1577.4,1420.3 1581.0,1421.5 1584.7,1422.7 1588.3,1423.9 1591.9,1425.1 1595.5,1426.2 1599.2,1427.3 1602.8,1428.4 1606.4,1429.5 1610.1,1430.6 1613.7,1431.7 1617.3,1432.8 1620.9,1433.8 1624.6,1434.8 1628.2,1435.9 1631.8,1436.9 1635.4,1437.9 1639.1,1438.9 1642.7,1439.8 1646.3,1440.8 1650.0,1441.8 1653.6,1442.7 1657.2,1443.7 1660.8,1444.6 1664.5,1445.5 1668.1,1446.4 1671.7,1447.3 1675.4,1448.2 1679.0,1449.1 1682.6,1450.0 1686.2,1450.9 1689.9,1451.7 1693.5,1452.6 1697.1,1453.5 1700.8,1454.3 1704.4,1455.1 1708.0,1456.0 1711.6,1456.8 1715.3,1457.6 1718.9,1458.4 1722.5,1459.2 1726.1,1460.0 1729.8,1460.8 1733.4,1461.5 1737.0,1462.3 1740.7,1463.0 1744.3,1463.8 1747.9,1464.5 1751.5,1465.3 1755.2,1466.0 1758.8,1466.7 1762.4,1467.4 1766.1,1468.1 1769.7,1468.8 1773.3,1469.5 1776.9,1470.2 1780.6,1470.8 1784.2,1471.5 1787.8,1472.2 1791.5,1472.8 1795.1,1473.4 1798.7,1474.1 1802.3,1474.7 1806.0,1475.3 1809.6,1475.9 1813.2,1476.5 1816.8,1477.1 1820.5,1477.7 1824.1,1478.3 1827.7,1478.9 1831.4,1479.5 1835.0,1480.0 1838.6,1480.6 1842.2,1481.1 1845.9,1481.7 1849.5,1482.2 1853.1,1482.7 1856.8,1483.2 1860.4,1483.8 1864.0,1484.3 1867.6,1484.8 1871.3,1485.3 1874.9,1485.7 1878.5,1486.2 1882.2,1486.7 1885.8,1487.2 1889.4,1487.6 1893.0,1488.1 1896.7,1488.5 1900.3,1489.0 1903.9,1489.4 1907.5,1489.8 1911.2,1490.3 1914.8,1490.7 1918.4,1491.1 1922.1,1491.5 1925.7,1491.9 1929.3,1492.3 1932.9,1492.7 1936.6,1493.0 1940.2,1493.4 1943.8,1493.8 1947.5,1494.2 1951.1,1494.5 1954.7,1494.9 1958.3,1495.2 1962.0,1495.6 1965.6,1495.9 1969.2,1496.2 1972.9,1496.6 1976.5,1496.9 1980.1,1497.2 1983.7,1497.5 1987.4,1497.8 1991.0,1498.1 1994.6,1498.4 1998.2,1498.7 2001.9,1499.0 2005.5,1499.3 2009.1,1499.6 2012.8,1499.8 2016.4,1500.1 2020.0,1500.4 2023.6,1500.6 2027.3,1500.9 2030.9,1501.1 2034.5,1501.4 2038.2,1501.6 2041.8,1501.9 2045.4,1502.1 2049.0,1502.4 2052.7,1502.6 2056.3,1502.8 2059.9,1503.0 2063.6,1503.3 2067.2,1503.5 2070.8,1503.7 2074.4,1503.9 2078.1,1504.1 2081.7,1504.3 2085.3,1504.5 2088.9,1504.7 2092.6,1504.9 2096.2,1505.1 2099.8,1505.3 2103.5,1505.5 2107.1,1505.7 2110.7,1505.9 2114.3,1506.0 2118.0,1506.2 2121.6,1506.4 2125.2,1506.6 2128.9,1506.7 2132.5,1506.9 2136.1,1507.1 2139.7,1507.2 2143.4,1507.4 2147.0,1507.5 2150.6,1507.7 2154.3,1507.9 2157.9,1508.0 2161.5,1508.2 2165.1,1508.3 2168.8,1508.4 2172.4,1508.6 2176.0,1508.7 2179.6,1508.9 2183.3,1509.0 2186.9,1509.1 2190.5,1509.3 2194.2,1509.4 2197.8,1509.5 2201.4,1509.6 2205.0,1509.8 2208.7,1509.9 2212.3,1510.0 2215.9,1510.1 2219.6,1510.2 2223.2,1510.3 2226.8,1510.4 2230.4,1510.5 2234.1,1510.6 2237.7,1510.7 2241.3,1510.8 2245.0,1510.9 2248.6,1511.0 2252.2,1511.0 2255.8,1511.1 2259.5,1511.2 2263.1,1511.2 2266.7,1511.3 2270.3,1511.4 2274.0,1511.4 2277.6,1511.5 2281.2,1511.5 2284.9,1511.6 2288.5,1511.6 2292.1,1511.6 2295.7,1511.7 2299.4,1511.7 2303.0,1511.7 2305,1511.7"/>
<polyline stroke="#008080" points="308,1514.2 311.2,1514.1 314.9,1514.1 318.5,1514.0 322.1,1514.0 325.7,1513.9 329.4,1513.9 333.0,1513.8 336.6,1513.8 340.3,1513.7 343.9,1513.6 347.5,1513.6 351.1,1513.5 354.8,1513.5 358.4,1513.4 362.0,1513.3 365.6,1513.2 369.3,1513.1 372.9,1513.0 376.5,1512.9 380.2,1512.8 383.8,1512.6 387.4,1512.5 391.0,1512.3 394.7,1512.0 398.3,1511.8 401.9,1511.5 405.6,1511.2 409.2,1510.8 412.8,1510.5 416.4,1510.0 420.1,1509.6 423.7,1509.1 427.3,1508.5 431.0,1508.0 434.6,1507.3 438.2,1506.7 441.8,1506.0 445.5,1505.2 449.1,1504.4 452.7,1503.6 456.3,1502.8 460.0,1502.0 463.6,1501.1 467.2,1500.3 470.9,1499.4 474.5,1498.5 478.1,1497.6 481.7,1496.7 485.4,1495.8 489.0,1494.8 492.6,1493.9 496.3,1492.8 499.9,1491.8 503.5,1490.7 507.1,1489.6 510.8,1488.4 514.4,1487.1 518.0,1485.7 521.7,1484.3 525.3,1482.8 528.9,1481.2 532.5,1479.5 536.2,1477.7 539.8,1475.8 543.4,1473.9 547.0,1471.8 550.7,1469.7 554.3,1467.5 557.9,1465.2 561.6,1462.8 565.2,1460.3 568.8,1457.8 572.4,1455.3 576.1,1452.6 579.7,1449.9 583.3,1447.2 587.0,1444.4 590.6,1441.5 594.2,1438.5 597.8,1435.5 601.5,1432.5 605.1,1429.4 608.7,1426.2 612.4,1422.9 616.0,1419.6 619.6,1416.3 623.2,1412.8 626.9,1409.4 630.5,1405.8 634.1,1402.2 637.7,1398.6 641.4,1394.9 645.0,1391.1 648.6,1387.3 652.3,1383.4 655.9,1379.5 659.5,1375.6 663.1,1371.6 666.8,1367.5 670.4,1363.4 674.0,1359.3 677.7,1355.2 681.3,1351.0 684.9,1346.7 688.5,1342.5 692.2,1338.2 695.8,1333.9 699.4,1329.5 703.1,1325.1 706.7,1320.7 710.3,1316.3 713.9,1311.9 717.6,1307.4 721.2,1302.9 724.8,1298.4 728.4,1293.9 732.1,1289.4 735.7,1284.9 739.3,1280.4 743.0,1275.8 746.6,1271.3 750.2,1266.8 753.8,1262.3 757.5,1257.8 761.1,1253.3 764.7,1248.9 768.4,1244.5 772.0,1240.2 775.6,1235.9 779.2,1231.6 782.9,1227.4 786.5,1223.3 790.1,1219.3 793.8,1215.4 797.4,1211.5 801.0,1207.7 804.6,1204.0 808.3,1200.4 811.9,1196.8 815.5,1193.3 819.1,1189.9 822.8,1186.6 826.4,1183.3 830.0,1180.1 833.7,1177.0 837.3,1173.9 840.9,1170.9 844.5,1167.9 848.2,1165.1 851.8,1162.2 855.4,1159.5 859.1,1156.8 862.7,1154.2 866.3,1151.7 869.9,1149.3 873.6,1146.9 877.2,1144.7 880.8,1142.5 884.5,1140.5 888.1,1138.5 891.7,1136.6 895.3,1134.9 899.0,1133.3 902.6,1131.7 906.2,1130.3 909.8,1128.9 913.5,1127.7 917.1,1126.6 920.7,1125.6 924.4,1124.6 928.0,1123.8 931.6,1123.0 935.2,1122.4 938.9,1121.8 942.5,1121.3 946.1,1120.9 949.8,1120.6 953.4,1120.3 957.0,1120.2 960.6,1120.1 964.3,1120.1 967.9,1120.2 971.5,1120.4 975.2,1120.7 978.8,1121.1 982.4,1121.6 986.0,1122.2 989.7,1122.8 993.3,1123.6 996.9,1124.5 1000.5,1125.5 1004.2,1126.5 1007.8,1127.7 1011.4,1128.9 1015.1,1130.2 1018.7,1131.6 1022.3,1133.1 1025.9,1134.6 1029.6,1136.1 1033.2,1137.7 1036.8,1139.4 1040.5,1141.1 1044.1,1142.8 1047.7,1144.5 1051.3,1146.2 1055.0,1148.0 1058.6,1149.7 1062.2,1151.5 1065.9,1153.3 1069.5,1155.1 1073.1,1156.9 1076.7,1158.8 1080.4,1160.6 1084.0,1162.6 1087.6,1164.5 1091.2,1166.5 1094.9,1168.5 1098.5,1170.5 1102.1,1172.6 1105.8,1174.8 1109.4,1177.0 1113.0,1179.2 1116.6,1181.5 1120.3,1183.8 1123.9,1186.1 1127.5,1188.5 1131.2,1190.8 1134.8,1193.2 1138.4,1195.7 1142.0,1198.1 1145.7,1200.5 1149.3,1202.9 1152.9,1205.4 1156.6,1207.8 1160.2,1210.2 1163.8,1212.6 1167.4,1215.0 1171.1,1217.4 1174.7,1219.8 1178.3,1222.2 1181.9,1224.5 1185.6,1226.9 1189.2,1229.2 1192.8,1231.5 1196.5,1233.9 1200.1,1236.2 1203.7,1238.5 1207.3,1240.8 1211.0,1243.1 1214.6,1245.4 1218.2,1247.8 1221.9,1250.1 1225.5,1252.4 1229.1,1254.7 1232.7,1257.1 1236.4,1259.4 1240.0,1261.7 1243.6,1264.1 1247.3,1266.4 1250.9,1268.8 1254.5,1271.1 1258.1,1273.5 1261.8,1275.8 1265.4,1278.2 1269.0,1280.5 1272.6,1282.8 1276.3,1285.2 1279.9,1287.5 1283.5,1289.7 1287.2,1292.0 1290.8,1294.3 1294.4,1296.5 1298.0,1298.7 1301.7,1300.9 1305.3,1303.1 1308.9,1305.3 1312.6,1307.4 1316.2,1309.5 1319.8,1311.6 1323.4,1313.7 1327.1,1315.7 1330.7,1317.8 1334.3,1319.8 1338.0,1321.7 1341.6,1323.7 1345.2,1325.7 1348.8,1327.6 1352.5,1329.5 1356.1,1331.5 1359.7,1333.4 1363.3,1335.3 1367.0,1337.1 1370.6,1339.0 1374.2,1340.9 1377.9,1342.7 1381.5,1344.6 1385.1,1346.4 1388.7,1348.3 1392.4,1350.1 1396.0,1351.9 1399.6,1353.8 1403.3,1355.6 1406.9,1357.4 1410.5,1359.2 1414.1,1361.1 1417.8,1362.9 1421.4,1364.7 1425.0,1366.5 1428.7,1368.3 1432.3,1370.1 1435.9,1371.9 1439.5,1373.7 1443.2,1375.5 1446.8,1377.3 1450.4,1379.1 1454.0,1380.8 1457.7,1382.6 1461.3,1384.3 1464.9,1386.1 1468.6,1387.8 1472.2,1389.5 1475.8,1391.2 1479.4,1392.8 1483.1,1394.5 1486.7,1396.1 1490.3,1397.7 1494.0,1399.3 1497.6,1400.9 1501.2,1402.4 1504.8,1404.0 1508.5,1405.5 1512.1,1406.9 1515.7,1408.4 1519.4,1409.9 1523.0,1411.3 1526.6,1412.7 1530.2,1414.0 1533.9,1415.4 1537.5,1416.7 1541.1,1418.0 1544.7,1419.3 1548.4,1420.5 1552.0,1421.8 1555.6,1423.0 1559.3,1424.2 1562.9,1425.4 1566.5,1426.5 1570.1,1427.7 1573.8,1428.8 1577.4,1429.9 1581.0,1431.0 1584.7,1432.1 1588.3,1433.1 1591.9,1434.2 1595.5,1435.2 1599.2,1436.2 1602.8,1437.2 1606.4,1438.2 1610.1,1439.2 1613.7,1440.2 1617.3,1441.1 1620.9,1442.1 1624.6,1443.0 1628.2,1443.9 1631.8,1444.8 1635.4,1445.7 1639.1,1446.6 1642.7,1447.5 1646.3,1448.4 1650.0,1449.2 1653.6,1450.1 1657.2,1450.9 1660.8,1451.8 1664.5,1452.6 1668.1,1453.4 1671.7,1454.2 1675.4,1455.0 1679.0,1455.8 1682.6,1456.6 1686.2,1457.4 1689.9,1458.2 1693.5,1459.0 1697.1,1459.7 1700.8,1460.5 1704.4,1461.2 1708.0,1462.0 1711.6,1462.7 1715.3,1463.4 1718.9,1464.1 1722.5,1464.9 1726.1,1465.6 1729.8,1466.3 1733.4,1467.0 1737.0,1467.6 1740.7,1468.3 1744.3,1469.0 1747.9,1469.6 1751.5,1470.3 1755.2,1471.0 1758.8,1471.6 1762.4,1472.2 1766.1,1472.9 1769.7,1473.5 1773.3,1474.1 1776.9,1474.7 1780.6,1475.3 1784.2,1475.9 1787.8,1476.5 1791.5,1477.1 1795.1,1477.6 1798.7,1478.2 1802.3,1478.8 1806.0,1479.3 1809.6,1479.9 1813.2,1480.4 1816.8,1481.0 1820.5,1481.5 1824.1,1482.0 1827.7,1482.5 1831.4,1483.0 1835.0,1483.5 1838.6,1484.0 1842.2,1484.5 1845.9,1485.0 1849.5,1485.5 1853.1,1486.0 1856.8,1486.4 1860.4,1486.9 1864.0,1487.3 1867.6,1487.8 1871.3,1488.2 1874.9,1488.7 1878.5,1489.1 1882.2,1489.5 1885.8,1489.9 1889.4,1490.4 1893.0,1490.8 1896.7,1491.2 1900.3,1491.6 1903.9,1492.0 1907.5,1492.3 1911.2,1492.7 1914.8,1493.1 1918.4,1493.5 1922.1,1493.8 1925.7,1494.2 1929.3,1494.5 1932.9,1494.9 1936.6,1495.2 1940.2,1495.6 1943.8,1495.9 1947.5,1496.2 1951.1,1496.5 1954.7,1496.9 1958.3,1497.2 1962.0,1497.5 1965.6,1497.8 1969.2,1498.1 1972.9,1498.4 1976.5,1498.7 1980.1,1499.0 1983.7,1499.2 1987.4,1499.5 1991.0,1499.8 1994.6,1500.0 1998.2,1500.3 2001.9,1500.6 2005.5,1500.8 2009.1,1501.1 2012.8,1501.3 2016.4,1501.6 2020.0,1501.8 2023.6,1502.0 2027.3,1502.3 2030.9,1502.5 2034.5,1502.7 2038.2,1502.9 2041.8,1503.1 2045.4,1503.4 2049.0,1503.6 2052.7,1503.8 2056.3,1504.0 2059.9,1504.2 2063.6,1504.4 2067.2,1504.6 2070.8,1504.8 2074.4,1505.0 2078.1,1505.1 2081.7,1505.3 2085.3,1505.5 2088.9,1505.7 2092.6,1505.9 2096.2,1506.0 2099.8,1506.2 2103.5,1506.4 2107.1,1506.5 2110.7,1506.7 2114.3,1506.9 2118.0,1507.0 2121.6,1507.2 2125.2,1507.3 2128.9,1507.5 2132.5,1507.6 2136.1,1507.8 2139.7,1507.9 2143.4,1508.1 2147.0,1508.2 2150.6,1508.3 2154.3,1508.5 2157.9,1508.6 2161.5,1508.7 2165.1,1508.9 2168.8,1509.0 2172.4,1509.1 2176.0,1509.2 2179.6,1509.4 2183.3,1509.5 2186.9,1509.6 2190.5,1509.7 2194.2,1509.8 2197.8,1510.0 2201.4,1510.1 2205.0,1510.2 2208.7,1510.3 2212.3,1510.4 2215.9,1510.5 2219.6,1510.6 2223.2,1510.7 2226.8,1510.8 2230.4,1510.9 2234.1,1511.0 2237.7,1511.0 2241.3,1511.1 2245.0,1511.2 2248.6,1511.3 2252.2,1511.3 2255.8,1511.4 2259.5,1511.5 2263.1,1511.5 2266.7,1511.6 2270.3,1511.6 2274.0,1511.7 2277.6,1511.7 2281.2,1511.8 2284.9,1511.8 2288.5,1511.9 2292.1,1511.9 2295.7,1511.9 2299.4,1512.0 2303.0,1512.0 2305,1512.0"/>
<polyline stroke="#0000A0" points="308,1514.2 311.2,1514.2 314.9,1514.1 318.5,1514.1 322.1,1514.0 325.7,1514.0 329.4,1513.9 333.0,1513.9 336.6,1513.9 340.3,1513.8 343.9,1513.8 347.5,1513.7 351.1,1513.7 354.8,1513.6 358.4,1513.6 362.0,1513.5 365.6,1513.5 369.3,1513.4 372.9,1513.3 376.5,1513.2 380.2,1513.1 383.8,1513.0 387.4,1512.9 391.0,1512.7 394.7,1512.6 398.3,1512.4 401.9,1512.2 405.6,1511.9 409.2,1511.7 412.8,1511.4 416.4,1511.1 420.1,1510.7 423.7,1510.3 427.3,1509.9 431.0,1509.5 434.6,1509.0 438.2,1508.5 441.8,1507.9 445.5,1507.3 449.1,1506.7 452.7,1506.0 456.3,1505.4 460.0,1504.7 463.6,1504.0 467.2,1503.3 470.9,1502.6 474.5,1501.9 478.1,1501.1 481.7,1500.4 485.4,1499.6 489.0,1498.8 492.6,1498.0 496.3,1497.2 499.9,1496.4 503.5,1495.5 507.1,1494.6 510.8,1493.6 514.4,1492.6 518.0,1491.5 521.7,1490.3 525.3,1489.1 528.9,1487.8 532.5,1486.5 536.2,1485.0 539.8,1483.5 543.4,1481.9 547.0,1480.2 550.7,1478.5 554.3,1476.7 557.9,1474.8 561.6,1472.8 565.2,1470.8 568.8,1468.7 572.4,1466.6 576.1,1464.4 579.7,1462.1 583.3,1459.8 587.0,1457.5 590.6,1455.1 594.2,1452.6 597.8,1450.1 601.5,1447.6 605.1,1444.9 608.7,1442.3 612.4,1439.6 616.0,1436.8 619.6,1434.0 623.2,1431.1 626.9,1428.1 630.5,1425.2 634.1,1422.1 637.7,1419.1 641.4,1415.9 645.0,1412.7 648.6,1409.5 652.3,1406.3 655.9,1403.0 659.5,1399.6 663.1,1396.2 666.8,1392.8 670.4,1389.3 674.0,1385.8 677.7,1382.3 681.3,1378.7 684.9,1375.2 688.5,1371.5 692.2,1367.9 695.8,1364.2 699.4,1360.5 703.1,1356.8 706.7,1353.0 710.3,1349.3 713.9,1345.5 717.6,1341.7 721.2,1337.9 724.8,1334.0 728.4,1330.2 732.1,1326.3 735.7,1322.5 739.3,1318.6 743.0,1314.7 746.6,1310.8 750.2,1306.9 753.8,1303.1 757.5,1299.2 761.1,1295.4 764.7,1291.6 768.4,1287.8 772.0,1284.0 775.6,1280.3 779.2,1276.7 782.9,1273.1 786.5,1269.5 790.1,1266.0 793.8,1262.6 797.4,1259.3 801.0,1256.0 804.6,1252.8 808.3,1249.6 811.9,1246.5 815.5,1243.5 819.1,1240.6 822.8,1237.7 826.4,1234.8 830.0,1232.1 833.7,1229.4 837.3,1226.7 840.9,1224.1 844.5,1221.5 848.2,1219.0 851.8,1216.6 855.4,1214.2 859.1,1211.9 862.7,1209.6 866.3,1207.5 869.9,1205.3 873.6,1203.3 877.2,1201.4 880.8,1199.5 884.5,1197.7 888.1,1196.0 891.7,1194.4 895.3,1192.8 899.0,1191.4 902.6,1190.1 906.2,1188.8 909.8,1187.6 913.5,1186.6 917.1,1185.6 920.7,1184.7 924.4,1183.9 928.0,1183.1 931.6,1182.5 935.2,1181.9 938.9,1181.4 942.5,1181.0 946.1,1180.7 949.8,1180.4 953.4,1180.2 957.0,1180.0 960.6,1180.0 964.3,1180.0 967.9,1180.1 971.5,1180.3 975.2,1180.5 978.8,1180.9 982.4,1181.3 986.0,1181.8 989.7,1182.4 993.3,1183.1 996.9,1183.8 1000.5,1184.7 1004.2,1185.6 1007.8,1186.6 1011.4,1187.7 1015.1,1188.9 1018.7,1190.1 1022.3,1191.3 1025.9,1192.6 1029.6,1194.0 1033.2,1195.4 1036.8,1196.8 1040.5,1198.3 1044.1,1199.7 1047.7,1201.2 1051.3,1202.7 1055.0,1204.2 1058.6,1205.8 1062.2,1207.3 1065.9,1208.8 1069.5,1210.4 1073.1,1212.0 1076.7,1213.6 1080.4,1215.2 1084.0,1216.8 1087.6,1218.5 1091.2,1220.2 1094.9,1222.0 1098.5,1223.8 1102.1,1225.6 1105.8,1227.4 1109.4,1229.3 1113.0,1231.3 1116.6,1233.2 1120.3,1235.2 1123.9,1237.2 1127.5,1239.3 1131.2,1241.3 1134.8,1243.4 1138.4,1245.5 1142.0,1247.6 1145.7,1249.6 1149.3,1251.7 1152.9,1253.8 1156.6,1255.9 1160.2,1258.0 1163.8,1260.0 1167.4,1262.1 1171.1,1264.1 1174.7,1266.1 1178.3,1268.1 1181.9,1270.2 1185.6,1272.2 1189.2,1274.2 1192.8,1276.1 1196.5,1278.1 1200.1,1280.1 1203.7,1282.1 1207.3,1284.1 1211.0,1286.1 1214.6,1288.0 1218.2,1290.0 1221.9,1292.0 1225.5,1294.0 1229.1,1296.0 1232.7,1298.0 1236.4,1300.0 1240.0,1302.0 1243.6,1304.0 1247.3,1306.0 1250.9,1308.0 1254.5,1310.0 1258.1,1312.0 1261.8,1314.0 1265.4,1316.0 1269.0,1318.0 1272.6,1320.0 1276.3,1321.9 1279.9,1323.9 1283.5,1325.8 1287.2,1327.8 1290.8,1329.7 1294.4,1331.6 1298.0,1333.5 1301.7,1335.3 1305.3,1337.2 1308.9,1339.0 1312.6,1340.8 1316.2,1342.6 1319.8,1344.3 1323.4,1346.1 1327.1,1347.8 1330.7,1349.5 1334.3,1351.2 1338.0,1352.9 1341.6,1354.6 1345.2,1356.2 1348.8,1357.9 1352.5,1359.5 1356.1,1361.1 1359.7,1362.8 1363.3,1364.4 1367.0,1366.0 1370.6,1367.5 1374.2,1369.1 1377.9,1370.7 1381.5,1372.3 1385.1,1373.9 1388.7,1375.4 1392.4,1377.0 1396.0,1378.5 1399.6,1380.1 1403.3,1381.6 1406.9,1383.2 1410.5,1384.7 1414.1,1386.3 1417.8,1387.8 1421.4,1389.4 1425.0,1390.9 1428.7,1392.5 1432.3,1394.0 1435.9,1395.5 1439.5,1397.0 1443.2,1398.6 1446.8,1400.1 1450.4,1401.6 1454.0,1403.1 1457.7,1404.6 1461.3,1406.0 1464.9,1407.5 1468.6,1408.9 1472.2,1410.4 1475.8,1411.8 1479.4,1413.2 1483.1,1414.6 1486.7,1415.9 1490.3,1417.3 1494.0,1418.6 1497.6,1420.0 1501.2,1421.3 1504.8,1422.5 1508.5,1423.8 1512.1,1425.1 1515.7,1426.3 1519.4,1427.5 1523.0,1428.7 1526.6,1429.8 1530.2,1431.0 1533.9,1432.1 1537.5,1433.2 1541.1,1434.3 1544.7,1435.4 1548.4,1436.4 1552.0,1437.5 1555.6,1438.5 1559.3,1439.5 1562.9,1440.5 1566.5,1441.4 1570.1,1442.4 1573.8,1443.3 1577.4,1444.3 1581.0,1445.2 1584.7,1446.1 1588.3,1447.0 1591.9,1447.8 1595.5,1448.7 1599.2,1449.6 1602.8,1450.4 1606.4,1451.2 1610.1,1452.0 1613.7,1452.9 1617.3,1453.7 1620.9,1454.4 1624.6,1455.2 1628.2,1456.0 1631.8,1456.8 1635.4,1457.5 1639.1,1458.3 1642.7,1459.0 1646.3,1459.7 1650.0,1460.5 1653.6,1461.2 1657.2,1461.9 1660.8,1462.6 1664.5,1463.3 1668.1,1464.0 1671.7,1464.7 1675.4,1465.3 1679.0,1466.0 1682.6,1466.7 1686.2,1467.3 1689.9,1468.0 1693.5,1468.6 1697.1,1469.3 1700.8,1469.9 1704.4,1470.5 1708.0,1471.1 1711.6,1471.8 1715.3,1472.4 1718.9,1473.0 1722.5,1473.6 1726.1,1474.2 1729.8,1474.7 1733.4,1475.3 1737.0,1475.9 1740.7,1476.5 1744.3,1477.0 1747.9,1477.6 1751.5,1478.1 1755.2,1478.7 1758.8,1479.2 1762.4,1479.7 1766.1,1480.2 1769.7,1480.8 1773.3,1481.3 1776.9,1481.8 1780.6,1482.3 1784.2,1482.8 1787.8,1483.3 1791.5,1483.8 1795.1,1484.2 1798.7,1484.7 1802.3,1485.2 1806.0,1485.6 1809.6,1486.1 1813.2,1486.5 1816.8,1487.0 1820.5,1487.4 1824.1,1487.9 1827.7,1488.3 1831.4,1488.7 1835.0,1489.1 1838.6,1489.5 1842.2,1489.9 1845.9,1490.3 1849.5,1490.7 1853.1,1491.1 1856.8,1491.5 1860.4,1491.9 1864.0,1492.3 1867.6,1492.6 1871.3,1493.0 1874.9,1493.4 1878.5,1493.7 1882.2,1494.1 1885.8,1494.4 1889.4,1494.8 1893.0,1495.1 1896.7,1495.4 1900.3,1495.8 1903.9,1496.1 1907.5,1496.4 1911.2,1496.7 1914.8,1497.0 1918.4,1497.3 1922.1,1497.6 1925.7,1497.9 1929.3,1498.2 1932.9,1498.5 1936.6,1498.8 1940.2,1499.0 1943.8,1499.3 1947.5,1499.6 1951.1,1499.9 1954.7,1500.1 1958.3,1500.4 1962.0,1500.6 1965.6,1500.9 1969.2,1501.1 1972.9,1501.4 1976.5,1501.6 1980.1,1501.8 1983.7,1502.1 1987.4,1502.3 1991.0,1502.5 1994.6,1502.7 1998.2,1502.9 2001.9,1503.1 2005.5,1503.4 2009.1,1503.6 2012.8,1503.8 2016.4,1504.0 2020.0,1504.1 2023.6,1504.3 2027.3,1504.5 2030.9,1504.7 2034.5,1504.9 2038.2,1505.1 2041.8,1505.3 2045.4,1505.4 2049.0,1505.6 2052.7,1505.8 2056.3,1505.9 2059.9,1506.1 2063.6,1506.3 2067.2,1506.4 2070.8,1506.6 2074.4,1506.7 2078.1,1506.9 2081.7,1507.0 2085.3,1507.2 2088.9,1507.3 2092.6,1507.5 2096.2,1507.6 2099.8,1507.7 2103.5,1507.9 2107.1,1508.0 2110.7,1508.1 2114.3,1508.3 2118.0,1508.4 2121.6,1508.5 2125.2,1508.7 2128.9,1508.8 2132.5,1508.9 2136.1,1509.0 2139.7,1509.1 2143.4,1509.3 2147.0,1509.4 2150.6,1509.5 2154.3,1509.6 2157.9,1509.7 2161.5,1509.8 2165.1,1509.9 2168.8,1510.0 2172.4,1510.1 2176.0,1510.2 2179.6,1510.3 2183.3,1510.4 2186.9,1510.5 2190.5,1510.6 2194.2,1510.7 2197.8,1510.8 2201.4,1510.9 2205.0,1511.0 2208.7,1511.1 2212.3,1511.1 2215.9,1511.2 2219.6,1511.3 2223.2,1511.4 2226.8,1511.4 2230.4,1511.5 2234.1,1511.6 2237.7,1511.7 2241.3,1511.7 2245.0,1511.8 2248.6,1511.8 2252.2,1511.9 2255.8,1511.9 2259.5,1512.0 2263.1,1512.0 2266.7,1512.1 2270.3,1512.1 2274.0,1512.2 2277.6,1512.2 2281.2,1512.2 2284.9,1512.3 2288.5,1512.3 2292.1,1512.3 2295.7,1512.4 2299.4,1512.4 2303.0,1512.4 2305,1512.4"/>
<polyline stroke="#FF8000" points="308,1514.1 311.2,1514.1 314.9,1514.1 318.5,1514.1 322.1,1514.0 325.7,1514.0 329.4,1514.0 333.0,1513.9 336.6,1513.9 340.3,1513.9 343.9,1513.8 347.5,1513.8 351.1,1513.8 354.8,1513.7 358.4,1513.7 362.0,1513.6 365.6,1513.6 369.3,1513.5 372.9,1513.4 376.5,1513.4 380.2,1513.3 383.8,1513.2 387.4,1513.1 391.0,1513.0 394.7,1512.8 398.3,1512.7 401.9,1512.5 405.6,1512.3 409.2,1512.1 412.8,1511.9 416.4,1511.6 420.1,1511.3 423.7,1511.0 427.3,1510.6 431.0,1510.3 434.6,1509.9 438.2,1509.4 441.8,1509.0 445.5,1508.5 449.1,1508.0 452.7,1507.4 456.3,1506.9 460.0,1506.3 463.6,1505.7 467.2,1505.1 470.9,1504.5 474.5,1503.9 478.1,1503.3 481.7,1502.7 485.4,1502.1 489.0,1501.4 492.6,1500.7 496.3,1500.0 499.9,1499.3 503.5,1498.6 507.1,1497.8 510.8,1497.0 514.4,1496.1 518.0,1495.2 521.7,1494.3 525.3,1493.2 528.9,1492.1 532.5,1491.0 536.2,1489.8 539.8,1488.5 543.4,1487.1 547.0,1485.7 550.7,1484.2 554.3,1482.7 557.9,1481.1 561.6,1479.4 565.2,1477.7 568.8,1475.9 572.4,1474.1 576.1,1472.2 579.7,1470.3 583.3,1468.4 587.0,1466.4 590.6,1464.3 594.2,1462.2 597.8,1460.1 601.5,1457.9 605.1,1455.6 608.7,1453.4 612.4,1451.0 616.0,1448.7 619.6,1446.3 623.2,1443.8 626.9,1441.3 630.5,1438.7 634.1,1436.1 637.7,1433.5 641.4,1430.8 645.0,1428.1 648.6,1425.4 652.3,1422.6 655.9,1419.7 659.5,1416.9 663.1,1414.0 666.8,1411.1 670.4,1408.1 674.0,1405.1 677.7,1402.1 681.3,1399.0 684.9,1396.0 688.5,1392.9 692.2,1389.7 695.8,1386.6 699.4,1383.4 703.1,1380.3 706.7,1377.1 710.3,1373.8 713.9,1370.6 717.6,1367.3 721.2,1364.1 724.8,1360.8 728.4,1357.5 732.1,1354.2 735.7,1350.9 739.3,1347.6 743.0,1344.3 746.6,1341.0 750.2,1337.7 753.8,1334.4 757.5,1331.1 761.1,1327.8 764.7,1324.5 768.4,1321.3 772.0,1318.1 775.6,1314.9 779.2,1311.8 782.9,1308.7 786.5,1305.6 790.1,1302.7 793.8,1299.7 797.4,1296.9 801.0,1294.0 804.6,1291.3 808.3,1288.6 811.9,1285.9 815.5,1283.3 819.1,1280.8 822.8,1278.3 826.4,1275.9 830.0,1273.5 833.7,1271.2 837.3,1268.9 840.9,1266.7 844.5,1264.5 848.2,1262.3 851.8,1260.2 855.4,1258.2 859.1,1256.2 862.7,1254.2 866.3,1252.4 869.9,1250.5 873.6,1248.8 877.2,1247.1 880.8,1245.4 884.5,1243.9 888.1,1242.4 891.7,1241.0 895.3,1239.6 899.0,1238.4 902.6,1237.2 906.2,1236.1 909.8,1235.1 913.5,1234.1 917.1,1233.2 920.7,1232.4 924.4,1231.7 928.0,1231.0 931.6,1230.4 935.2,1229.9 938.9,1229.4 942.5,1229.0 946.1,1228.7 949.8,1228.4 953.4,1228.2 957.0,1228.0 960.6,1228.0 964.3,1227.9 967.9,1228.0 971.5,1228.1 975.2,1228.2 978.8,1228.5 982.4,1228.8 986.0,1229.1 989.7,1229.6 993.3,1230.1 996.9,1230.7 1000.5,1231.4 1004.2,1232.1 1007.8,1232.9 1011.4,1233.8 1015.1,1234.7 1018.7,1235.7 1022.3,1236.7 1025.9,1237.8 1029.6,1238.9 1033.2,1240.1 1036.8,1241.2 1040.5,1242.5 1044.1,1243.7 1047.7,1244.9 1051.3,1246.2 1055.0,1247.5 1058.6,1248.8 1062.2,1250.1 1065.9,1251.4 1069.5,1252.7 1073.1,1254.0 1076.7,1255.3 1080.4,1256.7 1084.0,1258.1 1087.6,1259.5 1091.2,1260.9 1094.9,1262.4 1098.5,1263.8 1102.1,1265.4 1105.8,1266.9 1109.4,1268.5 1113.0,1270.1 1116.6,1271.8 1120.3,1273.4 1123.9,1275.1 1127.5,1276.8 1131.2,1278.6 1134.8,1280.3 1138.4,1282.1 1142.0,1283.8 1145.7,1285.6 1149.3,1287.4 1152.9,1289.2 1156.6,1291.0 1160.2,1292.7 1163.8,1294.5 1167.4,1296.3 1171.1,1298.0 1174.7,1299.8 1178.3,1301.5 1181.9,1303.2 1185.6,1304.9 1189.2,1306.6 1192.8,1308.4 1196.5,1310.1 1200.1,1311.8 1203.7,1313.5 1207.3,1315.1 1211.0,1316.8 1214.6,1318.5 1218.2,1320.2 1221.9,1321.9 1225.5,1323.6 1229.1,1325.3 1232.7,1327.0 1236.4,1328.7 1240.0,1330.4 1243.6,1332.1 1247.3,1333.9 1250.9,1335.6 1254.5,1337.3 1258.1,1339.0 1261.8,1340.7 1265.4,1342.5 1269.0,1344.2 1272.6,1345.9 1276.3,1347.6 1279.9,1349.3 1283.5,1350.9 1287.2,1352.6 1290.8,1354.3 1294.4,1355.9 1298.0,1357.5 1301.7,1359.2 1305.3,1360.8 1308.9,1362.4 1312.6,1363.9 1316.2,1365.5 1319.8,1367.0 1323.4,1368.5 1327.1,1370.0 1330.7,1371.5 1334.3,1373.0 1338.0,1374.5 1341.6,1375.9 1345.2,1377.3 1348.8,1378.8 1352.5,1380.2 1356.1,1381.6 1359.7,1383.0 1363.3,1384.4 1367.0,1385.7 1370.6,1387.1 1374.2,1388.5 1377.9,1389.9 1381.5,1391.2 1385.1,1392.6 1388.7,1393.9 1392.4,1395.3 1396.0,1396.6 1399.6,1397.9 1403.3,1399.3 1406.9,1400.6 1410.5,1401.9 1414.1,1403.3 1417.8,1404.6 1421.4,1405.9 1425.0,1407.2 1428.7,1408.6 1432.3,1409.9 1435.9,1411.2 1439.5,1412.5 1443.2,1413.8 1446.8,1415.1 1450.4,1416.4 1454.0,1417.7 1457.7,1419.0 1461.3,1420.3 1464.9,1421.6 1468.6,1422.8 1472.2,1424.1 1475.8,1425.3 1479.4,1426.5 1483.1,1427.7 1486.7,1428.9 1490.3,1430.1 1494.0,1431.3 1497.6,1432.4 1501.2,1433.6 1504.8,1434.7 1508.5,1435.8 1512.1,1436.9 1515.7,1438.0 1519.4,1439.0 1523.0,1440.1 1526.6,1441.1 1530.2,1442.1 1533.9,1443.1 1537.5,1444.1 1541.1,1445.0 1544.7,1446.0 1548.4,1446.9 1552.0,1447.8 1555.6,1448.7 1559.3,1449.6 1562.9,1450.4 1566.5,1451.3 1570.1,1452.1 1573.8,1453.0 1577.4,1453.8 1581.0,1454.6 1584.7,1455.4 1588.3,1456.1 1591.9,1456.9 1595.5,1457.7 1599.2,1458.4 1602.8,1459.1 1606.4,1459.9 1610.1,1460.6 1613.7,1461.3 1617.3,1462.0 1620.9,1462.7 1624.6,1463.4 1628.2,1464.0 1631.8,1464.7 1635.4,1465.3 1639.1,1466.0 1642.7,1466.6 1646.3,1467.3 1650.0,1467.9 1653.6,1468.5 1657.2,1469.1 1660.8,1469.7 1664.5,1470.4 1668.1,1470.9 1671.7,1471.5 1675.4,1472.1 1679.0,1472.7 1682.6,1473.3 1686.2,1473.9 1689.9,1474.4 1693.5,1475.0 1697.1,1475.5 1700.8,1476.1 1704.4,1476.6 1708.0,1477.2 1711.6,1477.7 1715.3,1478.2 1718.9,1478.7 1722.5,1479.2 1726.1,1479.8 1729.8,1480.3 1733.4,1480.8 1737.0,1481.3 1740.7,1481.7 1744.3,1482.2 1747.9,1482.7 1751.5,1483.2 1755.2,1483.7 1758.8,1484.1 1762.4,1484.6 1766.1,1485.0 1769.7,1485.5 1773.3,1485.9 1776.9,1486.4 1780.6,1486.8 1784.2,1487.2 1787.8,1487.6 1791.5,1488.1 1795.1,1488.5 1798.7,1488.9 1802.3,1489.3 1806.0,1489.7 1809.6,1490.1 1813.2,1490.5 1816.8,1490.8 1820.5,1491.2 1824.1,1491.6 1827.7,1492.0 1831.4,1492.3 1835.0,1492.7 1838.6,1493.1 1842.2,1493.4 1845.9,1493.7 1849.5,1494.1 1853.1,1494.4 1856.8,1494.8 1860.4,1495.1 1864.0,1495.4 1867.6,1495.7 1871.3,1496.0 1874.9,1496.4 1878.5,1496.7 1882.2,1497.0 1885.8,1497.3 1889.4,1497.6 1893.0,1497.8 1896.7,1498.1 1900.3,1498.4 1903.9,1498.7 1907.5,1499.0 1911.2,1499.2 1914.8,1499.5 1918.4,1499.8 1922.1,1500.0 1925.7,1500.3 1929.3,1500.5 1932.9,1500.8 1936.6,1501.0 1940.2,1501.2 1943.8,1501.5 1947.5,1501.7 1951.1,1501.9 1954.7,1502.2 1958.3,1502.4 1962.0,1502.6 1965.6,1502.8 1969.2,1503.0 1972.9,1503.2 1976.5,1503.4 1980.1,1503.6 1983.7,1503.8 1987.4,1504.0 1991.0,1504.2 1994.6,1504.4 1998.2,1504.6 2001.9,1504.8 2005.5,1504.9 2009.1,1505.1 2012.8,1505.3 2016.4,1505.4 2020.0,1505.6 2023.6,1505.8 2027.3,1505.9 2030.9,1506.1 2034.5,1506.3 2038.2,1506.4 2041.8,1506.6 2045.4,1506.7 2049.0,1506.9 2052.7,1507.0 2056.3,1507.1 2059.9,1507.3 2063.6,1507.4 2067.2,1507.6 2070.8,1507.7 2074.4,1507.8 2078.1,1507.9 2081.7,1508.1 2085.3,1508.2 2088.9,1508.3 2092.6,1508.4 2096.2,1508.6 2099.8,1508.7 2103.5,1508.8 2107.1,1508.9 2110.7,1509.0 2114.3,1509.1 2118.0,1509.2 2121.6,1509.3 2125.2,1509.5 2128.9,1509.6 2132.5,1509.7 2136.1,1509.8 2139.7,1509.9 2143.4,1510.0 2147.0,1510.1 2150.6,1510.1 2154.3,1510.2 2157.9,1510.3 2161.5,1510.4 2165.1,1510.5 2168.8,1510.6 2172.4,1510.7 2176.0,1510.8 2179.6,1510.9 2183.3,1510.9 2186.9,1511.0 2190.5,1511.1 2194.2,1511.2 2197.8,1511.3 2201.4,1511.3 2205.0,1511.4 2208.7,1511.5 2212.3,1511.6 2215.9,1511.6 2219.6,1511.7 2223.2,1511.8 2226.8,1511.8 2230.4,1511.9 2234.1,1511.9 2237.7,1512.0 2241.3,1512.1 2245.0,1512.1 2248.6,1512.2 2252.2,1512.2 2255.8,1512.3 2259.5,1512.3 2263.1,1512.4 2266.7,1512.4 2270.3,1512.4 2274.0,1512.5 2277.6,1512.5 2281.2,1512.5 2284.9,1512.6 2288.5,1512.6 2292.1,1512.6 2295.7,1512.6 2299.4,1512.7 2303.0,1512.7 2305,1512.7"/>
<polyline stroke="#8000FF" points="308,1514.1 311.2,1514.1 314.9,1514.1 318.5,1514.1 322.1,1514.1 325.7,1514.0 329.4,1514.0 333.0,1514.0 336.6,1514.0 340.3,1513.9 343.9,1513.9 347.5,1513.9 351.1,1513.8 354.8,1513.8 358.4,1513.8 362.0,1513.7 365.6,1513.7 369.3,1513.7 372.9,1513.6 376.5,1513.6 380.2,1513.5 383.8,1513.4 387.4,1513.4 391.0,1513.3 394.7,1513.2 398.3,1513.1 401.9,1512.9 405.6,1512.8 409.2,1512.6 412.8,1512.4 416.4,1512.3 420.1,1512.0 423.7,1511.8 427.3,1511.5 431.0,1511.3 434.6,1511.0 438.2,1510.6 441.8,1510.3 445.5,1509.9 449.1,1509.5 452.7,1509.1 456.3,1508.6 460.0,1508.2 463.6,1507.7 467.2,1507.3 470.9,1506.8 474.5,1506.3 478.1,1505.8 481.7,1505.3 485.4,1504.8 489.0,1504.3 492.6,1503.8 496.3,1503.2 499.9,1502.6 503.5,1502.1 507.1,1501.4 510.8,1500.8 514.4,1500.1 518.0,1499.4 521.7,1498.7 525.3,1497.8 528.9,1497.0 532.5,1496.1 536.2,1495.1 539.8,1494.1 543.4,1493.0 547.0,1491.9 550.7,1490.7 554.3,1489.4 557.9,1488.1 561.6,1486.8 565.2,1485.4 568.8,1484.0 572.4,1482.5 576.1,1481.0 579.7,1479.4 583.3,1477.8 587.0,1476.1 590.6,1474.5 594.2,1472.7 597.8,1471.0 601.5,1469.2 605.1,1467.4 608.7,1465.5 612.4,1463.6 616.0,1461.6 619.6,1459.6 623.2,1457.6 626.9,1455.6 630.5,1453.4 634.1,1451.3 637.7,1449.1 641.4,1446.9 645.0,1444.7 648.6,1442.4 652.3,1440.1 655.9,1437.8 659.5,1435.4 663.1,1433.0 666.8,1430.6 670.4,1428.1 674.0,1425.6 677.7,1423.1 681.3,1420.6 684.9,1418.1 688.5,1415.5 692.2,1412.9 695.8,1410.3 699.4,1407.7 703.1,1405.0 706.7,1402.4 710.3,1399.7 713.9,1397.0 717.6,1394.3 721.2,1391.6 724.8,1388.9 728.4,1386.1 732.1,1383.4 735.7,1380.6 739.3,1377.9 743.0,1375.1 746.6,1372.4 750.2,1369.6 753.8,1366.8 757.5,1364.1 761.1,1361.4 764.7,1358.6 768.4,1355.9 772.0,1353.2 775.6,1350.6 779.2,1347.9 782.9,1345.4 786.5,1342.8 790.1,1340.3 793.8,1337.8 797.4,1335.4 801.0,1333.0 804.6,1330.7 808.3,1328.4 811.9,1326.2 815.5,1324.0 819.1,1321.8 822.8,1319.7 826.4,1317.7 830.0,1315.7 833.7,1313.7 837.3,1311.8 840.9,1309.9 844.5,1308.0 848.2,1306.2 851.8,1304.5 855.4,1302.7 859.1,1301.0 862.7,1299.4 866.3,1297.8 869.9,1296.2 873.6,1294.7 877.2,1293.3 880.8,1291.9 884.5,1290.5 888.1,1289.2 891.7,1288.0 895.3,1286.8 899.0,1285.7 902.6,1284.7 906.2,1283.7 909.8,1282.8 913.5,1282.0 917.1,1281.2 920.7,1280.5 924.4,1279.8 928.0,1279.2 931.6,1278.6 935.2,1278.2 938.9,1277.7 942.5,1277.3 946.1,1277.0 949.8,1276.7 953.4,1276.5 957.0,1276.3 960.6,1276.2 964.3,1276.1 967.9,1276.1 971.5,1276.1 975.2,1276.2 978.8,1276.4 982.4,1276.6 986.0,1276.8 989.7,1277.1 993.3,1277.5 996.9,1277.9 1000.5,1278.4 1004.2,1279.0 1007.8,1279.6 1011.4,1280.3 1015.1,1281.0 1018.7,1281.7 1022.3,1282.6 1025.9,1283.4 1029.6,1284.3 1033.2,1285.2 1036.8,1286.2 1040.5,1287.2 1044.1,1288.2 1047.7,1289.2 1051.3,1290.3 1055.0,1291.3 1058.6,1292.4 1062.2,1293.4 1065.9,1294.5 1069.5,1295.6 1073.1,1296.7 1076.7,1297.8 1080.4,1298.9 1084.0,1300.0 1087.6,1301.2 1091.2,1302.3 1094.9,1303.5 1098.5,1304.7 1102.1,1305.9 1105.8,1307.2 1109.4,1308.5 1113.0,1309.8 1116.6,1311.1 1120.3,1312.5 1123.9,1313.9 1127.5,1315.3 1131.2,1316.7 1134.8,1318.1 1138.4,1319.6 1142.0,1321.1 1145.7,1322.5 1149.3,1324.0 1152.9,1325.5 1156.6,1327.0 1160.2,1328.5 1163.8,1329.9 1167.4,1331.4 1171.1,1332.9 1174.7,1334.3 1178.3,1335.8 1181.9,1337.2 1185.6,1338.7 1189.2,1340.1 1192.8,1341.5 1196.5,1343.0 1200.1,1344.4 1203.7,1345.8 1207.3,1347.2 1211.0,1348.6 1214.6,1350.0 1218.2,1351.4 1221.9,1352.9 1225.5,1354.3 1229.1,1355.7 1232.7,1357.1 1236.4,1358.5 1240.0,1359.9 1243.6,1361.4 1247.3,1362.8 1250.9,1364.2 1254.5,1365.6 1258.1,1367.1 1261.8,1368.5 1265.4,1370.0 1269.0,1371.4 1272.6,1372.8 1276.3,1374.2 1279.9,1375.6 1283.5,1377.1 1287.2,1378.5 1290.8,1379.9 1294.4,1381.2 1298.0,1382.6 1301.7,1384.0 1305.3,1385.3 1308.9,1386.7 1312.6,1388.0 1316.2,1389.3 1319.8,1390.6 1323.4,1391.9 1327.1,1393.2 1330.7,1394.4 1334.3,1395.7 1338.0,1396.9 1341.6,1398.1 1345.2,1399.3 1348.8,1400.6 1352.5,1401.7 1356.1,1402.9 1359.7,1404.1 1363.3,1405.3 1367.0,1406.4 1370.6,1407.6 1374.2,1408.7 1377.9,1409.9 1381.5,1411.0 1385.1,1412.1 1388.7,1413.3 1392.4,1414.4 1396.0,1415.5 1399.6,1416.6 1403.3,1417.8 1406.9,1418.9 1410.5,1420.0 1414.1,1421.1 1417.8,1422.2 1421.4,1423.3 1425.0,1424.4 1428.7,1425.5 1432.3,1426.6 1435.9,1427.7 1439.5,1428.8 1443.2,1429.9 1446.8,1431.0 1450.4,1432.1 1454.0,1433.2 1457.7,1434.3 1461.3,1435.4 1464.9,1436.4 1468.6,1437.5 1472.2,1438.6 1475.8,1439.6 1479.4,1440.6 1483.1,1441.7 1486.7,1442.7 1490.3,1443.7 1494.0,1444.7 1497.6,1445.6 1501.2,1446.6 1504.8,1447.6 1508.5,1448.5 1512.1,1449.4 1515.7,1450.3 1519.4,1451.2 1523.0,1452.1 1526.6,1453.0 1530.2,1453.9 1533.9,1454.7 1537.5,1455.5 1541.1,1456.4 1544.7,1457.2 1548.4,1458.0 1552.0,1458.7 1555.6,1459.5 1559.3,1460.2 1562.9,1461.0 1566.5,1461.7 1570.1,1462.4 1573.8,1463.1 1577.4,1463.8 1581.0,1464.5 1584.7,1465.2 1588.3,1465.8 1591.9,1466.5 1595.5,1467.1 1599.2,1467.7 1602.8,1468.4 1606.4,1469.0 1610.1,1469.6 1613.7,1470.2 1617.3,1470.8 1620.9,1471.3 1624.6,1471.9 1628.2,1472.5 1631.8,1473.1 1635.4,1473.6 1639.1,1474.2 1642.7,1474.7 1646.3,1475.2 1650.0,1475.8 1653.6,1476.3 1657.2,1476.8 1660.8,1477.3 1664.5,1477.8 1668.1,1478.3 1671.7,1478.8 1675.4,1479.3 1679.0,1479.8 1682.6,1480.3 1686.2,1480.8 1689.9,1481.2 1693.5,1481.7 1697.1,1482.2 1700.8,1482.6 1704.4,1483.1 1708.0,1483.5 1711.6,1484.0 1715.3,1484.4 1718.9,1484.9 1722.5,1485.3 1726.1,1485.7 1729.8,1486.1 1733.4,1486.6 1737.0,1487.0 1740.7,1487.4 1744.3,1487.8 1747.9,1488.2 1751.5,1488.6 1755.2,1489.0 1758.8,1489.4 1762.4,1489.7 1766.1,1490.1 1769.7,1490.5 1773.3,1490.9 1776.9,1491.2 1780.6,1491.6 1784.2,1492.0 1787.8,1492.3 1791.5,1492.7 1795.1,1493.0 1798.7,1493.3 1802.3,1493.7 1806.0,1494.0 1809.6,1494.3 1813.2,1494.7 1816.8,1495.0 1820.5,1495.3 1824.1,1495.6 1827.7,1495.9 1831.4,1496.2 1835.0,1496.5 1838.6,1496.8 1842.2,1497.1 1845.9,1497.4 1849.5,1497.7 1853.1,1498.0 1856.8,1498.2 1860.4,1498.5 1864.0,1498.8 1867.6,1499.0 1871.3,1499.3 1874.9,1499.6 1878.5,1499.8 1882.2,1500.1 1885.8,1500.3 1889.4,1500.6 1893.0,1500.8 1896.7,1501.0 1900.3,1501.3 1903.9,1501.5 1907.5,1501.7 1911.2,1501.9 1914.8,1502.2 1918.4,1502.4 1922.1,1502.6 1925.7,1502.8 1929.3,1503.0 1932.9,1503.2 1936.6,1503.4 1940.2,1503.6 1943.8,1503.8 1947.5,1504.0 1951.1,1504.2 1954.7,1504.4 1958.3,1504.5 1962.0,1504.7 1965.6,1504.9 1969.2,1505.1 1972.9,1505.2 1976.5,1505.4 1980.1,1505.6 1983.7,1505.7 1987.4,1505.9 1991.0,1506.0 1994.6,1506.2 1998.2,1506.3 2001.9,1506.5 2005.5,1506.6 2009.1,1506.8 2012.8,1506.9 2016.4,1507.1 2020.0,1507.2 2023.6,1507.3 2027.3,1507.5 2030.9,1507.6 2034.5,1507.7 2038.2,1507.9 2041.8,1508.0 2045.4,1508.1 2049.0,1508.2 2052.7,1508.3 2056.3,1508.4 2059.9,1508.6 2063.6,1508.7 2067.2,1508.8 2070.8,1508.9 2074.4,1509.0 2078.1,1509.1 2081.7,1509.2 2085.3,1509.3 2088.9,1509.4 2092.6,1509.5 2096.2,1509.6 2099.8,1509.7 2103.5,1509.8 2107.1,1509.9 2110.7,1510.0 2114.3,1510.1 2118.0,1510.2 2121.6,1510.2 2125.2,1510.3 2128.9,1510.4 2132.5,1510.5 2136.1,1510.6 2139.7,1510.7 2143.4,1510.7 2147.0,1510.8 2150.6,1510.9 2154.3,1511.0 2157.9,1511.0 2161.5,1511.1 2165.1,1511.2 2168.8,1511.3 2172.4,1511.3 2176.0,1511.4 2179.6,1511.5 2183.3,1511.5 2186.9,1511.6 2190.5,1511.7 2194.2,1511.7 2197.8,1511.8 2201.4,1511.9 2205.0,1511.9 2208.7,1512.0 2212.3,1512.0 2215.9,1512.1 2219.6,1512.1 2223.2,1512.2 2226.8,1512.2 2230.4,1512.3 2234.1,1512.3 2237.7,1512.4 2241.3,1512.4 2245.0,1512.5 2248.6,1512.5 2252.2,1512.6 2255.8,1512.6 2259.5,1512.6 2263.1,1512.7 2266.7,1512.7 2270.3,1512.8 2274.0,1512.8 2277.6,1512.8 2281.2,1512.8 2284.9,1512.9 2288.5,1512.9 2292.1,1512.9 2295.7,1512.9 2299.4,1513.0 2303.0,1513.0 2305,1513.0"/>
<polyline stroke="#FF0080" points="308,1514.1 311.2,1514.1 314.9,1514.1 318.5,1514.1 322.1,1514.1 325.7,1514.1 329.4,1514.0 333.0,1514.0 336.6,1514.0 340.3,1514.0 343.9,1513.9 347.5,1513.9 351.1,1513.9 354.8,1513.9 358.4,1513.8 362.0,1513.8 365.6,1513.8 369.3,1513.7 372.9,1513.7 376.5,1513.6 380.2,1513.6 383.8,1513.5 387.4,1513.5 391.0,1513.4 394.7,1513.3 398.3,1513.2 401.9,1513.1 405.6,1513.0 409.2,1512.9 412.8,1512.7 416.4,1512.5 420.1,1512.3 423.7,1512.1 427.3,1511.9 431.0,1511.7 434.6,1511.4 438.2,1511.1 441.8,1510.8 445.5,1510.5 449.1,1510.2 452.7,1509.8 456.3,1509.4 460.0,1509.0 463.6,1508.6 467.2,1508.2 470.9,1507.8 474.5,1507.4 478.1,1507.0 481.7,1506.5 485.4,1506.1 489.0,1505.6 492.6,1505.2 496.3,1504.7 499.9,1504.2 503.5,1503.7 507.1,1503.1 510.8,1502.6 514.4,1502.0 518.0,1501.4 521.7,1500.7 525.3,1500.0 528.9,1499.2 532.5,1498.4 536.2,1497.6 539.8,1496.7 543.4,1495.7 547.0,1494.7 550.7,1493.7 554.3,1492.6 557.9,1491.4 561.6,1490.2 565.2,1489.0 568.8,1487.7 572.4,1486.4 576.1,1485.1 579.7,1483.7 583.3,1482.2 587.0,1480.8 590.6,1479.3 594.2,1477.8 597.8,1476.2 601.5,1474.6 605.1,1472.9 608.7,1471.3 612.4,1469.6 616.0,1467.8 619.6,1466.1 623.2,1464.2 626.9,1462.4 630.5,1460.5 634.1,1458.6 637.7,1456.7 641.4,1454.7 645.0,1452.7 648.6,1450.6 652.3,1448.6 655.9,1446.5 659.5,1444.4 663.1,1442.2 666.8,1440.1 670.4,1437.9 674.0,1435.6 677.7,1433.4 681.3,1431.1 684.9,1428.9 688.5,1426.6 692.2,1424.2 695.8,1421.9 699.4,1419.6 703.1,1417.2 706.7,1414.8 710.3,1412.4 713.9,1410.0 717.6,1407.6 721.2,1405.2 724.8,1402.7 728.4,1400.3 732.1,1397.8 735.7,1395.4 739.3,1392.9 743.0,1390.4 746.6,1388.0 750.2,1385.5 753.8,1383.0 757.5,1380.6 761.1,1378.1 764.7,1375.7 768.4,1373.2 772.0,1370.8 775.6,1368.4 779.2,1366.1 782.9,1363.7 786.5,1361.4 790.1,1359.2 793.8,1356.9 797.4,1354.8 801.0,1352.6 804.6,1350.5 808.3,1348.5 811.9,1346.4 815.5,1344.5 819.1,1342.5 822.8,1340.7 826.4,1338.8 830.0,1337.0 833.7,1335.2 837.3,1333.5 840.9,1331.8 844.5,1330.1 848.2,1328.5 851.8,1326.9 855.4,1325.3 859.1,1323.8 862.7,1322.3 866.3,1320.8 869.9,1319.4 873.6,1318.0 877.2,1316.7 880.8,1315.4 884.5,1314.2 888.1,1313.0 891.7,1311.9 895.3,1310.8 899.0,1309.8 902.6,1308.8 906.2,1307.9 909.8,1307.1 913.5,1306.3 917.1,1305.6 920.7,1304.9 924.4,1304.2 928.0,1303.7 931.6,1303.1 935.2,1302.7 938.9,1302.2 942.5,1301.8 946.1,1301.5 949.8,1301.2 953.4,1301.0 957.0,1300.8 960.6,1300.6 964.3,1300.5 967.9,1300.5 971.5,1300.5 975.2,1300.5 978.8,1300.6 982.4,1300.7 986.0,1300.9 989.7,1301.1 993.3,1301.4 996.9,1301.7 1000.5,1302.1 1004.2,1302.5 1007.8,1303.0 1011.4,1303.6 1015.1,1304.1 1018.7,1304.8 1022.3,1305.5 1025.9,1306.2 1029.6,1306.9 1033.2,1307.7 1036.8,1308.6 1040.5,1309.4 1044.1,1310.3 1047.7,1311.2 1051.3,1312.1 1055.0,1313.0 1058.6,1313.9 1062.2,1314.9 1065.9,1315.8 1069.5,1316.8 1073.1,1317.7 1076.7,1318.7 1080.4,1319.7 1084.0,1320.7 1087.6,1321.7 1091.2,1322.7 1094.9,1323.7 1098.5,1324.8 1102.1,1325.8 1105.8,1326.9 1109.4,1328.0 1113.0,1329.2 1116.6,1330.3 1120.3,1331.5 1123.9,1332.7 1127.5,1334.0 1131.2,1335.2 1134.8,1336.5 1138.4,1337.8 1142.0,1339.0 1145.7,1340.4 1149.3,1341.7 1152.9,1343.0 1156.6,1344.3 1160.2,1345.6 1163.8,1347.0 1167.4,1348.3 1171.1,1349.6 1174.7,1350.9 1178.3,1352.2 1181.9,1353.5 1185.6,1354.8 1189.2,1356.1 1192.8,1357.4 1196.5,1358.7 1200.1,1360.0 1203.7,1361.2 1207.3,1362.5 1211.0,1363.8 1214.6,1365.0 1218.2,1366.3 1221.9,1367.6 1225.5,1368.8 1229.1,1370.1 1232.7,1371.4 1236.4,1372.6 1240.0,1373.9 1243.6,1375.2 1247.3,1376.4 1250.9,1377.7 1254.5,1379.0 1258.1,1380.3 1261.8,1381.6 1265.4,1382.9 1269.0,1384.1 1272.6,1385.4 1276.3,1386.7 1279.9,1388.0 1283.5,1389.3 1287.2,1390.5 1290.8,1391.8 1294.4,1393.1 1298.0,1394.3 1301.7,1395.6 1305.3,1396.8 1308.9,1398.0 1312.6,1399.2 1316.2,1400.4 1319.8,1401.6 1323.4,1402.8 1327.1,1404.0 1330.7,1405.1 1334.3,1406.2 1338.0,1407.4 1341.6,1408.5 1345.2,1409.6 1348.8,1410.7 1352.5,1411.8 1356.1,1412.8 1359.7,1413.9 1363.3,1415.0 1367.0,1416.0 1370.6,1417.1 1374.2,1418.1 1377.9,1419.2 1381.5,1420.2 1385.1,1421.2 1388.7,1422.2 1392.4,1423.2 1396.0,1424.3 1399.6,1425.3 1403.3,1426.3 1406.9,1427.3 1410.5,1428.3 1414.1,1429.3 1417.8,1430.3 1421.4,1431.3 1425.0,1432.3 1428.7,1433.3 1432.3,1434.3 1435.9,1435.3 1439.5,1436.3 1443.2,1437.3 1446.8,1438.3 1450.4,1439.2 1454.0,1440.2 1457.7,1441.2 1461.3,1442.2 1464.9,1443.2 1468.6,1444.1 1472.2,1445.1 1475.8,1446.0 1479.4,1447.0 1483.1,1447.9 1486.7,1448.8 1490.3,1449.8 1494.0,1450.7 1497.6,1451.6 1501.2,1452.5 1504.8,1453.3 1508.5,1454.2 1512.1,1455.0 1515.7,1455.9 1519.4,1456.7 1523.0,1457.5 1526.6,1458.4 1530.2,1459.1 1533.9,1459.9 1537.5,1460.7 1541.1,1461.5 1544.7,1462.2 1548.4,1462.9 1552.0,1463.6 1555.6,1464.4 1559.3,1465.0 1562.9,1465.7 1566.5,1466.4 1570.1,1467.1 1573.8,1467.7 1577.4,1468.3 1581.0,1469.0 1584.7,1469.6 1588.3,1470.2 1591.9,1470.8 1595.5,1471.4 1599.2,1472.0 1602.8,1472.5 1606.4,1473.1 1610.1,1473.7 1613.7,1474.2 1617.3,1474.7 1620.9,1475.3 1624.6,1475.8 1628.2,1476.3 1631.8,1476.8 1635.4,1477.4 1639.1,1477.9 1642.7,1478.4 1646.3,1478.8 1650.0,1479.3 1653.6,1479.8 1657.2,1480.3 1660.8,1480.7 1664.5,1481.2 1668.1,1481.7 1671.7,1482.1 1675.4,1482.6 1679.0,1483.0 1682.6,1483.5 1686.2,1483.9 1689.9,1484.3 1693.5,1484.7 1697.1,1485.2 1700.8,1485.6 1704.4,1486.0 1708.0,1486.4 1711.6,1486.8 1715.3,1487.2 1718.9,1487.6 1722.5,1488.0 1726.1,1488.4 1729.8,1488.8 1733.4,1489.2 1737.0,1489.5 1740.7,1489.9 1744.3,1490.3 1747.9,1490.6 1751.5,1491.0 1755.2,1491.4 1758.8,1491.7 1762.4,1492.1 1766.1,1492.4 1769.7,1492.7 1773.3,1493.1 1776.9,1493.4 1780.6,1493.7 1784.2,1494.1 1787.8,1494.4 1791.5,1494.7 1795.1,1495.0 1798.7,1495.3 1802.3,1495.6 1806.0,1495.9 1809.6,1496.2 1813.2,1496.5 1816.8,1496.8 1820.5,1497.1 1824.1,1497.4 1827.7,1497.7 1831.4,1498.0 1835.0,1498.2 1838.6,1498.5 1842.2,1498.8 1845.9,1499.0 1849.5,1499.3 1853.1,1499.5 1856.8,1499.8 1860.4,1500.0 1864.0,1500.3 1867.6,1500.5 1871.3,1500.8 1874.9,1501.0 1878.5,1501.2 1882.2,1501.4 1885.8,1501.7 1889.4,1501.9 1893.0,1502.1 1896.7,1502.3 1900.3,1502.5 1903.9,1502.7 1907.5,1502.9 1911.2,1503.1 1914.8,1503.3 1918.4,1503.5 1922.1,1503.7 1925.7,1503.9 1929.3,1504.1 1932.9,1504.3 1936.6,1504.5 1940.2,1504.7 1943.8,1504.8 1947.5,1505.0 1951.1,1505.2 1954.7,1505.3 1958.3,1505.5 1962.0,1505.7 1965.6,1505.8 1969.2,1506.0 1972.9,1506.1 1976.5,1506.3 1980.1,1506.4 1983.7,1506.6 1987.4,1506.7 1991.0,1506.9 1994.6,1507.0 1998.2,1507.1 2001.9,1507.3 2005.5,1507.4 2009.1,1507.5 2012.8,1507.7 2016.4,1507.8 2020.0,1507.9 2023.6,1508.0 2027.3,1508.1 2030.9,1508.3 2034.5,1508.4 2038.2,1508.5 2041.8,1508.6 2045.4,1508.7 2049.0,1508.8 2052.7,1508.9 2056.3,1509.0 2059.9,1509.1 2063.6,1509.2 2067.2,1509.3 2070.8,1509.4 2074.4,1509.5 2078.1,1509.6 2081.7,1509.7 2085.3,1509.8 2088.9,1509.9 2092.6,1510.0 2096.2,1510.1 2099.8,1510.2 2103.5,1510.2 2107.1,1510.3 2110.7,1510.4 2114.3,1510.5 2118.0,1510.6 2121.6,1510.6 2125.2,1510.7 2128.9,1510.8 2132.5,1510.9 2136.1,1510.9 2139.7,1511.0 2143.4,1511.1 2147.0,1511.1 2150.6,1511.2 2154.3,1511.3 2157.9,1511.3 2161.5,1511.4 2165.1,1511.5 2168.8,1511.5 2172.4,1511.6 2176.0,1511.7 2179.6,1511.7 2183.3,1511.8 2186.9,1511.8 2190.5,1511.9 2194.2,1512.0 2197.8,1512.0 2201.4,1512.1 2205.0,1512.1 2208.7,1512.2 2212.3,1512.2 2215.9,1512.3 2219.6,1512.3 2223.2,1512.4 2226.8,1512.4 2230.4,1512.5 2234.1,1512.5 2237.7,1512.6 2241.3,1512.6 2245.0,1512.6 2248.6,1512.7 2252.2,1512.7 2255.8,1512.8 2259.5,1512.8 2263.1,1512.8 2266.7,1512.9 2270.3,1512.9 2274.0,1512.9 2277.6,1512.9 2281.2,1513.0 2284.9,1513.0 2288.5,1513.0 2292.1,1513.0 2295.7,1513.1 2299.4,1513.1 2303.0,1513.1 2305,1513.1"/>
<polyline stroke="#FFFFFF" points="308,1519.1 311.2,1519.1 314.9,1519.1 318.5,1519.0 322.1,1519.0 325.7,1519.0 329.4,1518.9 333.0,1518.9 336.6,1518.9 340.3,1518.9 343.9,1518.8 347.5,1518.8 351.1,1518.8 354.8,1518.7 358.4,1518.7 362.0,1518.7 365.6,1518.6 369.3,1518.6 372.9,1518.5 376.5,1518.5 380.2,1518.4 383.8,1518.3 387.4,1518.3 391.0,1518.2 394.7,1518.1 398.3,1517.9 401.9,1517.8 405.6,1517.7 409.2,1517.5 412.8,1517.3 416.4,1517.1 420.1,1516.9 423.7,1516.6 427.3,1516.4 431.0,1516.1 434.6,1515.8 438.2,1515.5 441.8,1515.1 445.5,1514.7 449.1,1514.3 452.7,1513.9 456.3,1513.5 460.0,1513.0 463.6,1512.6 467.2,1512.1 470.9,1511.7 474.5,1511.2 478.1,1510.8 481.7,1510.3 485.4,1509.8 489.0,1509.3 492.6,1508.8 496.3,1508.3 499.9,1507.8 503.5,1507.2 507.1,1506.7 510.8,1506.1 514.4,1505.5 518.0,1504.9 521.7,1504.2 525.3,1503.5 528.9,1502.7 532.5,1501.9 536.2,1501.1 539.8,1500.2 543.4,1499.2 547.0,1498.3 550.7,1497.3 554.3,1496.2 557.9,1495.1 561.6,1494.0 565.2,1492.8 568.8,1491.6 572.4,1490.4 576.1,1489.1 579.7,1487.8 583.3,1486.5 587.0,1485.1 590.6,1483.8 594.2,1482.3 597.8,1480.9 601.5,1479.5 605.1,1478.0 608.7,1476.5 612.4,1474.9 616.0,1473.3 619.6,1471.7 623.2,1470.1 626.9,1468.5 630.5,1466.8 634.1,1465.1 637.7,1463.3 641.4,1461.6 645.0,1459.8 648.6,1458.0 652.3,1456.1 655.9,1454.3 659.5,1452.4 663.1,1450.5 666.8,1448.5 670.4,1446.6 674.0,1444.6 677.7,1442.6 681.3,1440.6 684.9,1438.6 688.5,1436.5 692.2,1434.5 695.8,1432.4 699.4,1430.3 703.1,1428.2 706.7,1426.1 710.3,1424.0 713.9,1421.9 717.6,1419.7 721.2,1417.6 724.8,1415.4 728.4,1413.2 732.1,1411.1 735.7,1408.9 739.3,1406.7 743.0,1404.5 746.6,1402.3 750.2,1400.1 753.8,1397.9 757.5,1395.8 761.1,1393.6 764.7,1391.4 768.4,1389.3 772.0,1387.1 775.6,1385.0 779.2,1382.9 782.9,1380.8 786.5,1378.8 790.1,1376.8 793.8,1374.8 797.4,1372.8 801.0,1370.9 804.6,1369.1 808.3,1367.2 811.9,1365.4 815.5,1363.7 819.1,1362.0 822.8,1360.3 826.4,1358.6 830.0,1357.0 833.7,1355.4 837.3,1353.9 840.9,1352.4 844.5,1350.9 848.2,1349.4 851.8,1348.0 855.4,1346.6 859.1,1345.3 862.7,1343.9 866.3,1342.6 869.9,1341.4 873.6,1340.1 877.2,1338.9 880.8,1337.8 884.5,1336.7 888.1,1335.6 891.7,1334.6 895.3,1333.6 899.0,1332.7 902.6,1331.8 906.2,1331.0 909.8,1330.2 913.5,1329.5 917.1,1328.8 920.7,1328.2 924.4,1327.6 928.0,1327.1 931.6,1326.6 935.2,1326.1 938.9,1325.7 942.5,1325.3 946.1,1325.0 949.8,1324.7 953.4,1324.5 957.0,1324.3 960.6,1324.1 964.3,1324.0 967.9,1323.9 971.5,1323.9 975.2,1323.9 978.8,1323.9 982.4,1324.0 986.0,1324.1 989.7,1324.3 993.3,1324.5 996.9,1324.7 1000.5,1325.0 1004.2,1325.4 1007.8,1325.8 1011.4,1326.2 1015.1,1326.7 1018.7,1327.2 1022.3,1327.8 1025.9,1328.4 1029.6,1329.0 1033.2,1329.7 1036.8,1330.4 1040.5,1331.1 1044.1,1331.8 1047.7,1332.6 1051.3,1333.4 1055.0,1334.2 1058.6,1335.0 1062.2,1335.8 1065.9,1336.7 1069.5,1337.5 1073.1,1338.3 1076.7,1339.2 1080.4,1340.0 1084.0,1340.9 1087.6,1341.8 1091.2,1342.6 1094.9,1343.5 1098.5,1344.4 1102.1,1345.4 1105.8,1346.3 1109.4,1347.3 1113.0,1348.3 1116.6,1349.2 1120.3,1350.3 1123.9,1351.3 1127.5,1352.4 1131.2,1353.5 1134.8,1354.6 1138.4,1355.7 1142.0,1356.8 1145.7,1357.9 1149.3,1359.1 1152.9,1360.3 1156.6,1361.4 1160.2,1362.6 1163.8,1363.8 1167.4,1364.9 1171.1,1366.1 1174.7,1367.3 1178.3,1368.4 1181.9,1369.6 1185.6,1370.8 1189.2,1371.9 1192.8,1373.1 1196.5,1374.2 1200.1,1375.3 1203.7,1376.5 1207.3,1377.6 1211.0,1378.7 1214.6,1379.9 1218.2,1381.0 1221.9,1382.1 1225.5,1383.2 1229.1,1384.3 1232.7,1385.5 1236.4,1386.6 1240.0,1387.7 1243.6,1388.8 1247.3,1390.0 1250.9,1391.1 1254.5,1392.2 1258.1,1393.4 1261.8,1394.5 1265.4,1395.6 1269.0,1396.8 1272.6,1397.9 1276.3,1399.1 1279.9,1400.2 1283.5,1401.3 1287.2,1402.5 1290.8,1403.6 1294.4,1404.7 1298.0,1405.9 1301.7,1407.0 1305.3,1408.1 1308.9,1409.2 1312.6,1410.3 1316.2,1411.3 1319.8,1412.4 1323.4,1413.5 1327.1,1414.5 1330.7,1415.6 1334.3,1416.6 1338.0,1417.6 1341.6,1418.6 1345.2,1419.6 1348.8,1420.6 1352.5,1421.6 1356.1,1422.5 1359.7,1423.5 1363.3,1424.5 1367.0,1425.4 1370.6,1426.3 1374.2,1427.3 1377.9,1428.2 1381.5,1429.1 1385.1,1430.0 1388.7,1431.0 1392.4,1431.9 1396.0,1432.8 1399.6,1433.7 1403.3,1434.6 1406.9,1435.5 1410.5,1436.4 1414.1,1437.3 1417.8,1438.1 1421.4,1439.0 1425.0,1439.9 1428.7,1440.8 1432.3,1441.7 1435.9,1442.6 1439.5,1443.5 1443.2,1444.3 1446.8,1445.2 1450.4,1446.1 1454.0,1447.0 1457.7,1447.9 1461.3,1448.7 1464.9,1449.6 1468.6,1450.5 1472.2,1451.3 1475.8,1452.2 1479.4,1453.0 1483.1,1453.9 1486.7,1454.7 1490.3,1455.5 1494.0,1456.3 1497.6,1457.1 1501.2,1458.0 1504.8,1458.7 1508.5,1459.5 1512.1,1460.3 1515.7,1461.1 1519.4,1461.8 1523.0,1462.6 1526.6,1463.3 1530.2,1464.0 1533.9,1464.7 1537.5,1465.4 1541.1,1466.1 1544.7,1466.8 1548.4,1467.5 1552.0,1468.1 1555.6,1468.8 1559.3,1469.4 1562.9,1470.0 1566.5,1470.6 1570.1,1471.2 1573.8,1471.8 1577.4,1472.4 1581.0,1473.0 1584.7,1473.5 1588.3,1474.1 1591.9,1474.6 1595.5,1475.2 1599.2,1475.7 1602.8,1476.2 1606.4,1476.7 1610.1,1477.2 1613.7,1477.7 1617.3,1478.2 1620.9,1478.7 1624.6,1479.2 1628.2,1479.7 1631.8,1480.2 1635.4,1480.6 1639.1,1481.1 1642.7,1481.5 1646.3,1482.0 1650.0,1482.4 1653.6,1482.9 1657.2,1483.3 1660.8,1483.7 1664.5,1484.1 1668.1,1484.6 1671.7,1485.0 1675.4,1485.4 1679.0,1485.8 1682.6,1486.2 1686.2,1486.6 1689.9,1487.0 1693.5,1487.4 1697.1,1487.8 1700.8,1488.2 1704.4,1488.6 1708.0,1489.0 1711.6,1489.4 1715.3,1489.7 1718.9,1490.1 1722.5,1490.5 1726.1,1490.8 1729.8,1491.2 1733.4,1491.6 1737.0,1491.9 1740.7,1492.3 1744.3,1492.7 1747.9,1493.0 1751.5,1493.4 1755.2,1493.7 1758.8,1494.0 1762.4,1494.4 1766.1,1494.7 1769.7,1495.1 1773.3,1495.4 1776.9,1495.7 1780.6,1496.0 1784.2,1496.4 1787.8,1496.7 1791.5,1497.0 1795.1,1497.3 1798.7,1497.6 1802.3,1497.9 1806.0,1498.2 1809.6,1498.5 1813.2,1498.8 1816.8,1499.1 1820.5,1499.4 1824.1,1499.7 1827.7,1500.0 1831.4,1500.3 1835.0,1500.6 1838.6,1500.9 1842.2,1501.1 1845.9,1501.4 1849.5,1501.7 1853.1,1502.0 1856.8,1502.2 1860.4,1502.5 1864.0,1502.8 1867.6,1503.0 1871.3,1503.3 1874.9,1503.5 1878.5,1503.8 1882.2,1504.0 1885.8,1504.3 1889.4,1504.5 1893.0,1504.7 1896.7,1505.0 1900.3,1505.2 1903.9,1505.4 1907.5,1505.7 1911.2,1505.9 1914.8,1506.1 1918.4,1506.3 1922.1,1506.5 1925.7,1506.8 1929.3,1507.0 1932.9,1507.2 1936.6,1507.4 1940.2,1507.6 1943.8,1507.8 1947.5,1508.0 1951.1,1508.2 1954.7,1508.4 1958.3,1508.6 1962.0,1508.7 1965.6,1508.9 1969.2,1509.1 1972.9,1509.3 1976.5,1509.5 1980.1,1509.6 1983.7,1509.8 1987.4,1510.0 1991.0,1510.1 1994.6,1510.3 1998.2,1510.5 2001.9,1510.6 2005.5,1510.8 2009.1,1510.9 2012.8,1511.1 2016.4,1511.2 2020.0,1511.4 2023.6,1511.5 2027.3,1511.7 2030.9,1511.8 2034.5,1511.9 2038.2,1512.1 2041.8,1512.2 2045.4,1512.3 2049.0,1512.5 2052.7,1512.6 2056.3,1512.7 2059.9,1512.8 2063.6,1513.0 2067.2,1513.1 2070.8,1513.2 2074.4,1513.3 2078.1,1513.4 2081.7,1513.5 2085.3,1513.7 2088.9,1513.8 2092.6,1513.9 2096.2,1514.0 2099.8,1514.1 2103.5,1514.2 2107.1,1514.3 2110.7,1514.4 2114.3,1514.5 2118.0,1514.6 2121.6,1514.7 2125.2,1514.8 2128.9,1514.9 2132.5,1514.9 2136.1,1515.0 2139.7,1515.1 2143.4,1515.2 2147.0,1515.3 2150.6,1515.4 2154.3,1515.5 2157.9,1515.5 2161.5,1515.6 2165.1,1515.7 2168.8,1515.8 2172.4,1515.9 2176.0,1515.9 2179.6,1516.0 2183.3,1516.1 2186.9,1516.2 2190.5,1516.2 2194.2,1516.3 2197.8,1516.4 2201.4,1516.4 2205.0,1516.5 2208.7,1516.6 2212.3,1516.6 2215.9,1516.7 2219.6,1516.8 2223.2,1516.8 2226.8,1516.9 2230.4,1516.9 2234.1,1517.0 2237.7,1517.0 2241.3,1517.1 2245.0,1517.2 2248.6,1517.2 2252.2,1517.3 2255.8,1517.3 2259.5,1517.3 2263.1,1517.4 2266.7,1517.4 2270.3,1517.5 2274.0,1517.5 2277.6,1517.6 2281.2,1517.6 2284.9,1517.6 2288.5,1517.7 2292.1,1517.7 2295.7,1517.7 2299.4,1517.7 2303.0,1517.8 2305,1517.8"/>
</g>
<g font-family="Liberation Sans, Arial, sans-serif" font-size="58.5" fill="#000">
<text x="258.5" y="1536.8" text-anchor="end">0</text>
<text x="258.5" y="1290.9" text-anchor="end">200</text>
<text x="258.5" y="1045.1" text-anchor="end">400</text>
<text x="258.5" y="799.2" text-anchor="end">600</text>
<text x="258.5" y="553.4" text-anchor="end">800</text>
<text x="258.5" y="307.5" text-anchor="end">1000</text>
<text x="258.5" y="61.6" text-anchor="end">1200</text>
<text x="490.0" y="1617.3" text-anchor="middle">550</text>
<text x="852.8" y="1617.3" text-anchor="middle">600</text>
<text x="1215.6" y="1617.3" text-anchor="middle">650</text>
<text x="1578.4" y="1617.3" text-anchor="middle">700</text>
<text x="1941.2" y="1617.3" text-anchor="middle">750</text>
<text x="2304.0" y="1617.3" text-anchor="middle">800</text>
</g>
<g font-family="Liberation Serif, Times New Roman, serif" fill="#000">
<text x="1308.5" y="1732.2" font-size="75.5" letter-spacing="-2.1" text-anchor="middle">Wavelength (nm)</text>
<text transform="translate(75.9,831) rotate(-90)" font-size="77" letter-spacing="-1.1" text-anchor="middle">Intensity (a.u.)</text>
<text x="546.5" y="386.8" font-size="70" letter-spacing="-1.6" text-anchor="middle">0 equiv.</text>
<text x="546.5" y="728.8" font-size="70" letter-spacing="-2.0" text-anchor="middle">1.6 equiv.</text>
<text x="548.5" y="554" font-size="69" letter-spacing="-0.5">Cu</text>
<text x="625.5" y="516.9" font-size="41" letter-spacing="1">2+</text>
</g>
<line x1="532.5" y1="399" x2="532.5" y2="646" stroke="#000" stroke-width="6.5"/>
<path d="M521.6,639.8 L542.4,639.8 L534,674.3 L530,674.3 Z" fill="#000"/>
<g stroke="#000" fill="none">
<line x1="1420.5" y1="132" x2="1420.5" y2="897.8" stroke-width="3.3"/>
<line x1="1406.5" y1="889" x2="2274" y2="889" stroke-width="4.1"/>
<line x1="1413.6" y1="820.0" x2="1421" y2="820.0" stroke-width="3.8"/>
<line x1="1407" y1="751.4" x2="1421" y2="751.4" stroke-width="3.8"/>
<line x1="1413.6" y1="682.9" x2="1421" y2="682.9" stroke-width="3.8"/>
<line x1="1407" y1="614.3" x2="1421" y2="614.3" stroke-width="3.8"/>
<line x1="1413.6" y1="545.8" x2="1421" y2="545.8" stroke-width="3.8"/>
<line x1="1407" y1="477.2" x2="1421" y2="477.2" stroke-width="3.8"/>
<line x1="1413.6" y1="408.6" x2="1421" y2="408.6" stroke-width="3.8"/>
<line x1="1407" y1="340.1" x2="1421" y2="340.1" stroke-width="3.8"/>
<line x1="1413.6" y1="271.5" x2="1421" y2="271.5" stroke-width="3.8"/>
<line x1="1407" y1="203.0" x2="1421" y2="203.0" stroke-width="3.8"/>
<line x1="1413.6" y1="134.5" x2="1421" y2="134.5" stroke-width="3.8"/>
<line x1="1470.3" y1="889" x2="1470.3" y2="904.2" stroke-width="3"/>
<line x1="1520.4" y1="889" x2="1520.4" y2="897" stroke-width="3"/>
<line x1="1570.5" y1="889" x2="1570.5" y2="904.2" stroke-width="3"/>
<line x1="1620.7" y1="889" x2="1620.7" y2="897" stroke-width="3"/>
<line x1="1670.8" y1="889" x2="1670.8" y2="904.2" stroke-width="3"/>
<line x1="1720.9" y1="889" x2="1720.9" y2="897" stroke-width="3"/>
<line x1="1771.0" y1="889" x2="1771.0" y2="904.2" stroke-width="3"/>
<line x1="1821.1" y1="889" x2="1821.1" y2="897" stroke-width="3"/>
<line x1="1871.3" y1="889" x2="1871.3" y2="904.2" stroke-width="3"/>
<line x1="1921.4" y1="889" x2="1921.4" y2="897" stroke-width="3"/>
<line x1="1971.5" y1="889" x2="1971.5" y2="904.2" stroke-width="3"/>
<line x1="2021.6" y1="889" x2="2021.6" y2="897" stroke-width="3"/>
<line x1="2071.7" y1="889" x2="2071.7" y2="904.2" stroke-width="3"/>
<line x1="2121.9" y1="889" x2="2121.9" y2="897" stroke-width="3"/>
<line x1="2172.0" y1="889" x2="2172.0" y2="904.2" stroke-width="3"/>
<line x1="2222.1" y1="889" x2="2222.1" y2="897" stroke-width="3"/>
<line x1="2272.2" y1="889" x2="2272.2" y2="904.2" stroke-width="3"/>
</g>
<g font-family="Liberation Sans, Arial, sans-serif" fill="#000" font-size="30.6" letter-spacing="-2.5">
<text x="1399.5" y="896.5" text-anchor="end">0</text>
<text x="1399.5" y="759.4" text-anchor="end">200</text>
<text x="1399.5" y="622.3" text-anchor="end">400</text>
<text x="1399.5" y="485.2" text-anchor="end">600</text>
<text x="1399.5" y="348.1" text-anchor="end">800</text>
<text x="1399.5" y="211.0" text-anchor="end">1000</text>
<text x="1471.3" y="938" text-anchor="middle">0.0</text>
<text x="1571.5" y="938" text-anchor="middle">0.2</text>
<text x="1671.8" y="938" text-anchor="middle">0.4</text>
<text x="1772.0" y="938" text-anchor="middle">0.6</text>
<text x="1872.3" y="938" text-anchor="middle">0.8</text>
<text x="1972.5" y="938" text-anchor="middle">1.0</text>
<text x="2072.7" y="938" text-anchor="middle">1.2</text>
<text x="2173.0" y="938" text-anchor="middle">1.4</text>
<text x="2273.2" y="938" text-anchor="middle">1.6</text>
</g>
<g font-family="Liberation Serif, Times New Roman, serif" fill="#000">
<text transform="translate(1317.2,558.2) rotate(-90)" font-size="49" letter-spacing="-3.4" text-anchor="middle">Intensity</text>
<text x="1772.5" y="991.7" font-size="39" letter-spacing="-3.3">Cu</text>
<text x="1809.5" y="970.7" font-size="22" letter-spacing="0">2+</text>
<text x="1835.7" y="991.7" font-size="39" letter-spacing="-3.5">equiv</text>
</g>
<g stroke="#FF0000" stroke-width="3.2">
<line x1="1501.0" y1="250.8" x2="1515.2" y2="271.8"/>
<line x1="1527.0" y1="286.9" x2="1539.4" y2="301.1"/>
<line x1="1551.6" y1="315.8" x2="1564.8" y2="332.6"/>
<line x1="1576.6" y1="347.7" x2="1589.9" y2="365.2"/>
<line x1="1601.7" y1="380.4" x2="1614.9" y2="397.3"/>
<line x1="1626.8" y1="412.4" x2="1639.8" y2="428.7"/>
<line x1="1651.8" y1="443.7" x2="1664.9" y2="460.0"/>
<line x1="1677.5" y1="474.5" x2="1689.3" y2="487.0"/>
<line x1="1703.5" y1="499.9" x2="1713.4" y2="507.6"/>
<line x1="1727.1" y1="520.9" x2="1739.8" y2="536.0"/>
<line x1="1751.7" y1="551.0" x2="1765.3" y2="569.2"/>
<line x1="1777.2" y1="584.2" x2="1789.9" y2="599.5"/>
<line x1="1802.2" y1="614.2" x2="1815.0" y2="629.4"/>
<line x1="1827.5" y1="644.0" x2="1839.8" y2="657.9"/>
<line x1="1852.0" y1="672.7" x2="1865.4" y2="690.4"/>
<line x1="1877.7" y1="705.0" x2="1889.7" y2="718.0"/>
<line x1="1902.8" y1="732.0" x2="1914.7" y2="744.9"/>
<line x1="1929.8" y1="756.3" x2="1937.8" y2="760.5"/>
<line x1="1954.7" y1="769.7" x2="1963.0" y2="774.4"/>
<line x1="1980.2" y1="782.9" x2="1987.6" y2="786.0"/>
<line x1="2005.1" y1="793.9" x2="2012.7" y2="797.4"/>
<line x1="2030.5" y1="804.8" x2="2037.5" y2="807.4"/>
<line x1="2055.8" y1="812.9" x2="2062.2" y2="814.5"/>
<line x1="2081.0" y1="818.5" x2="2087.1" y2="819.6"/>
<line x1="2106.1" y1="822.5" x2="2112.1" y2="823.3"/>
<line x1="2131.2" y1="824.9" x2="2137.1" y2="825.2"/>
<line x1="2156.2" y1="826.6" x2="2162.1" y2="827.2"/>
<line x1="2181.3" y1="828.2" x2="2187.1" y2="828.2"/>
</g>
<g fill="#FF0000" stroke="#fff" stroke-width="0">
<ellipse cx="1495.6" cy="242.9" rx="7.6" ry="8.8"/>
<ellipse cx="1520.6" cy="279.7" rx="7.6" ry="8.8"/>
<ellipse cx="1545.7" cy="308.3" rx="7.6" ry="8.8"/>
<ellipse cx="1570.7" cy="340.1" rx="7.6" ry="8.8"/>
<ellipse cx="1595.8" cy="372.8" rx="7.6" ry="8.8"/>
<ellipse cx="1620.8" cy="404.9" rx="7.6" ry="8.8"/>
<ellipse cx="1645.8" cy="436.2" rx="7.6" ry="8.8"/>
<ellipse cx="1670.9" cy="467.5" rx="7.6" ry="8.8"/>
<ellipse cx="1695.9" cy="494.0" rx="7.6" ry="8.8"/>
<ellipse cx="1721.0" cy="513.5" rx="7.6" ry="8.8"/>
<ellipse cx="1746.0" cy="543.4" rx="7.6" ry="8.8"/>
<ellipse cx="1771.0" cy="576.9" rx="7.6" ry="8.8"/>
<ellipse cx="1796.1" cy="606.8" rx="7.6" ry="8.8"/>
<ellipse cx="1821.1" cy="636.8" rx="7.6" ry="8.8"/>
<ellipse cx="1846.2" cy="665.1" rx="7.6" ry="8.8"/>
<ellipse cx="1871.2" cy="698.0" rx="7.6" ry="8.8"/>
<ellipse cx="1896.2" cy="725.0" rx="7.6" ry="8.8"/>
<ellipse cx="1921.3" cy="751.9" rx="7.6" ry="8.8"/>
<ellipse cx="1946.3" cy="765.0" rx="7.6" ry="8.8"/>
<ellipse cx="1971.4" cy="779.2" rx="7.6" ry="8.8"/>
<ellipse cx="1996.4" cy="789.8" rx="7.6" ry="8.8"/>
<ellipse cx="2021.4" cy="801.5" rx="7.6" ry="8.8"/>
<ellipse cx="2046.5" cy="810.7" rx="7.6" ry="8.8"/>
<ellipse cx="2071.5" cy="816.7" rx="7.6" ry="8.8"/>
<ellipse cx="2096.6" cy="821.4" rx="7.6" ry="8.8"/>
<ellipse cx="2121.6" cy="824.4" rx="7.6" ry="8.8"/>
<ellipse cx="2146.6" cy="825.7" rx="7.6" ry="8.8"/>
<ellipse cx="2171.7" cy="828.2" rx="7.6" ry="8.8"/>
<ellipse cx="2196.7" cy="828.2" rx="7.6" ry="8.8"/>
</g>
</svg></body></html>
